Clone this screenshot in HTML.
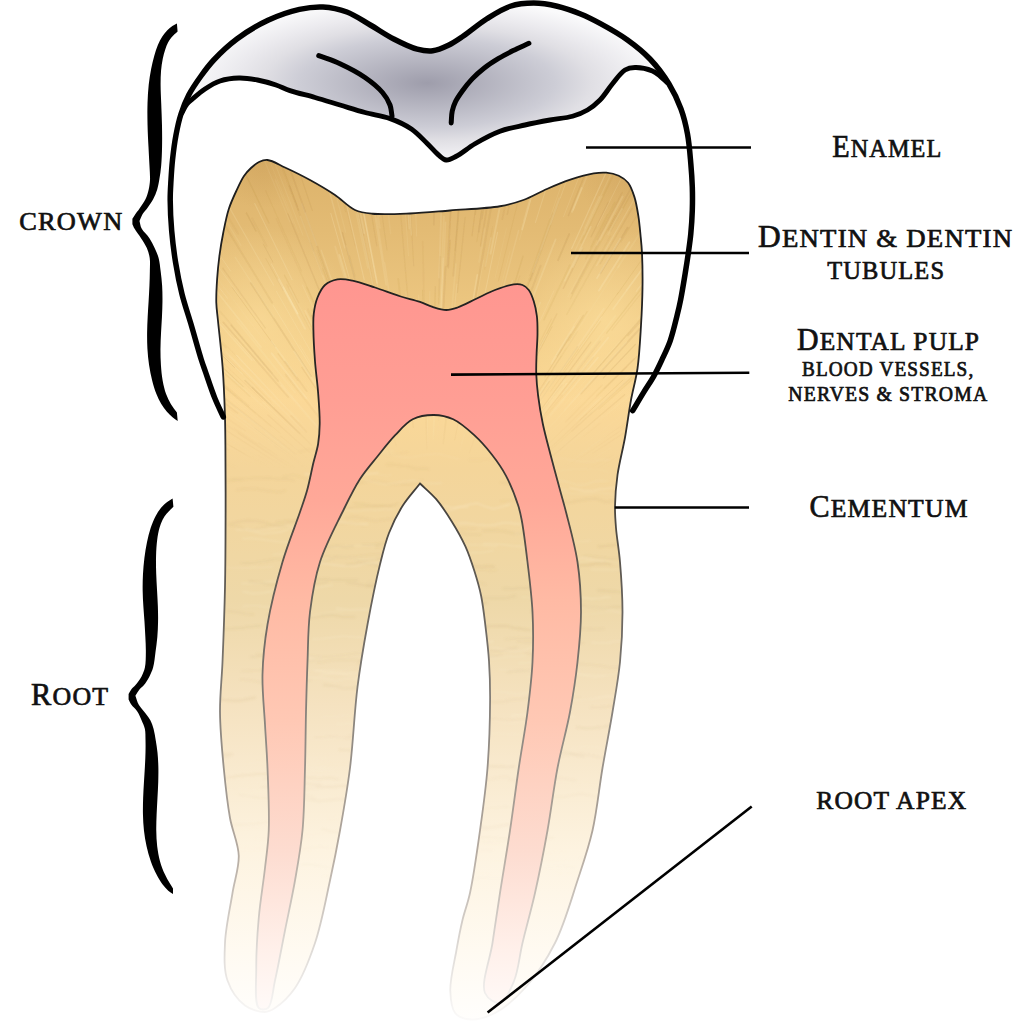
<!DOCTYPE html>
<html><head><meta charset="utf-8"><style>
html,body{margin:0;padding:0;background:#fff;width:1024px;height:1024px;overflow:hidden}
svg{display:block}
text{font-family:"Liberation Serif", serif;fill:#111;font-weight:normal;stroke:#111;stroke-width:0.7px}
</style></head><body>
<svg width="1024" height="1024" viewBox="0 0 1024 1024">
<defs>
  <radialGradient id="gGrey" gradientUnits="userSpaceOnUse" cx="427" cy="83" r="240" gradientTransform="translate(427 83) scale(1 0.35) translate(-427 -83)">
    <stop offset="0" stop-color="#9e9dab"/>
    <stop offset="0.533" stop-color="#cdcdd6"/>
    <stop offset="0.683" stop-color="#e0dfe4"/>
    <stop offset="0.808" stop-color="#ebeaee"/>
    <stop offset="1" stop-color="#fafafb"/>
  </radialGradient>
  <linearGradient id="gDentin" gradientUnits="userSpaceOnUse" x1="0" y1="0" x2="0" y2="1024">
    <stop offset="0.1562" stop-color="#dcb26a"/>
    <stop offset="0.2246" stop-color="#e3bb74"/>
    <stop offset="0.2930" stop-color="#ebc57f"/>
    <stop offset="0.3516" stop-color="#f6d28e"/>
    <stop offset="0.3906" stop-color="#fbd897"/>
    <stop offset="0.4590" stop-color="#f4d59a"/>
    <stop offset="0.5859" stop-color="#eed8a8"/>
    <stop offset="0.6885" stop-color="#f5e2c0"/>
    <stop offset="0.8301" stop-color="#fdf3e0"/>
    <stop offset="0.9277" stop-color="#fffaf1"/>
    <stop offset="0.9961" stop-color="#fffefc"/>
  </linearGradient>
  <linearGradient id="gPulp" gradientUnits="userSpaceOnUse" x1="0" y1="0" x2="0" y2="1024">
    <stop offset="0.2734" stop-color="#ff9690"/>
    <stop offset="0.3906" stop-color="#ff9e94"/>
    <stop offset="0.4883" stop-color="#ffa898"/>
    <stop offset="0.5859" stop-color="#ffbaa4"/>
    <stop offset="0.7031" stop-color="#ffc8b4"/>
    <stop offset="0.8301" stop-color="#fddcd0"/>
    <stop offset="0.9277" stop-color="#fff0ea"/>
    <stop offset="0.9863" stop-color="#fffaf8"/>
  </linearGradient>
  <linearGradient id="gStroke" gradientUnits="userSpaceOnUse" x1="0" y1="0" x2="0" y2="1024">
    <stop offset="0.1562" stop-color="#1c1c1c"/>
    <stop offset="0.4102" stop-color="#2a2826"/>
    <stop offset="0.5469" stop-color="#5a554e"/>
    <stop offset="0.6885" stop-color="#85807a"/>
    <stop offset="0.8301" stop-color="#b4aaa0"/>
    <stop offset="0.9277" stop-color="#dedad6"/>
    <stop offset="0.9961" stop-color="#fbfaf9"/>
  </linearGradient>
  <radialGradient id="gCornerL" gradientUnits="userSpaceOnUse" cx="262" cy="164" r="45">
    <stop offset="0" stop-color="#b88a48" stop-opacity="0.22"/>
    <stop offset="1" stop-color="#b88a48" stop-opacity="0"/>
  </radialGradient>
  <radialGradient id="gCornerR" gradientUnits="userSpaceOnUse" cx="625" cy="180" r="45">
    <stop offset="0" stop-color="#b88a48" stop-opacity="0.18"/>
    <stop offset="1" stop-color="#b88a48" stop-opacity="0"/>
  </radialGradient>
  <filter id="fBlur" x="0" y="0" width="1024" height="1024" filterUnits="userSpaceOnUse"><feGaussianBlur stdDeviation="0.6"/></filter>
  <radialGradient id="gBrightL" gradientUnits="userSpaceOnUse" cx="258" cy="320" r="95">
    <stop offset="0" stop-color="#ffe2a0" stop-opacity="0.55"/>
    <stop offset="1" stop-color="#ffe2a0" stop-opacity="0"/>
  </radialGradient>
  <radialGradient id="gBrightR" gradientUnits="userSpaceOnUse" cx="605" cy="320" r="95">
    <stop offset="0" stop-color="#ffe2a0" stop-opacity="0.6"/>
    <stop offset="1" stop-color="#ffe2a0" stop-opacity="0"/>
  </radialGradient>
  <linearGradient id="gStreakFade" gradientUnits="userSpaceOnUse" x1="0" y1="360" x2="0" y2="470">
    <stop offset="0" stop-color="#fff" stop-opacity="1"/>
    <stop offset="1" stop-color="#fff" stop-opacity="0"/>
  </linearGradient>
  <mask id="mStreak" maskUnits="userSpaceOnUse" x="0" y="0" width="1024" height="1024">
    <rect x="0" y="0" width="1024" height="1024" fill="url(#gStreakFade)"/>
  </mask>
  <filter id="fBlur2" x="0" y="0" width="1024" height="1024" filterUnits="userSpaceOnUse"><feGaussianBlur stdDeviation="1.0"/></filter>
  <linearGradient id="gWaveFade" gradientUnits="userSpaceOnUse" x1="0" y1="420" x2="0" y2="900">
    <stop offset="0" stop-color="#fff" stop-opacity="0"/>
    <stop offset="0.15" stop-color="#fff" stop-opacity="1"/>
    <stop offset="0.7" stop-color="#fff" stop-opacity="0.7"/>
    <stop offset="1" stop-color="#fff" stop-opacity="0"/>
  </linearGradient>
  <mask id="mWave" maskUnits="userSpaceOnUse" x="0" y="0" width="1024" height="1024">
    <rect x="0" y="0" width="1024" height="1024" fill="url(#gWaveFade)"/>
  </mask>
  <clipPath id="cDentin"><path d="M420.00,483.50 C414.17,491.00 407.61,497.89 402.50,506.00 C397.24,514.35 392.71,523.48 389.00,533.00 C385.14,542.90 383.02,552.18 380.00,564.40 C375.86,581.15 371.23,604.23 367.50,624.50 C363.71,645.09 360.30,664.77 357.50,687.00 C354.32,712.20 353.18,742.80 350.00,768.00 C347.20,790.23 343.53,810.86 340.00,830.50 C336.83,848.13 333.86,862.94 330.00,880.50 C325.67,900.21 321.40,924.14 315.00,943.00 C309.40,959.51 302.88,976.53 295.00,988.00 C289.03,996.69 280.88,1004.12 275.00,1008.00 C271.37,1010.39 268.93,1011.87 265.00,1012.00 C259.50,1012.18 250.84,1009.82 245.00,1005.50 C237.97,1000.29 230.92,990.22 227.50,980.50 C223.70,969.71 224.45,956.37 225.00,943.00 C225.64,927.50 230.05,908.46 232.50,893.00 C234.62,879.59 239.15,867.96 238.75,855.50 C238.35,842.96 232.41,831.47 230.00,818.00 C227.25,802.60 225.40,785.16 223.75,768.00 C222.01,749.89 220.15,730.14 220.00,712.00 C219.86,694.87 221.74,680.35 222.50,662.00 C223.44,639.53 224.48,612.00 225.00,587.00 C225.52,562.00 225.54,536.30 225.60,512.00 C225.66,489.04 225.57,463.13 225.40,445.00 C225.28,432.62 225.27,425.21 224.90,413.75 C224.44,399.71 223.76,382.51 222.60,366.90 C221.43,351.26 219.04,331.79 217.90,320.00 C217.21,312.86 216.48,308.98 216.30,302.80 C216.09,295.61 216.58,287.19 217.10,279.40 C217.62,271.59 218.37,263.79 219.40,256.00 C220.43,248.16 221.74,240.31 223.30,232.50 C224.87,224.64 226.44,216.30 228.80,209.00 C230.96,202.32 233.91,196.06 236.60,190.30 C239.00,185.16 241.31,179.95 244.00,176.00 C246.19,172.79 248.46,170.36 251.00,168.00 C253.47,165.71 256.14,163.33 259.00,162.00 C261.67,160.75 264.22,159.71 267.50,160.00 C272.35,160.42 278.69,164.58 285.00,167.50 C292.64,171.04 301.75,175.47 310.00,180.00 C318.42,184.62 327.26,189.79 335.00,195.00 C342.17,199.82 348.21,206.91 355.00,210.00 C360.75,212.62 365.52,213.03 372.50,213.75 C382.60,214.79 397.31,214.02 410.00,213.50 C423.13,212.96 435.93,211.63 450.00,210.50 C465.74,209.24 486.54,208.60 500.00,206.25 C509.35,204.62 515.71,202.80 523.40,200.00 C531.36,197.10 539.02,192.40 546.90,189.00 C554.66,185.65 562.42,182.31 570.30,179.70 C578.04,177.13 587.11,174.47 593.75,173.40 C598.52,172.63 602.11,172.31 606.25,172.70 C610.45,173.09 615.04,174.04 618.75,175.80 C622.28,177.48 625.58,179.65 628.10,182.80 C630.99,186.42 632.74,191.77 634.40,196.90 C636.25,202.60 637.29,209.29 638.30,215.60 C639.33,221.98 639.88,228.65 640.50,235.00 C641.10,241.11 641.66,246.00 642.00,253.00 C642.47,262.74 642.65,276.13 642.50,288.00 C642.34,300.29 641.78,312.58 641.00,325.50 C640.16,339.35 639.39,355.33 637.50,368.50 C635.87,379.87 633.01,389.02 631.00,400.00 C628.82,411.93 627.25,425.02 625.00,437.50 C622.75,450.02 619.17,463.05 617.50,475.00 C615.99,485.78 615.17,496.55 615.00,506.00 C614.86,513.96 615.34,519.88 616.00,528.00 C616.82,538.12 618.96,549.56 620.00,562.00 C621.26,577.05 622.50,595.33 622.50,612.00 C622.50,628.67 621.66,645.37 620.00,662.00 C618.33,678.71 615.31,694.88 612.50,712.00 C609.52,730.16 605.75,748.81 602.50,768.00 C599.07,788.25 596.97,810.97 592.50,830.50 C588.44,848.24 583.27,862.99 577.50,880.50 C570.99,900.26 564.38,924.38 555.00,943.00 C546.53,959.80 535.96,975.81 525.00,988.00 C515.69,998.36 505.06,1007.79 495.00,1013.00 C486.91,1017.19 477.71,1019.93 470.60,1019.50 C464.87,1019.15 458.80,1017.39 455.40,1013.40 C451.37,1008.68 450.62,999.60 450.30,991.00 C449.87,979.52 454.21,963.02 456.40,950.50 C458.31,939.59 460.16,929.82 462.50,920.00 C464.72,910.68 467.61,903.94 470.00,893.00 C473.59,876.55 477.08,851.36 480.00,830.50 C482.91,809.70 485.82,789.31 487.50,768.00 C489.25,745.85 490.00,719.54 490.10,700.00 C490.17,685.21 489.81,673.51 489.00,661.00 C488.25,649.34 486.94,638.33 485.60,627.30 C484.30,616.61 483.12,605.60 481.10,595.80 C479.29,587.01 476.99,579.28 474.40,571.10 C471.77,562.81 469.06,554.50 465.40,546.40 C461.61,538.02 456.80,529.61 451.90,521.70 C447.06,513.89 441.81,505.79 436.20,499.20 C431.11,493.22 425.40,488.73 420.00,483.50 Z"/></clipPath>
</defs>
<path d="M420.00,483.50 C414.17,491.00 407.61,497.89 402.50,506.00 C397.24,514.35 392.71,523.48 389.00,533.00 C385.14,542.90 383.02,552.18 380.00,564.40 C375.86,581.15 371.23,604.23 367.50,624.50 C363.71,645.09 360.30,664.77 357.50,687.00 C354.32,712.20 353.18,742.80 350.00,768.00 C347.20,790.23 343.53,810.86 340.00,830.50 C336.83,848.13 333.86,862.94 330.00,880.50 C325.67,900.21 321.40,924.14 315.00,943.00 C309.40,959.51 302.88,976.53 295.00,988.00 C289.03,996.69 280.88,1004.12 275.00,1008.00 C271.37,1010.39 268.93,1011.87 265.00,1012.00 C259.50,1012.18 250.84,1009.82 245.00,1005.50 C237.97,1000.29 230.92,990.22 227.50,980.50 C223.70,969.71 224.45,956.37 225.00,943.00 C225.64,927.50 230.05,908.46 232.50,893.00 C234.62,879.59 239.15,867.96 238.75,855.50 C238.35,842.96 232.41,831.47 230.00,818.00 C227.25,802.60 225.40,785.16 223.75,768.00 C222.01,749.89 220.15,730.14 220.00,712.00 C219.86,694.87 221.74,680.35 222.50,662.00 C223.44,639.53 224.48,612.00 225.00,587.00 C225.52,562.00 225.54,536.30 225.60,512.00 C225.66,489.04 225.57,463.13 225.40,445.00 C225.28,432.62 225.27,425.21 224.90,413.75 C224.44,399.71 223.76,382.51 222.60,366.90 C221.43,351.26 219.04,331.79 217.90,320.00 C217.21,312.86 216.48,308.98 216.30,302.80 C216.09,295.61 216.58,287.19 217.10,279.40 C217.62,271.59 218.37,263.79 219.40,256.00 C220.43,248.16 221.74,240.31 223.30,232.50 C224.87,224.64 226.44,216.30 228.80,209.00 C230.96,202.32 233.91,196.06 236.60,190.30 C239.00,185.16 241.31,179.95 244.00,176.00 C246.19,172.79 248.46,170.36 251.00,168.00 C253.47,165.71 256.14,163.33 259.00,162.00 C261.67,160.75 264.22,159.71 267.50,160.00 C272.35,160.42 278.69,164.58 285.00,167.50 C292.64,171.04 301.75,175.47 310.00,180.00 C318.42,184.62 327.26,189.79 335.00,195.00 C342.17,199.82 348.21,206.91 355.00,210.00 C360.75,212.62 365.52,213.03 372.50,213.75 C382.60,214.79 397.31,214.02 410.00,213.50 C423.13,212.96 435.93,211.63 450.00,210.50 C465.74,209.24 486.54,208.60 500.00,206.25 C509.35,204.62 515.71,202.80 523.40,200.00 C531.36,197.10 539.02,192.40 546.90,189.00 C554.66,185.65 562.42,182.31 570.30,179.70 C578.04,177.13 587.11,174.47 593.75,173.40 C598.52,172.63 602.11,172.31 606.25,172.70 C610.45,173.09 615.04,174.04 618.75,175.80 C622.28,177.48 625.58,179.65 628.10,182.80 C630.99,186.42 632.74,191.77 634.40,196.90 C636.25,202.60 637.29,209.29 638.30,215.60 C639.33,221.98 639.88,228.65 640.50,235.00 C641.10,241.11 641.66,246.00 642.00,253.00 C642.47,262.74 642.65,276.13 642.50,288.00 C642.34,300.29 641.78,312.58 641.00,325.50 C640.16,339.35 639.39,355.33 637.50,368.50 C635.87,379.87 633.01,389.02 631.00,400.00 C628.82,411.93 627.25,425.02 625.00,437.50 C622.75,450.02 619.17,463.05 617.50,475.00 C615.99,485.78 615.17,496.55 615.00,506.00 C614.86,513.96 615.34,519.88 616.00,528.00 C616.82,538.12 618.96,549.56 620.00,562.00 C621.26,577.05 622.50,595.33 622.50,612.00 C622.50,628.67 621.66,645.37 620.00,662.00 C618.33,678.71 615.31,694.88 612.50,712.00 C609.52,730.16 605.75,748.81 602.50,768.00 C599.07,788.25 596.97,810.97 592.50,830.50 C588.44,848.24 583.27,862.99 577.50,880.50 C570.99,900.26 564.38,924.38 555.00,943.00 C546.53,959.80 535.96,975.81 525.00,988.00 C515.69,998.36 505.06,1007.79 495.00,1013.00 C486.91,1017.19 477.71,1019.93 470.60,1019.50 C464.87,1019.15 458.80,1017.39 455.40,1013.40 C451.37,1008.68 450.62,999.60 450.30,991.00 C449.87,979.52 454.21,963.02 456.40,950.50 C458.31,939.59 460.16,929.82 462.50,920.00 C464.72,910.68 467.61,903.94 470.00,893.00 C473.59,876.55 477.08,851.36 480.00,830.50 C482.91,809.70 485.82,789.31 487.50,768.00 C489.25,745.85 490.00,719.54 490.10,700.00 C490.17,685.21 489.81,673.51 489.00,661.00 C488.25,649.34 486.94,638.33 485.60,627.30 C484.30,616.61 483.12,605.60 481.10,595.80 C479.29,587.01 476.99,579.28 474.40,571.10 C471.77,562.81 469.06,554.50 465.40,546.40 C461.61,538.02 456.80,529.61 451.90,521.70 C447.06,513.89 441.81,505.79 436.20,499.20 C431.11,493.22 425.40,488.73 420.00,483.50 Z" fill="url(#gDentin)"/>
<g clip-path="url(#cDentin)">
  <rect x="180" y="100" width="160" height="160" fill="url(#gCornerL)"/>
  <rect x="540" y="110" width="160" height="160" fill="url(#gCornerR)"/>
  <rect x="150" y="210" width="220" height="220" fill="url(#gBrightL)"/>
  <rect x="500" y="210" width="220" height="220" fill="url(#gBrightR)"/>
  <g stroke-linecap="round" filter="url(#fBlur)" mask="url(#mStreak)">
<line x1="362.4" y1="425.3" x2="324.3" y2="349.2" stroke="#fff2c8" stroke-opacity="0.15" stroke-width="1.2"/>
<line x1="202.9" y1="462.8" x2="181.1" y2="453.5" stroke="#fff2c8" stroke-opacity="0.07" stroke-width="0.9"/>
<line x1="364.1" y1="233.3" x2="357.7" y2="201.6" stroke="#fff2c8" stroke-opacity="0.16" stroke-width="1.9"/>
<line x1="473.9" y1="347.4" x2="497.6" y2="232.2" stroke="#fff2c8" stroke-opacity="0.20" stroke-width="1.1"/>
<line x1="315.6" y1="476.2" x2="274.6" y2="446.2" stroke="#9a7035" stroke-opacity="0.06" stroke-width="1.5"/>
<line x1="505.5" y1="363.4" x2="532.3" y2="293.6" stroke="#fff2c8" stroke-opacity="0.07" stroke-width="1.0"/>
<line x1="533.3" y1="359.6" x2="556.9" y2="313.9" stroke="#9a7035" stroke-opacity="0.08" stroke-width="1.2"/>
<line x1="639.4" y1="347.0" x2="670.6" y2="315.3" stroke="#9a7035" stroke-opacity="0.09" stroke-width="1.9"/>
<line x1="536.9" y1="405.6" x2="604.0" y2="308.6" stroke="#fff2c8" stroke-opacity="0.13" stroke-width="1.7"/>
<line x1="237.7" y1="413.1" x2="218.7" y2="398.5" stroke="#9a7035" stroke-opacity="0.11" stroke-width="1.5"/>
<line x1="592.9" y1="453.3" x2="667.8" y2="404.2" stroke="#9a7035" stroke-opacity="0.09" stroke-width="1.3"/>
<line x1="715.3" y1="332.3" x2="768.0" y2="290.2" stroke="#9a7035" stroke-opacity="0.05" stroke-width="1.6"/>
<line x1="573.2" y1="210.0" x2="611.8" y2="115.4" stroke="#fff2c8" stroke-opacity="0.12" stroke-width="1.6"/>
<line x1="206.6" y1="488.2" x2="171.5" y2="477.0" stroke="#fff2c8" stroke-opacity="0.07" stroke-width="1.7"/>
<line x1="283.3" y1="461.2" x2="234.3" y2="428.2" stroke="#9a7035" stroke-opacity="0.05" stroke-width="1.3"/>
<line x1="475.3" y1="214.4" x2="488.6" y2="113.4" stroke="#9a7035" stroke-opacity="0.07" stroke-width="1.3"/>
<line x1="303.0" y1="235.2" x2="260.9" y2="127.4" stroke="#fff2c8" stroke-opacity="0.09" stroke-width="1.1"/>
<line x1="274.1" y1="376.3" x2="223.0" y2="316.1" stroke="#fff2c8" stroke-opacity="0.06" stroke-width="1.3"/>
<line x1="341.1" y1="312.6" x2="302.1" y2="204.1" stroke="#9a7035" stroke-opacity="0.09" stroke-width="1.5"/>
<line x1="485.9" y1="448.6" x2="535.2" y2="350.4" stroke="#9a7035" stroke-opacity="0.12" stroke-width="1.8"/>
<line x1="369.0" y1="351.0" x2="360.5" y2="321.9" stroke="#9a7035" stroke-opacity="0.05" stroke-width="0.9"/>
<line x1="323.1" y1="449.4" x2="285.5" y2="410.6" stroke="#fff2c8" stroke-opacity="0.06" stroke-width="1.0"/>
<line x1="249.2" y1="456.7" x2="229.7" y2="445.5" stroke="#9a7035" stroke-opacity="0.10" stroke-width="1.0"/>
<line x1="306.1" y1="398.2" x2="271.7" y2="353.4" stroke="#fff2c8" stroke-opacity="0.20" stroke-width="2.0"/>
<line x1="408.4" y1="320.3" x2="405.9" y2="291.9" stroke="#fff2c8" stroke-opacity="0.11" stroke-width="1.1"/>
<line x1="547.2" y1="460.7" x2="564.2" y2="446.3" stroke="#9a7035" stroke-opacity="0.09" stroke-width="1.0"/>
<line x1="443.3" y1="443.5" x2="451.6" y2="371.1" stroke="#9a7035" stroke-opacity="0.12" stroke-width="1.6"/>
<line x1="306.8" y1="391.2" x2="285.2" y2="361.5" stroke="#9a7035" stroke-opacity="0.09" stroke-width="1.7"/>
<line x1="356.0" y1="406.7" x2="312.1" y2="315.6" stroke="#9a7035" stroke-opacity="0.12" stroke-width="1.8"/>
<line x1="660.7" y1="353.3" x2="692.5" y2="324.8" stroke="#fff2c8" stroke-opacity="0.12" stroke-width="0.8"/>
<line x1="254.3" y1="500.8" x2="210.8" y2="486.1" stroke="#9a7035" stroke-opacity="0.13" stroke-width="1.3"/>
<line x1="774.4" y1="407.2" x2="880.0" y2="360.4" stroke="#fff2c8" stroke-opacity="0.10" stroke-width="1.1"/>
<line x1="311.5" y1="445.0" x2="252.3" y2="387.6" stroke="#9a7035" stroke-opacity="0.12" stroke-width="1.4"/>
<line x1="558.0" y1="260.3" x2="569.2" y2="234.1" stroke="#9a7035" stroke-opacity="0.12" stroke-width="1.7"/>
<line x1="576.6" y1="371.2" x2="599.8" y2="341.3" stroke="#9a7035" stroke-opacity="0.07" stroke-width="1.8"/>
<line x1="635.4" y1="490.5" x2="692.4" y2="471.3" stroke="#9a7035" stroke-opacity="0.11" stroke-width="1.0"/>
<line x1="304.4" y1="476.5" x2="212.4" y2="415.4" stroke="#9a7035" stroke-opacity="0.05" stroke-width="1.8"/>
<line x1="704.3" y1="474.1" x2="756.9" y2="457.7" stroke="#fff2c8" stroke-opacity="0.08" stroke-width="0.8"/>
<line x1="700.2" y1="468.0" x2="769.0" y2="444.6" stroke="#9a7035" stroke-opacity="0.08" stroke-width="1.8"/>
<line x1="556.6" y1="451.1" x2="590.9" y2="421.7" stroke="#fff2c8" stroke-opacity="0.10" stroke-width="1.5"/>
<line x1="297.6" y1="380.4" x2="278.0" y2="353.7" stroke="#9a7035" stroke-opacity="0.07" stroke-width="1.3"/>
<line x1="507.3" y1="214.4" x2="520.8" y2="153.8" stroke="#9a7035" stroke-opacity="0.09" stroke-width="1.4"/>
<line x1="437.1" y1="445.2" x2="441.1" y2="381.3" stroke="#fff2c8" stroke-opacity="0.06" stroke-width="1.8"/>
<line x1="249.0" y1="405.7" x2="178.6" y2="345.6" stroke="#9a7035" stroke-opacity="0.07" stroke-width="1.4"/>
<line x1="476.9" y1="241.7" x2="481.4" y2="211.4" stroke="#9a7035" stroke-opacity="0.06" stroke-width="1.1"/>
<line x1="592.6" y1="374.0" x2="642.8" y2="316.7" stroke="#9a7035" stroke-opacity="0.12" stroke-width="1.3"/>
<line x1="502.1" y1="324.3" x2="523.0" y2="256.2" stroke="#9a7035" stroke-opacity="0.08" stroke-width="1.4"/>
<line x1="408.9" y1="196.4" x2="403.7" y2="106.6" stroke="#9a7035" stroke-opacity="0.12" stroke-width="1.1"/>
<line x1="487.0" y1="199.8" x2="503.3" y2="97.1" stroke="#fff2c8" stroke-opacity="0.08" stroke-width="1.3"/>
<line x1="271.9" y1="485.0" x2="247.2" y2="473.3" stroke="#9a7035" stroke-opacity="0.11" stroke-width="1.9"/>
<line x1="190.1" y1="374.3" x2="122.1" y2="321.6" stroke="#fff2c8" stroke-opacity="0.20" stroke-width="2.0"/>
<line x1="182.4" y1="288.8" x2="142.1" y2="244.7" stroke="#fff2c8" stroke-opacity="0.22" stroke-width="1.8"/>
<line x1="253.5" y1="418.0" x2="197.7" y2="373.2" stroke="#fff2c8" stroke-opacity="0.09" stroke-width="1.2"/>
<line x1="493.8" y1="464.0" x2="535.5" y2="401.2" stroke="#fff2c8" stroke-opacity="0.06" stroke-width="1.2"/>
<line x1="509.8" y1="324.8" x2="518.3" y2="299.8" stroke="#9a7035" stroke-opacity="0.11" stroke-width="2.0"/>
<line x1="273.0" y1="468.5" x2="252.3" y2="456.4" stroke="#9a7035" stroke-opacity="0.06" stroke-width="1.0"/>
<line x1="357.5" y1="211.4" x2="336.7" y2="111.6" stroke="#fff2c8" stroke-opacity="0.08" stroke-width="1.9"/>
<line x1="485.4" y1="266.1" x2="490.8" y2="237.6" stroke="#fff2c8" stroke-opacity="0.17" stroke-width="1.3"/>
<line x1="101.6" y1="404.4" x2="26.2" y2="368.7" stroke="#9a7035" stroke-opacity="0.05" stroke-width="1.8"/>
<line x1="117.9" y1="417.9" x2="58.4" y2="390.8" stroke="#fff2c8" stroke-opacity="0.15" stroke-width="1.9"/>
<line x1="346.7" y1="441.5" x2="304.9" y2="382.0" stroke="#fff2c8" stroke-opacity="0.08" stroke-width="1.0"/>
<line x1="277.5" y1="498.3" x2="230.1" y2="479.1" stroke="#fff2c8" stroke-opacity="0.18" stroke-width="1.1"/>
<line x1="430.0" y1="402.0" x2="430.0" y2="347.3" stroke="#fff2c8" stroke-opacity="0.10" stroke-width="0.8"/>
<line x1="579.3" y1="348.6" x2="601.8" y2="316.8" stroke="#fff2c8" stroke-opacity="0.21" stroke-width="0.9"/>
<line x1="599.0" y1="409.0" x2="650.9" y2="362.7" stroke="#9a7035" stroke-opacity="0.08" stroke-width="1.4"/>
<line x1="608.4" y1="229.9" x2="634.2" y2="182.1" stroke="#9a7035" stroke-opacity="0.10" stroke-width="1.6"/>
<line x1="379.3" y1="362.6" x2="372.9" y2="337.9" stroke="#fff2c8" stroke-opacity="0.07" stroke-width="1.7"/>
<line x1="337.4" y1="436.9" x2="320.3" y2="414.1" stroke="#9a7035" stroke-opacity="0.12" stroke-width="1.6"/>
<line x1="334.5" y1="412.9" x2="307.7" y2="371.5" stroke="#fff2c8" stroke-opacity="0.09" stroke-width="1.3"/>
<line x1="213.8" y1="260.2" x2="145.2" y2="165.0" stroke="#fff2c8" stroke-opacity="0.10" stroke-width="2.0"/>
<line x1="330.6" y1="379.2" x2="321.0" y2="361.6" stroke="#fff2c8" stroke-opacity="0.14" stroke-width="1.4"/>
<line x1="255.2" y1="386.5" x2="240.7" y2="372.1" stroke="#fff2c8" stroke-opacity="0.07" stroke-width="1.3"/>
<line x1="321.4" y1="519.0" x2="274.3" y2="501.1" stroke="#fff2c8" stroke-opacity="0.15" stroke-width="1.4"/>
<line x1="606.6" y1="333.1" x2="662.8" y2="260.8" stroke="#9a7035" stroke-opacity="0.08" stroke-width="1.2"/>
<line x1="574.0" y1="516.8" x2="662.5" y2="490.2" stroke="#9a7035" stroke-opacity="0.04" stroke-width="1.8"/>
<line x1="670.1" y1="417.2" x2="750.4" y2="369.5" stroke="#9a7035" stroke-opacity="0.05" stroke-width="1.4"/>
<line x1="433.9" y1="224.6" x2="435.0" y2="124.1" stroke="#9a7035" stroke-opacity="0.09" stroke-width="1.9"/>
<line x1="567.9" y1="296.8" x2="587.9" y2="258.7" stroke="#fff2c8" stroke-opacity="0.08" stroke-width="1.2"/>
<line x1="140.1" y1="390.8" x2="74.6" y2="352.6" stroke="#9a7035" stroke-opacity="0.10" stroke-width="1.6"/>
<line x1="426.9" y1="449.1" x2="424.0" y2="349.4" stroke="#9a7035" stroke-opacity="0.09" stroke-width="1.4"/>
<line x1="482.2" y1="443.3" x2="520.4" y2="357.8" stroke="#fff2c8" stroke-opacity="0.07" stroke-width="1.1"/>
<line x1="524.1" y1="424.0" x2="577.6" y2="346.7" stroke="#9a7035" stroke-opacity="0.08" stroke-width="1.3"/>
<line x1="413.7" y1="265.9" x2="408.3" y2="169.3" stroke="#9a7035" stroke-opacity="0.10" stroke-width="0.9"/>
<line x1="286.8" y1="453.3" x2="211.2" y2="397.0" stroke="#fff2c8" stroke-opacity="0.15" stroke-width="0.8"/>
<line x1="262.7" y1="487.0" x2="182.7" y2="452.1" stroke="#9a7035" stroke-opacity="0.10" stroke-width="1.1"/>
<line x1="440.3" y1="324.8" x2="443.2" y2="258.2" stroke="#fff2c8" stroke-opacity="0.20" stroke-width="1.0"/>
<line x1="775.6" y1="449.7" x2="796.3" y2="443.0" stroke="#fff2c8" stroke-opacity="0.19" stroke-width="2.0"/>
<line x1="405.7" y1="379.1" x2="400.3" y2="338.5" stroke="#9a7035" stroke-opacity="0.06" stroke-width="1.5"/>
<line x1="226.1" y1="412.8" x2="132.6" y2="345.3" stroke="#fff2c8" stroke-opacity="0.19" stroke-width="1.4"/>
<line x1="685.7" y1="403.3" x2="722.5" y2="380.7" stroke="#9a7035" stroke-opacity="0.08" stroke-width="0.8"/>
<line x1="195.5" y1="497.4" x2="132.6" y2="480.6" stroke="#fff2c8" stroke-opacity="0.08" stroke-width="1.2"/>
<line x1="272.8" y1="262.0" x2="263.4" y2="244.2" stroke="#9a7035" stroke-opacity="0.12" stroke-width="0.9"/>
<line x1="703.0" y1="429.6" x2="802.4" y2="382.2" stroke="#fff2c8" stroke-opacity="0.12" stroke-width="1.3"/>
<line x1="690.4" y1="492.3" x2="744.7" y2="478.1" stroke="#fff2c8" stroke-opacity="0.10" stroke-width="0.9"/>
<line x1="138.9" y1="393.4" x2="96.8" y2="369.3" stroke="#9a7035" stroke-opacity="0.06" stroke-width="1.1"/>
<line x1="434.7" y1="398.8" x2="436.3" y2="341.5" stroke="#9a7035" stroke-opacity="0.12" stroke-width="1.8"/>
<line x1="550.8" y1="224.4" x2="589.4" y2="117.1" stroke="#fff2c8" stroke-opacity="0.18" stroke-width="0.9"/>
<line x1="563.4" y1="370.5" x2="618.2" y2="292.6" stroke="#9a7035" stroke-opacity="0.07" stroke-width="0.9"/>
<line x1="560.3" y1="497.9" x2="621.0" y2="469.0" stroke="#fff2c8" stroke-opacity="0.11" stroke-width="1.7"/>
<line x1="601.4" y1="504.3" x2="682.9" y2="477.9" stroke="#fff2c8" stroke-opacity="0.15" stroke-width="1.3"/>
<line x1="311.8" y1="461.9" x2="280.4" y2="435.8" stroke="#9a7035" stroke-opacity="0.08" stroke-width="1.1"/>
<line x1="762.9" y1="378.7" x2="820.0" y2="347.6" stroke="#fff2c8" stroke-opacity="0.09" stroke-width="0.9"/>
<line x1="375.5" y1="436.9" x2="357.7" y2="396.8" stroke="#fff2c8" stroke-opacity="0.15" stroke-width="1.9"/>
<line x1="565.6" y1="384.9" x2="603.2" y2="336.4" stroke="#fff2c8" stroke-opacity="0.12" stroke-width="1.2"/>
<line x1="260.8" y1="485.4" x2="153.9" y2="438.3" stroke="#fff2c8" stroke-opacity="0.14" stroke-width="1.6"/>
<line x1="567.6" y1="463.1" x2="606.2" y2="436.0" stroke="#fff2c8" stroke-opacity="0.12" stroke-width="1.3"/>
<line x1="745.8" y1="436.5" x2="845.8" y2="397.4" stroke="#fff2c8" stroke-opacity="0.07" stroke-width="1.7"/>
<line x1="635.6" y1="440.5" x2="703.6" y2="400.9" stroke="#fff2c8" stroke-opacity="0.12" stroke-width="1.9"/>
<line x1="688.2" y1="337.3" x2="777.0" y2="260.8" stroke="#fff2c8" stroke-opacity="0.08" stroke-width="1.0"/>
<line x1="447.4" y1="266.4" x2="454.1" y2="152.4" stroke="#9a7035" stroke-opacity="0.10" stroke-width="1.7"/>
<line x1="400.9" y1="302.7" x2="398.2" y2="278.9" stroke="#9a7035" stroke-opacity="0.06" stroke-width="1.9"/>
<line x1="501.9" y1="382.0" x2="514.2" y2="351.6" stroke="#fff2c8" stroke-opacity="0.16" stroke-width="1.6"/>
<line x1="319.8" y1="492.9" x2="258.0" y2="455.2" stroke="#9a7035" stroke-opacity="0.07" stroke-width="1.1"/>
<line x1="459.7" y1="451.2" x2="473.0" y2="402.8" stroke="#fff2c8" stroke-opacity="0.21" stroke-width="1.6"/>
<line x1="632.2" y1="433.8" x2="669.1" y2="410.8" stroke="#fff2c8" stroke-opacity="0.21" stroke-width="1.6"/>
<line x1="373.6" y1="458.8" x2="339.6" y2="397.8" stroke="#9a7035" stroke-opacity="0.08" stroke-width="1.1"/>
<line x1="583.8" y1="234.7" x2="602.0" y2="196.1" stroke="#fff2c8" stroke-opacity="0.11" stroke-width="1.3"/>
<line x1="505.8" y1="415.1" x2="552.0" y2="326.8" stroke="#9a7035" stroke-opacity="0.09" stroke-width="1.0"/>
<line x1="613.6" y1="496.9" x2="710.1" y2="463.8" stroke="#fff2c8" stroke-opacity="0.10" stroke-width="1.7"/>
<line x1="240.9" y1="245.4" x2="205.1" y2="185.8" stroke="#fff2c8" stroke-opacity="0.10" stroke-width="1.3"/>
<line x1="584.7" y1="228.1" x2="599.3" y2="196.7" stroke="#fff2c8" stroke-opacity="0.09" stroke-width="2.0"/>
<line x1="329.5" y1="487.4" x2="308.4" y2="472.1" stroke="#fff2c8" stroke-opacity="0.20" stroke-width="1.9"/>
<line x1="648.6" y1="250.0" x2="713.8" y2="157.5" stroke="#fff2c8" stroke-opacity="0.09" stroke-width="1.9"/>
<line x1="501.8" y1="465.6" x2="554.1" y2="396.8" stroke="#fff2c8" stroke-opacity="0.12" stroke-width="1.2"/>
<line x1="345.1" y1="488.8" x2="308.4" y2="458.0" stroke="#fff2c8" stroke-opacity="0.21" stroke-width="0.9"/>
<line x1="586.2" y1="503.8" x2="638.6" y2="484.9" stroke="#9a7035" stroke-opacity="0.11" stroke-width="1.3"/>
<line x1="209.2" y1="471.5" x2="156.1" y2="450.2" stroke="#9a7035" stroke-opacity="0.06" stroke-width="1.2"/>
<line x1="532.4" y1="501.0" x2="585.3" y2="470.4" stroke="#9a7035" stroke-opacity="0.11" stroke-width="0.8"/>
<line x1="310.5" y1="517.3" x2="205.0" y2="479.6" stroke="#fff2c8" stroke-opacity="0.18" stroke-width="1.9"/>
<line x1="354.4" y1="392.8" x2="306.7" y2="287.3" stroke="#9a7035" stroke-opacity="0.06" stroke-width="1.7"/>
<line x1="344.1" y1="396.8" x2="334.7" y2="378.8" stroke="#9a7035" stroke-opacity="0.12" stroke-width="1.6"/>
<line x1="537.3" y1="514.5" x2="577.2" y2="497.6" stroke="#fff2c8" stroke-opacity="0.21" stroke-width="1.9"/>
<line x1="377.5" y1="390.1" x2="359.0" y2="329.9" stroke="#fff2c8" stroke-opacity="0.21" stroke-width="1.0"/>
<line x1="651.6" y1="344.1" x2="724.9" y2="272.7" stroke="#9a7035" stroke-opacity="0.09" stroke-width="1.2"/>
<line x1="334.8" y1="375.4" x2="289.8" y2="288.1" stroke="#fff2c8" stroke-opacity="0.09" stroke-width="1.7"/>
<line x1="351.2" y1="459.8" x2="336.7" y2="441.5" stroke="#9a7035" stroke-opacity="0.07" stroke-width="2.0"/>
<line x1="749.4" y1="360.3" x2="788.8" y2="335.6" stroke="#fff2c8" stroke-opacity="0.08" stroke-width="1.4"/>
<line x1="551.3" y1="363.8" x2="574.1" y2="326.8" stroke="#fff2c8" stroke-opacity="0.16" stroke-width="1.6"/>
<line x1="636.2" y1="291.3" x2="688.8" y2="222.7" stroke="#fff2c8" stroke-opacity="0.19" stroke-width="1.2"/>
<line x1="467.0" y1="352.6" x2="483.5" y2="260.2" stroke="#fff2c8" stroke-opacity="0.10" stroke-width="1.1"/>
<line x1="153.6" y1="347.3" x2="92.0" y2="299.8" stroke="#fff2c8" stroke-opacity="0.12" stroke-width="2.0"/>
<line x1="433.3" y1="387.6" x2="435.3" y2="286.7" stroke="#9a7035" stroke-opacity="0.13" stroke-width="0.9"/>
<line x1="408.0" y1="229.6" x2="401.0" y2="125.8" stroke="#9a7035" stroke-opacity="0.04" stroke-width="1.2"/>
<line x1="293.9" y1="473.6" x2="194.9" y2="410.7" stroke="#9a7035" stroke-opacity="0.12" stroke-width="1.2"/>
<line x1="620.3" y1="428.5" x2="658.1" y2="402.4" stroke="#9a7035" stroke-opacity="0.13" stroke-width="0.9"/>
<line x1="499.6" y1="291.5" x2="510.1" y2="251.1" stroke="#fff2c8" stroke-opacity="0.08" stroke-width="1.0"/>
<line x1="266.2" y1="343.1" x2="214.9" y2="275.1" stroke="#fff2c8" stroke-opacity="0.06" stroke-width="1.2"/>
<line x1="502.5" y1="417.4" x2="525.8" y2="371.7" stroke="#fff2c8" stroke-opacity="0.19" stroke-width="1.5"/>
<line x1="304.5" y1="504.2" x2="250.1" y2="480.0" stroke="#9a7035" stroke-opacity="0.10" stroke-width="0.9"/>
<line x1="199.1" y1="372.0" x2="151.8" y2="333.5" stroke="#fff2c8" stroke-opacity="0.11" stroke-width="1.9"/>
<line x1="305.0" y1="328.6" x2="278.6" y2="279.6" stroke="#fff2c8" stroke-opacity="0.20" stroke-width="2.0"/>
<line x1="372.6" y1="407.2" x2="339.9" y2="320.3" stroke="#fff2c8" stroke-opacity="0.06" stroke-width="1.9"/>
<line x1="363.7" y1="235.2" x2="351.6" y2="175.8" stroke="#9a7035" stroke-opacity="0.08" stroke-width="1.0"/>
<line x1="181.9" y1="485.8" x2="101.4" y2="461.8" stroke="#9a7035" stroke-opacity="0.05" stroke-width="1.5"/>
<line x1="347.7" y1="328.0" x2="336.1" y2="295.4" stroke="#fff2c8" stroke-opacity="0.14" stroke-width="1.9"/>
<line x1="221.9" y1="435.7" x2="135.6" y2="384.2" stroke="#9a7035" stroke-opacity="0.06" stroke-width="1.0"/>
<line x1="773.7" y1="414.1" x2="836.5" y2="387.4" stroke="#fff2c8" stroke-opacity="0.21" stroke-width="1.3"/>
<line x1="673.0" y1="426.0" x2="762.7" y2="376.5" stroke="#fff2c8" stroke-opacity="0.19" stroke-width="1.1"/>
<line x1="345.6" y1="232.2" x2="319.9" y2="132.5" stroke="#fff2c8" stroke-opacity="0.09" stroke-width="1.3"/>
<line x1="440.1" y1="346.7" x2="441.6" y2="314.4" stroke="#fff2c8" stroke-opacity="0.18" stroke-width="1.9"/>
<line x1="184.9" y1="467.8" x2="95.3" y2="434.1" stroke="#fff2c8" stroke-opacity="0.19" stroke-width="0.9"/>
<line x1="497.1" y1="310.4" x2="518.6" y2="230.5" stroke="#fff2c8" stroke-opacity="0.13" stroke-width="1.5"/>
<line x1="373.9" y1="277.6" x2="361.3" y2="214.2" stroke="#fff2c8" stroke-opacity="0.06" stroke-width="1.5"/>
<line x1="425.2" y1="386.5" x2="422.5" y2="290.2" stroke="#9a7035" stroke-opacity="0.08" stroke-width="1.0"/>
<line x1="420.2" y1="421.4" x2="417.9" y2="388.7" stroke="#fff2c8" stroke-opacity="0.07" stroke-width="1.3"/>
<line x1="433.2" y1="439.0" x2="435.5" y2="355.4" stroke="#fff2c8" stroke-opacity="0.18" stroke-width="1.7"/>
<line x1="433.8" y1="435.4" x2="435.9" y2="365.0" stroke="#fff2c8" stroke-opacity="0.21" stroke-width="1.0"/>
<line x1="736.5" y1="337.2" x2="811.9" y2="282.4" stroke="#9a7035" stroke-opacity="0.06" stroke-width="2.0"/>
<line x1="422.1" y1="191.8" x2="419.7" y2="80.2" stroke="#fff2c8" stroke-opacity="0.19" stroke-width="1.9"/>
<line x1="243.4" y1="475.7" x2="156.3" y2="436.4" stroke="#fff2c8" stroke-opacity="0.20" stroke-width="1.1"/>
<line x1="540.1" y1="459.9" x2="592.0" y2="412.7" stroke="#9a7035" stroke-opacity="0.06" stroke-width="1.1"/>
<line x1="433.1" y1="363.9" x2="433.5" y2="340.2" stroke="#fff2c8" stroke-opacity="0.09" stroke-width="1.9"/>
<line x1="590.6" y1="247.0" x2="607.4" y2="214.2" stroke="#9a7035" stroke-opacity="0.05" stroke-width="1.4"/>
<line x1="502.9" y1="366.1" x2="540.7" y2="265.7" stroke="#9a7035" stroke-opacity="0.09" stroke-width="1.9"/>
<line x1="103.3" y1="369.7" x2="31.6" y2="328.0" stroke="#fff2c8" stroke-opacity="0.19" stroke-width="1.1"/>
<line x1="685.8" y1="487.4" x2="739.7" y2="472.2" stroke="#9a7035" stroke-opacity="0.08" stroke-width="1.0"/>
<line x1="503.8" y1="461.5" x2="564.9" y2="379.9" stroke="#fff2c8" stroke-opacity="0.16" stroke-width="2.0"/>
<line x1="495.0" y1="278.2" x2="506.5" y2="228.2" stroke="#fff2c8" stroke-opacity="0.07" stroke-width="1.0"/>
<line x1="498.3" y1="343.8" x2="519.8" y2="275.9" stroke="#9a7035" stroke-opacity="0.05" stroke-width="1.1"/>
<line x1="475.6" y1="453.3" x2="483.6" y2="434.7" stroke="#fff2c8" stroke-opacity="0.08" stroke-width="1.2"/>
<line x1="252.0" y1="360.2" x2="199.5" y2="301.3" stroke="#fff2c8" stroke-opacity="0.16" stroke-width="1.4"/>
<line x1="131.9" y1="353.0" x2="95.5" y2="327.7" stroke="#fff2c8" stroke-opacity="0.08" stroke-width="1.6"/>
<line x1="696.7" y1="381.0" x2="746.7" y2="347.5" stroke="#fff2c8" stroke-opacity="0.06" stroke-width="1.6"/>
<line x1="463.5" y1="358.2" x2="477.3" y2="274.8" stroke="#fff2c8" stroke-opacity="0.21" stroke-width="1.7"/>
<line x1="212.0" y1="281.2" x2="196.9" y2="262.0" stroke="#fff2c8" stroke-opacity="0.12" stroke-width="1.1"/>
<line x1="135.7" y1="433.7" x2="116.2" y2="425.3" stroke="#9a7035" stroke-opacity="0.12" stroke-width="1.0"/>
<line x1="234.7" y1="367.6" x2="184.3" y2="318.0" stroke="#9a7035" stroke-opacity="0.11" stroke-width="1.0"/>
<line x1="337.9" y1="392.6" x2="325.9" y2="370.8" stroke="#9a7035" stroke-opacity="0.11" stroke-width="1.7"/>
<line x1="104.1" y1="470.5" x2="12.9" y2="445.4" stroke="#fff2c8" stroke-opacity="0.18" stroke-width="1.3"/>
<line x1="338.4" y1="456.2" x2="309.8" y2="423.8" stroke="#fff2c8" stroke-opacity="0.11" stroke-width="1.7"/>
<line x1="596.6" y1="265.6" x2="641.5" y2="186.3" stroke="#fff2c8" stroke-opacity="0.15" stroke-width="1.3"/>
<line x1="603.3" y1="378.1" x2="635.4" y2="344.4" stroke="#9a7035" stroke-opacity="0.13" stroke-width="1.1"/>
<line x1="526.2" y1="498.6" x2="565.0" y2="473.9" stroke="#fff2c8" stroke-opacity="0.18" stroke-width="1.9"/>
<line x1="549.9" y1="402.1" x2="615.2" y2="316.1" stroke="#fff2c8" stroke-opacity="0.10" stroke-width="1.9"/>
<line x1="530.4" y1="280.4" x2="559.7" y2="199.0" stroke="#9a7035" stroke-opacity="0.08" stroke-width="1.8"/>
<line x1="600.1" y1="263.9" x2="631.9" y2="208.6" stroke="#9a7035" stroke-opacity="0.09" stroke-width="1.2"/>
<line x1="238.4" y1="358.4" x2="219.2" y2="338.3" stroke="#9a7035" stroke-opacity="0.05" stroke-width="0.8"/>
<line x1="119.2" y1="376.7" x2="72.3" y2="349.0" stroke="#fff2c8" stroke-opacity="0.06" stroke-width="0.8"/>
<line x1="566.8" y1="314.4" x2="610.5" y2="236.0" stroke="#9a7035" stroke-opacity="0.05" stroke-width="1.5"/>
<line x1="313.3" y1="250.5" x2="277.4" y2="155.1" stroke="#9a7035" stroke-opacity="0.05" stroke-width="1.8"/>
<line x1="754.2" y1="392.4" x2="781.5" y2="378.3" stroke="#fff2c8" stroke-opacity="0.08" stroke-width="0.8"/>
<line x1="691.5" y1="359.9" x2="757.7" y2="309.2" stroke="#9a7035" stroke-opacity="0.10" stroke-width="1.1"/>
<line x1="311.3" y1="492.8" x2="227.9" y2="445.7" stroke="#fff2c8" stroke-opacity="0.11" stroke-width="1.3"/>
<line x1="259.0" y1="505.9" x2="213.0" y2="491.3" stroke="#9a7035" stroke-opacity="0.07" stroke-width="1.2"/>
<line x1="661.4" y1="476.5" x2="760.3" y2="440.8" stroke="#9a7035" stroke-opacity="0.04" stroke-width="1.3"/>
<line x1="376.8" y1="245.8" x2="367.7" y2="191.8" stroke="#9a7035" stroke-opacity="0.09" stroke-width="1.1"/>
<line x1="539.9" y1="482.4" x2="623.2" y2="423.6" stroke="#fff2c8" stroke-opacity="0.06" stroke-width="1.0"/>
<line x1="668.6" y1="272.0" x2="681.7" y2="256.2" stroke="#fff2c8" stroke-opacity="0.14" stroke-width="1.8"/>
<line x1="249.9" y1="396.1" x2="209.4" y2="359.3" stroke="#9a7035" stroke-opacity="0.06" stroke-width="1.9"/>
<line x1="339.3" y1="418.6" x2="290.7" y2="343.0" stroke="#fff2c8" stroke-opacity="0.08" stroke-width="1.6"/>
<line x1="141.5" y1="415.3" x2="61.3" y2="375.1" stroke="#9a7035" stroke-opacity="0.10" stroke-width="1.2"/>
<line x1="374.2" y1="350.8" x2="346.1" y2="245.4" stroke="#fff2c8" stroke-opacity="0.20" stroke-width="0.8"/>
<line x1="303.2" y1="430.7" x2="226.1" y2="352.1" stroke="#fff2c8" stroke-opacity="0.12" stroke-width="1.9"/>
<line x1="278.4" y1="381.2" x2="231.1" y2="325.3" stroke="#9a7035" stroke-opacity="0.11" stroke-width="1.6"/>
<line x1="352.8" y1="377.4" x2="339.0" y2="344.7" stroke="#9a7035" stroke-opacity="0.10" stroke-width="1.7"/>
<line x1="255.1" y1="413.0" x2="180.5" y2="350.4" stroke="#9a7035" stroke-opacity="0.05" stroke-width="1.4"/>
<line x1="578.1" y1="468.3" x2="611.4" y2="447.6" stroke="#fff2c8" stroke-opacity="0.17" stroke-width="1.8"/>
<line x1="309.8" y1="466.8" x2="274.4" y2="439.4" stroke="#fff2c8" stroke-opacity="0.14" stroke-width="1.0"/>
<line x1="359.4" y1="415.2" x2="307.9" y2="309.6" stroke="#9a7035" stroke-opacity="0.05" stroke-width="2.0"/>
<line x1="244.5" y1="453.9" x2="141.7" y2="395.1" stroke="#9a7035" stroke-opacity="0.11" stroke-width="1.3"/>
<line x1="227.2" y1="363.7" x2="205.1" y2="342.4" stroke="#fff2c8" stroke-opacity="0.12" stroke-width="0.8"/>
<line x1="344.8" y1="247.8" x2="321.3" y2="161.7" stroke="#fff2c8" stroke-opacity="0.16" stroke-width="1.4"/>
<line x1="208.7" y1="400.1" x2="159.7" y2="364.7" stroke="#9a7035" stroke-opacity="0.12" stroke-width="1.3"/>
<line x1="490.6" y1="253.7" x2="502.6" y2="192.7" stroke="#fff2c8" stroke-opacity="0.18" stroke-width="1.9"/>
<line x1="627.9" y1="335.8" x2="697.5" y2="256.9" stroke="#9a7035" stroke-opacity="0.10" stroke-width="1.3"/>
<line x1="297.5" y1="313.7" x2="283.4" y2="287.5" stroke="#fff2c8" stroke-opacity="0.19" stroke-width="1.7"/>
<line x1="489.5" y1="392.8" x2="510.5" y2="334.0" stroke="#fff2c8" stroke-opacity="0.16" stroke-width="1.3"/>
<line x1="591.1" y1="236.8" x2="608.2" y2="202.5" stroke="#9a7035" stroke-opacity="0.11" stroke-width="1.3"/>
<line x1="420.0" y1="187.0" x2="419.4" y2="163.2" stroke="#fff2c8" stroke-opacity="0.09" stroke-width="1.7"/>
<line x1="659.6" y1="460.7" x2="687.3" y2="448.8" stroke="#9a7035" stroke-opacity="0.09" stroke-width="1.7"/>
<line x1="439.1" y1="277.5" x2="442.4" y2="174.7" stroke="#fff2c8" stroke-opacity="0.13" stroke-width="1.9"/>
<line x1="225.8" y1="347.4" x2="184.8" y2="304.6" stroke="#9a7035" stroke-opacity="0.05" stroke-width="2.0"/>
<line x1="383.4" y1="443.7" x2="365.7" y2="399.7" stroke="#fff2c8" stroke-opacity="0.06" stroke-width="1.3"/>
<line x1="367.9" y1="268.0" x2="356.4" y2="214.0" stroke="#fff2c8" stroke-opacity="0.10" stroke-width="1.7"/>
<line x1="661.4" y1="459.5" x2="699.8" y2="442.8" stroke="#9a7035" stroke-opacity="0.08" stroke-width="1.1"/>
<line x1="164.8" y1="381.5" x2="81.1" y2="325.1" stroke="#9a7035" stroke-opacity="0.08" stroke-width="1.5"/>
<line x1="185.0" y1="282.4" x2="148.4" y2="240.9" stroke="#9a7035" stroke-opacity="0.11" stroke-width="1.8"/>
<line x1="414.1" y1="371.2" x2="407.8" y2="296.6" stroke="#fff2c8" stroke-opacity="0.19" stroke-width="1.2"/>
<line x1="575.6" y1="450.4" x2="621.6" y2="415.7" stroke="#fff2c8" stroke-opacity="0.13" stroke-width="1.0"/>
<line x1="135.2" y1="482.1" x2="88.7" y2="469.8" stroke="#fff2c8" stroke-opacity="0.11" stroke-width="1.4"/>
<line x1="377.1" y1="282.9" x2="361.0" y2="198.5" stroke="#fff2c8" stroke-opacity="0.21" stroke-width="1.8"/>
<line x1="123.0" y1="429.5" x2="21.3" y2="386.3" stroke="#9a7035" stroke-opacity="0.05" stroke-width="1.8"/>
<line x1="469.3" y1="452.9" x2="476.5" y2="433.1" stroke="#9a7035" stroke-opacity="0.10" stroke-width="1.1"/>
<line x1="301.0" y1="486.3" x2="263.4" y2="464.8" stroke="#9a7035" stroke-opacity="0.07" stroke-width="1.0"/>
<line x1="713.4" y1="403.5" x2="745.6" y2="385.7" stroke="#9a7035" stroke-opacity="0.09" stroke-width="1.7"/>
<line x1="581.1" y1="242.8" x2="623.6" y2="153.6" stroke="#9a7035" stroke-opacity="0.06" stroke-width="1.6"/>
<line x1="455.2" y1="250.7" x2="460.4" y2="187.1" stroke="#9a7035" stroke-opacity="0.09" stroke-width="1.1"/>
<line x1="334.7" y1="447.2" x2="290.0" y2="394.3" stroke="#fff2c8" stroke-opacity="0.13" stroke-width="1.0"/>
<line x1="424.4" y1="315.6" x2="422.7" y2="241.6" stroke="#9a7035" stroke-opacity="0.04" stroke-width="1.8"/>
<line x1="407.9" y1="299.0" x2="400.6" y2="212.8" stroke="#9a7035" stroke-opacity="0.07" stroke-width="1.3"/>
<line x1="552.2" y1="514.7" x2="630.7" y2="485.5" stroke="#9a7035" stroke-opacity="0.04" stroke-width="1.5"/>
<line x1="597.5" y1="239.7" x2="622.1" y2="192.6" stroke="#9a7035" stroke-opacity="0.09" stroke-width="1.4"/>
<line x1="533.3" y1="500.6" x2="612.9" y2="454.9" stroke="#9a7035" stroke-opacity="0.07" stroke-width="1.8"/>
<line x1="347.6" y1="336.6" x2="322.5" y2="268.5" stroke="#9a7035" stroke-opacity="0.06" stroke-width="1.3"/>
<line x1="377.2" y1="305.8" x2="356.3" y2="205.3" stroke="#fff2c8" stroke-opacity="0.19" stroke-width="1.3"/>
<line x1="431.8" y1="376.7" x2="432.5" y2="306.0" stroke="#9a7035" stroke-opacity="0.10" stroke-width="1.8"/>
<line x1="345.6" y1="383.5" x2="324.0" y2="338.5" stroke="#9a7035" stroke-opacity="0.10" stroke-width="1.7"/>
<line x1="144.1" y1="453.4" x2="42.4" y2="415.4" stroke="#fff2c8" stroke-opacity="0.07" stroke-width="1.2"/>
<line x1="274.5" y1="517.3" x2="166.3" y2="487.7" stroke="#9a7035" stroke-opacity="0.10" stroke-width="1.7"/>
<line x1="672.9" y1="430.7" x2="745.0" y2="392.3" stroke="#9a7035" stroke-opacity="0.10" stroke-width="1.5"/>
<line x1="506.9" y1="411.4" x2="546.8" y2="334.4" stroke="#fff2c8" stroke-opacity="0.18" stroke-width="0.9"/>
<line x1="340.6" y1="480.0" x2="267.9" y2="415.0" stroke="#9a7035" stroke-opacity="0.10" stroke-width="1.2"/>
<line x1="672.5" y1="347.6" x2="729.8" y2="297.4" stroke="#fff2c8" stroke-opacity="0.11" stroke-width="1.3"/>
<line x1="325.7" y1="359.2" x2="286.9" y2="284.5" stroke="#9a7035" stroke-opacity="0.04" stroke-width="1.5"/>
<line x1="296.8" y1="510.6" x2="202.1" y2="475.4" stroke="#9a7035" stroke-opacity="0.12" stroke-width="1.3"/>
<line x1="224.3" y1="498.9" x2="148.4" y2="476.4" stroke="#9a7035" stroke-opacity="0.13" stroke-width="1.4"/>
<line x1="398.5" y1="426.1" x2="379.1" y2="343.9" stroke="#fff2c8" stroke-opacity="0.08" stroke-width="0.8"/>
<line x1="145.6" y1="483.1" x2="114.5" y2="474.7" stroke="#9a7035" stroke-opacity="0.05" stroke-width="1.8"/>
<line x1="334.7" y1="496.0" x2="258.4" y2="444.7" stroke="#fff2c8" stroke-opacity="0.18" stroke-width="1.0"/>
<line x1="134.2" y1="440.6" x2="49.5" y2="406.4" stroke="#9a7035" stroke-opacity="0.11" stroke-width="0.9"/>
<line x1="530.4" y1="275.7" x2="552.4" y2="213.4" stroke="#9a7035" stroke-opacity="0.06" stroke-width="2.0"/>
<line x1="491.3" y1="465.0" x2="503.0" y2="447.0" stroke="#9a7035" stroke-opacity="0.11" stroke-width="0.9"/>
<line x1="283.2" y1="290.4" x2="265.7" y2="258.3" stroke="#9a7035" stroke-opacity="0.08" stroke-width="0.9"/>
<line x1="339.2" y1="310.8" x2="317.3" y2="250.8" stroke="#9a7035" stroke-opacity="0.05" stroke-width="1.8"/>
<line x1="329.7" y1="294.2" x2="300.4" y2="216.5" stroke="#fff2c8" stroke-opacity="0.12" stroke-width="1.7"/>
<line x1="726.9" y1="435.7" x2="797.6" y2="406.0" stroke="#fff2c8" stroke-opacity="0.07" stroke-width="2.0"/>
<line x1="600.4" y1="273.4" x2="627.6" y2="227.7" stroke="#9a7035" stroke-opacity="0.13" stroke-width="1.8"/>
<line x1="481.0" y1="373.5" x2="497.6" y2="312.9" stroke="#9a7035" stroke-opacity="0.07" stroke-width="1.6"/>
<line x1="523.4" y1="220.7" x2="550.1" y2="123.5" stroke="#fff2c8" stroke-opacity="0.06" stroke-width="1.1"/>
<line x1="375.5" y1="297.2" x2="354.9" y2="197.7" stroke="#9a7035" stroke-opacity="0.04" stroke-width="1.8"/>
<line x1="682.3" y1="325.9" x2="738.8" y2="273.4" stroke="#fff2c8" stroke-opacity="0.20" stroke-width="1.8"/>
<line x1="597.0" y1="244.8" x2="622.6" y2="196.5" stroke="#fff2c8" stroke-opacity="0.15" stroke-width="1.8"/>
<line x1="207.9" y1="340.1" x2="127.4" y2="260.5" stroke="#fff2c8" stroke-opacity="0.16" stroke-width="1.6"/>
<line x1="414.9" y1="394.9" x2="410.7" y2="349.6" stroke="#9a7035" stroke-opacity="0.11" stroke-width="1.4"/>
<line x1="139.7" y1="407.8" x2="53.6" y2="362.7" stroke="#fff2c8" stroke-opacity="0.15" stroke-width="1.9"/>
<line x1="643.3" y1="427.9" x2="700.8" y2="392.3" stroke="#9a7035" stroke-opacity="0.06" stroke-width="1.0"/>
<line x1="206.6" y1="360.8" x2="164.6" y2="323.4" stroke="#9a7035" stroke-opacity="0.08" stroke-width="1.4"/>
<line x1="332.4" y1="486.7" x2="236.7" y2="414.7" stroke="#fff2c8" stroke-opacity="0.08" stroke-width="1.6"/>
<line x1="534.6" y1="449.5" x2="589.5" y2="391.7" stroke="#fff2c8" stroke-opacity="0.14" stroke-width="0.8"/>
<line x1="74.2" y1="434.2" x2="-26.3" y2="398.6" stroke="#fff2c8" stroke-opacity="0.15" stroke-width="1.1"/>
<line x1="581.2" y1="393.4" x2="658.2" y2="308.4" stroke="#9a7035" stroke-opacity="0.11" stroke-width="2.0"/>
<line x1="357.3" y1="464.2" x2="333.1" y2="432.3" stroke="#fff2c8" stroke-opacity="0.07" stroke-width="0.9"/>
<line x1="482.1" y1="218.9" x2="492.0" y2="153.8" stroke="#9a7035" stroke-opacity="0.12" stroke-width="0.9"/>
<line x1="485.6" y1="349.9" x2="493.8" y2="319.0" stroke="#9a7035" stroke-opacity="0.06" stroke-width="1.5"/>
<line x1="563.5" y1="216.8" x2="595.1" y2="135.8" stroke="#fff2c8" stroke-opacity="0.13" stroke-width="1.0"/>
<line x1="785.9" y1="433.4" x2="825.7" y2="419.3" stroke="#fff2c8" stroke-opacity="0.10" stroke-width="1.2"/>
<line x1="739.5" y1="387.7" x2="830.1" y2="337.3" stroke="#fff2c8" stroke-opacity="0.19" stroke-width="1.7"/>
<line x1="572.0" y1="211.8" x2="581.6" y2="188.1" stroke="#fff2c8" stroke-opacity="0.18" stroke-width="1.9"/>
<line x1="515.8" y1="389.7" x2="551.4" y2="319.0" stroke="#9a7035" stroke-opacity="0.05" stroke-width="1.2"/>
<line x1="344.1" y1="445.0" x2="303.4" y2="390.4" stroke="#fff2c8" stroke-opacity="0.10" stroke-width="1.0"/>
<line x1="481.2" y1="458.8" x2="522.7" y2="377.0" stroke="#fff2c8" stroke-opacity="0.07" stroke-width="1.9"/>
<line x1="186.5" y1="291.9" x2="114.7" y2="213.0" stroke="#9a7035" stroke-opacity="0.05" stroke-width="1.3"/>
<line x1="114.7" y1="384.7" x2="23.6" y2="334.1" stroke="#9a7035" stroke-opacity="0.08" stroke-width="1.2"/>
<line x1="609.9" y1="402.8" x2="672.3" y2="348.3" stroke="#fff2c8" stroke-opacity="0.10" stroke-width="0.9"/>
<line x1="568.7" y1="340.8" x2="587.1" y2="311.6" stroke="#9a7035" stroke-opacity="0.06" stroke-width="1.3"/>
<line x1="285.5" y1="447.4" x2="203.5" y2="383.4" stroke="#fff2c8" stroke-opacity="0.09" stroke-width="1.4"/>
<line x1="266.6" y1="246.2" x2="252.1" y2="218.3" stroke="#9a7035" stroke-opacity="0.05" stroke-width="1.9"/>
<line x1="501.8" y1="409.2" x2="530.9" y2="348.0" stroke="#fff2c8" stroke-opacity="0.10" stroke-width="1.0"/>
<line x1="297.6" y1="206.4" x2="255.6" y2="94.2" stroke="#9a7035" stroke-opacity="0.05" stroke-width="1.1"/>
<line x1="538.6" y1="497.1" x2="618.8" y2="450.6" stroke="#fff2c8" stroke-opacity="0.22" stroke-width="0.8"/>
<line x1="576.4" y1="420.7" x2="601.0" y2="397.3" stroke="#fff2c8" stroke-opacity="0.19" stroke-width="1.4"/>
<line x1="262.2" y1="406.3" x2="180.3" y2="331.2" stroke="#fff2c8" stroke-opacity="0.15" stroke-width="1.0"/>
<line x1="192.3" y1="348.7" x2="124.2" y2="288.1" stroke="#fff2c8" stroke-opacity="0.07" stroke-width="0.9"/>
<line x1="498.9" y1="326.2" x2="512.3" y2="280.7" stroke="#fff2c8" stroke-opacity="0.16" stroke-width="1.6"/>
<line x1="625.9" y1="378.0" x2="655.4" y2="350.6" stroke="#fff2c8" stroke-opacity="0.18" stroke-width="1.3"/>
<line x1="499.0" y1="455.8" x2="554.8" y2="371.6" stroke="#fff2c8" stroke-opacity="0.19" stroke-width="1.8"/>
<line x1="427.9" y1="445.8" x2="425.9" y2="334.8" stroke="#fff2c8" stroke-opacity="0.20" stroke-width="1.1"/>
<line x1="183.5" y1="333.9" x2="141.7" y2="295.5" stroke="#fff2c8" stroke-opacity="0.12" stroke-width="1.5"/>
<line x1="188.3" y1="494.8" x2="125.9" y2="478.0" stroke="#fff2c8" stroke-opacity="0.08" stroke-width="1.7"/>
<line x1="684.8" y1="329.4" x2="723.5" y2="294.5" stroke="#9a7035" stroke-opacity="0.07" stroke-width="1.7"/>
<line x1="113.4" y1="421.3" x2="7.7" y2="375.0" stroke="#fff2c8" stroke-opacity="0.14" stroke-width="1.4"/>
<line x1="441.4" y1="445.0" x2="452.9" y2="328.8" stroke="#fff2c8" stroke-opacity="0.09" stroke-width="0.9"/>
<line x1="227.7" y1="298.5" x2="213.6" y2="280.3" stroke="#fff2c8" stroke-opacity="0.17" stroke-width="1.0"/>
<line x1="170.1" y1="480.2" x2="95.9" y2="457.4" stroke="#fff2c8" stroke-opacity="0.17" stroke-width="0.9"/>
<line x1="681.3" y1="389.7" x2="701.6" y2="375.9" stroke="#fff2c8" stroke-opacity="0.14" stroke-width="1.4"/>
<line x1="351.5" y1="440.6" x2="318.2" y2="389.9" stroke="#fff2c8" stroke-opacity="0.15" stroke-width="1.8"/>
<line x1="217.7" y1="402.0" x2="141.8" y2="345.5" stroke="#fff2c8" stroke-opacity="0.19" stroke-width="1.9"/>
<line x1="365.3" y1="346.0" x2="335.2" y2="246.5" stroke="#fff2c8" stroke-opacity="0.12" stroke-width="1.9"/>
<line x1="564.4" y1="410.0" x2="593.8" y2="377.2" stroke="#fff2c8" stroke-opacity="0.13" stroke-width="2.0"/>
<line x1="686.5" y1="312.5" x2="759.5" y2="242.0" stroke="#9a7035" stroke-opacity="0.04" stroke-width="1.4"/>
<line x1="768.7" y1="431.5" x2="810.7" y2="415.6" stroke="#fff2c8" stroke-opacity="0.16" stroke-width="1.2"/>
<line x1="440.4" y1="431.7" x2="445.6" y2="368.6" stroke="#fff2c8" stroke-opacity="0.06" stroke-width="1.0"/>
<line x1="732.3" y1="456.0" x2="839.8" y2="419.0" stroke="#9a7035" stroke-opacity="0.11" stroke-width="1.9"/>
<line x1="531.3" y1="497.1" x2="602.8" y2="452.7" stroke="#fff2c8" stroke-opacity="0.17" stroke-width="1.1"/>
<line x1="470.0" y1="202.6" x2="479.2" y2="121.0" stroke="#fff2c8" stroke-opacity="0.14" stroke-width="1.3"/>
<line x1="604.2" y1="490.2" x2="651.1" y2="471.4" stroke="#9a7035" stroke-opacity="0.05" stroke-width="1.5"/>
<line x1="662.1" y1="470.7" x2="705.9" y2="453.9" stroke="#fff2c8" stroke-opacity="0.15" stroke-width="1.0"/>
<line x1="308.2" y1="480.5" x2="266.9" y2="453.5" stroke="#fff2c8" stroke-opacity="0.11" stroke-width="1.1"/>
<line x1="202.0" y1="440.4" x2="109.9" y2="392.1" stroke="#9a7035" stroke-opacity="0.09" stroke-width="1.6"/>
<line x1="215.9" y1="347.3" x2="169.1" y2="300.7" stroke="#fff2c8" stroke-opacity="0.16" stroke-width="1.4"/>
<line x1="345.9" y1="406.1" x2="325.7" y2="369.1" stroke="#fff2c8" stroke-opacity="0.12" stroke-width="1.5"/>
<line x1="232.9" y1="502.8" x2="131.0" y2="473.1" stroke="#fff2c8" stroke-opacity="0.15" stroke-width="1.4"/>
<line x1="227.4" y1="242.5" x2="200.8" y2="200.7" stroke="#9a7035" stroke-opacity="0.05" stroke-width="0.9"/>
<line x1="620.0" y1="432.5" x2="641.7" y2="417.9" stroke="#fff2c8" stroke-opacity="0.13" stroke-width="1.7"/>
<line x1="283.5" y1="472.2" x2="184.0" y2="412.7" stroke="#9a7035" stroke-opacity="0.05" stroke-width="1.2"/>
<line x1="319.0" y1="289.5" x2="288.0" y2="214.0" stroke="#9a7035" stroke-opacity="0.11" stroke-width="1.4"/>
<line x1="613.1" y1="309.0" x2="669.6" y2="231.4" stroke="#fff2c8" stroke-opacity="0.19" stroke-width="1.7"/>
<line x1="558.3" y1="493.8" x2="653.4" y2="444.7" stroke="#fff2c8" stroke-opacity="0.18" stroke-width="1.5"/>
<line x1="427.9" y1="190.1" x2="427.5" y2="112.9" stroke="#fff2c8" stroke-opacity="0.19" stroke-width="1.8"/>
<line x1="489.4" y1="356.0" x2="507.6" y2="293.4" stroke="#fff2c8" stroke-opacity="0.18" stroke-width="1.2"/>
<line x1="356.0" y1="310.8" x2="339.4" y2="254.8" stroke="#fff2c8" stroke-opacity="0.19" stroke-width="1.8"/>
<line x1="429.7" y1="330.1" x2="429.7" y2="291.7" stroke="#fff2c8" stroke-opacity="0.08" stroke-width="1.5"/>
<line x1="458.6" y1="429.3" x2="482.5" y2="319.9" stroke="#fff2c8" stroke-opacity="0.19" stroke-width="1.8"/>
<line x1="584.6" y1="501.8" x2="643.2" y2="479.7" stroke="#9a7035" stroke-opacity="0.04" stroke-width="0.9"/>
<line x1="471.7" y1="319.3" x2="490.8" y2="208.9" stroke="#9a7035" stroke-opacity="0.09" stroke-width="2.0"/>
<line x1="441.5" y1="310.6" x2="445.6" y2="222.2" stroke="#fff2c8" stroke-opacity="0.12" stroke-width="1.5"/>
<line x1="289.9" y1="222.0" x2="256.3" y2="141.0" stroke="#fff2c8" stroke-opacity="0.08" stroke-width="1.2"/>
<line x1="362.4" y1="307.3" x2="342.4" y2="232.6" stroke="#9a7035" stroke-opacity="0.13" stroke-width="1.4"/>
<line x1="386.2" y1="284.8" x2="367.4" y2="166.7" stroke="#fff2c8" stroke-opacity="0.14" stroke-width="1.8"/>
<line x1="280.4" y1="433.5" x2="190.4" y2="357.4" stroke="#9a7035" stroke-opacity="0.09" stroke-width="0.9"/>
<line x1="685.7" y1="410.3" x2="773.7" y2="358.7" stroke="#9a7035" stroke-opacity="0.12" stroke-width="1.3"/>
<line x1="281.7" y1="444.0" x2="225.7" y2="400.1" stroke="#fff2c8" stroke-opacity="0.09" stroke-width="1.0"/>
<line x1="521.8" y1="303.1" x2="540.5" y2="251.0" stroke="#9a7035" stroke-opacity="0.10" stroke-width="0.9"/>
<line x1="355.3" y1="246.1" x2="343.5" y2="196.8" stroke="#9a7035" stroke-opacity="0.04" stroke-width="1.2"/>
<line x1="640.6" y1="393.9" x2="708.8" y2="340.1" stroke="#fff2c8" stroke-opacity="0.14" stroke-width="1.5"/>
<line x1="265.2" y1="327.9" x2="222.9" y2="268.3" stroke="#9a7035" stroke-opacity="0.09" stroke-width="1.3"/>
<line x1="301.9" y1="477.5" x2="221.2" y2="425.6" stroke="#fff2c8" stroke-opacity="0.08" stroke-width="1.0"/>
<line x1="449.7" y1="228.3" x2="454.5" y2="147.2" stroke="#9a7035" stroke-opacity="0.05" stroke-width="0.8"/>
<line x1="559.1" y1="411.0" x2="619.1" y2="341.8" stroke="#fff2c8" stroke-opacity="0.09" stroke-width="1.1"/>
<line x1="121.7" y1="386.0" x2="53.5" y2="347.6" stroke="#fff2c8" stroke-opacity="0.13" stroke-width="1.3"/>
<line x1="106.6" y1="424.9" x2="34.4" y2="394.8" stroke="#9a7035" stroke-opacity="0.08" stroke-width="1.5"/>
<line x1="355.1" y1="463.8" x2="285.7" y2="374.6" stroke="#9a7035" stroke-opacity="0.07" stroke-width="1.9"/>
<line x1="572.1" y1="430.9" x2="631.6" y2="377.0" stroke="#9a7035" stroke-opacity="0.08" stroke-width="1.9"/>
<line x1="294.9" y1="392.4" x2="237.3" y2="320.9" stroke="#fff2c8" stroke-opacity="0.11" stroke-width="1.9"/>
<line x1="416.7" y1="236.2" x2="414.8" y2="191.9" stroke="#fff2c8" stroke-opacity="0.12" stroke-width="1.0"/>
<line x1="608.5" y1="499.6" x2="680.7" y2="475.1" stroke="#fff2c8" stroke-opacity="0.15" stroke-width="1.3"/>
<line x1="397.7" y1="436.5" x2="389.6" y2="405.2" stroke="#9a7035" stroke-opacity="0.07" stroke-width="1.1"/>
<line x1="294.2" y1="432.0" x2="262.4" y2="402.0" stroke="#fff2c8" stroke-opacity="0.17" stroke-width="1.2"/>
<line x1="193.0" y1="375.1" x2="170.0" y2="357.1" stroke="#fff2c8" stroke-opacity="0.19" stroke-width="1.0"/>
<line x1="379.9" y1="227.9" x2="365.0" y2="128.6" stroke="#fff2c8" stroke-opacity="0.12" stroke-width="1.7"/>
<line x1="312.3" y1="210.5" x2="299.3" y2="171.8" stroke="#9a7035" stroke-opacity="0.09" stroke-width="1.1"/>
<line x1="411.9" y1="415.8" x2="400.6" y2="325.8" stroke="#fff2c8" stroke-opacity="0.20" stroke-width="1.5"/>
<line x1="369.8" y1="394.1" x2="342.2" y2="318.1" stroke="#fff2c8" stroke-opacity="0.20" stroke-width="0.9"/>
<line x1="438.8" y1="303.7" x2="440.4" y2="256.6" stroke="#9a7035" stroke-opacity="0.07" stroke-width="1.6"/>
<line x1="464.5" y1="369.2" x2="474.9" y2="311.1" stroke="#fff2c8" stroke-opacity="0.09" stroke-width="1.8"/>
<line x1="298.6" y1="302.7" x2="284.5" y2="275.2" stroke="#9a7035" stroke-opacity="0.07" stroke-width="1.4"/>
<line x1="364.8" y1="450.1" x2="338.7" y2="406.2" stroke="#fff2c8" stroke-opacity="0.08" stroke-width="1.7"/>
<line x1="311.1" y1="376.2" x2="250.8" y2="283.1" stroke="#9a7035" stroke-opacity="0.12" stroke-width="1.8"/>
<line x1="277.6" y1="455.7" x2="258.7" y2="442.8" stroke="#9a7035" stroke-opacity="0.10" stroke-width="1.2"/>
<line x1="364.2" y1="279.7" x2="343.6" y2="192.1" stroke="#fff2c8" stroke-opacity="0.20" stroke-width="1.2"/>
<line x1="483.0" y1="410.1" x2="493.5" y2="380.3" stroke="#9a7035" stroke-opacity="0.11" stroke-width="1.7"/>
<line x1="316.9" y1="517.7" x2="283.0" y2="505.0" stroke="#fff2c8" stroke-opacity="0.11" stroke-width="1.3"/>
<line x1="248.1" y1="492.6" x2="169.5" y2="463.5" stroke="#fff2c8" stroke-opacity="0.19" stroke-width="1.5"/>
<line x1="526.7" y1="409.7" x2="561.1" y2="356.3" stroke="#9a7035" stroke-opacity="0.07" stroke-width="0.8"/>
<line x1="676.8" y1="356.9" x2="714.3" y2="326.0" stroke="#fff2c8" stroke-opacity="0.20" stroke-width="1.5"/>
<line x1="266.3" y1="495.3" x2="237.4" y2="483.9" stroke="#9a7035" stroke-opacity="0.06" stroke-width="1.9"/>
<line x1="511.5" y1="454.6" x2="566.3" y2="383.8" stroke="#fff2c8" stroke-opacity="0.18" stroke-width="1.8"/>
<line x1="356.7" y1="447.5" x2="294.1" y2="351.4" stroke="#fff2c8" stroke-opacity="0.21" stroke-width="1.6"/>
<line x1="626.7" y1="290.0" x2="675.5" y2="223.0" stroke="#fff2c8" stroke-opacity="0.07" stroke-width="1.6"/>
<line x1="383.3" y1="316.2" x2="362.1" y2="205.4" stroke="#fff2c8" stroke-opacity="0.18" stroke-width="0.9"/>
<line x1="597.0" y1="278.2" x2="620.5" y2="238.5" stroke="#fff2c8" stroke-opacity="0.22" stroke-width="1.6"/>
<line x1="450.5" y1="383.8" x2="453.5" y2="358.0" stroke="#fff2c8" stroke-opacity="0.13" stroke-width="1.0"/>
<line x1="359.6" y1="431.1" x2="316.1" y2="351.5" stroke="#9a7035" stroke-opacity="0.06" stroke-width="1.1"/>
<line x1="439.3" y1="330.0" x2="443.9" y2="216.5" stroke="#fff2c8" stroke-opacity="0.11" stroke-width="1.9"/>
<line x1="217.6" y1="406.5" x2="174.3" y2="375.2" stroke="#9a7035" stroke-opacity="0.09" stroke-width="1.7"/>
<line x1="207.8" y1="373.7" x2="146.6" y2="322.4" stroke="#fff2c8" stroke-opacity="0.18" stroke-width="1.8"/>
<line x1="270.0" y1="461.1" x2="222.3" y2="431.7" stroke="#fff2c8" stroke-opacity="0.07" stroke-width="1.1"/>
<line x1="215.3" y1="351.2" x2="168.9" y2="306.0" stroke="#fff2c8" stroke-opacity="0.11" stroke-width="1.4"/>
<line x1="375.0" y1="414.7" x2="365.4" y2="389.2" stroke="#fff2c8" stroke-opacity="0.22" stroke-width="1.7"/>
<line x1="159.7" y1="421.7" x2="54.6" y2="367.9" stroke="#9a7035" stroke-opacity="0.05" stroke-width="1.4"/>
<line x1="402.2" y1="401.2" x2="389.3" y2="328.0" stroke="#fff2c8" stroke-opacity="0.21" stroke-width="1.6"/>
<line x1="549.9" y1="217.9" x2="578.1" y2="137.4" stroke="#fff2c8" stroke-opacity="0.10" stroke-width="1.0"/>
<line x1="127.5" y1="458.3" x2="29.0" y2="425.2" stroke="#fff2c8" stroke-opacity="0.09" stroke-width="1.6"/>
<line x1="714.9" y1="339.6" x2="744.0" y2="317.0" stroke="#9a7035" stroke-opacity="0.11" stroke-width="1.7"/>
<line x1="359.4" y1="416.6" x2="314.1" y2="324.6" stroke="#fff2c8" stroke-opacity="0.12" stroke-width="1.5"/>
<line x1="316.9" y1="245.2" x2="302.0" y2="203.9" stroke="#fff2c8" stroke-opacity="0.15" stroke-width="1.6"/>
<line x1="654.5" y1="360.3" x2="737.1" y2="286.8" stroke="#9a7035" stroke-opacity="0.08" stroke-width="1.4"/>
<line x1="280.0" y1="441.9" x2="218.6" y2="393.6" stroke="#fff2c8" stroke-opacity="0.17" stroke-width="1.0"/>
<line x1="374.5" y1="192.3" x2="370.1" y2="163.7" stroke="#fff2c8" stroke-opacity="0.13" stroke-width="1.0"/>
<line x1="491.5" y1="467.9" x2="549.2" y2="381.3" stroke="#9a7035" stroke-opacity="0.11" stroke-width="1.3"/>
<line x1="273.8" y1="317.3" x2="235.1" y2="257.2" stroke="#fff2c8" stroke-opacity="0.11" stroke-width="1.3"/>
<line x1="571.4" y1="258.4" x2="618.2" y2="158.5" stroke="#fff2c8" stroke-opacity="0.11" stroke-width="1.3"/>
<line x1="464.0" y1="358.9" x2="470.5" y2="319.9" stroke="#fff2c8" stroke-opacity="0.11" stroke-width="1.4"/>
<line x1="766.5" y1="445.8" x2="867.4" y2="411.6" stroke="#9a7035" stroke-opacity="0.13" stroke-width="1.5"/>
<line x1="522.4" y1="474.0" x2="586.5" y2="414.3" stroke="#9a7035" stroke-opacity="0.07" stroke-width="1.5"/>
<line x1="653.1" y1="472.0" x2="731.9" y2="440.9" stroke="#fff2c8" stroke-opacity="0.11" stroke-width="1.9"/>
<line x1="277.4" y1="508.6" x2="194.2" y2="480.6" stroke="#fff2c8" stroke-opacity="0.07" stroke-width="1.6"/>
<line x1="341.6" y1="308.3" x2="321.2" y2="250.1" stroke="#fff2c8" stroke-opacity="0.15" stroke-width="1.3"/>
<line x1="294.9" y1="476.6" x2="202.1" y2="419.4" stroke="#fff2c8" stroke-opacity="0.08" stroke-width="1.8"/>
<line x1="347.9" y1="452.1" x2="303.6" y2="393.9" stroke="#fff2c8" stroke-opacity="0.14" stroke-width="1.5"/>
<line x1="255.2" y1="361.3" x2="234.5" y2="337.8" stroke="#fff2c8" stroke-opacity="0.15" stroke-width="0.9"/>
<line x1="398.8" y1="434.0" x2="383.4" y2="371.9" stroke="#9a7035" stroke-opacity="0.09" stroke-width="1.7"/>
<line x1="518.4" y1="450.2" x2="593.1" y2="357.5" stroke="#9a7035" stroke-opacity="0.05" stroke-width="1.8"/>
<line x1="386.1" y1="410.1" x2="353.4" y2="298.7" stroke="#9a7035" stroke-opacity="0.11" stroke-width="1.0"/>
<line x1="513.6" y1="466.3" x2="542.7" y2="433.8" stroke="#fff2c8" stroke-opacity="0.06" stroke-width="1.5"/>
<line x1="298.8" y1="421.2" x2="236.5" y2="355.2" stroke="#fff2c8" stroke-opacity="0.20" stroke-width="1.5"/>
<line x1="647.9" y1="414.5" x2="740.8" y2="352.4" stroke="#9a7035" stroke-opacity="0.06" stroke-width="1.7"/>
<line x1="301.5" y1="271.1" x2="265.7" y2="190.7" stroke="#9a7035" stroke-opacity="0.05" stroke-width="1.2"/>
<line x1="644.4" y1="263.4" x2="698.5" y2="188.8" stroke="#fff2c8" stroke-opacity="0.16" stroke-width="0.9"/>
<line x1="472.0" y1="235.9" x2="476.0" y2="204.9" stroke="#9a7035" stroke-opacity="0.10" stroke-width="1.1"/>
<line x1="263.0" y1="400.9" x2="187.8" y2="329.3" stroke="#9a7035" stroke-opacity="0.05" stroke-width="0.8"/>
<line x1="150.7" y1="391.5" x2="117.7" y2="371.6" stroke="#9a7035" stroke-opacity="0.07" stroke-width="1.6"/>
<line x1="383.9" y1="418.4" x2="350.7" y2="316.1" stroke="#fff2c8" stroke-opacity="0.17" stroke-width="1.8"/>
<line x1="535.3" y1="517.1" x2="585.6" y2="496.7" stroke="#fff2c8" stroke-opacity="0.14" stroke-width="1.8"/>
<line x1="515.2" y1="476.1" x2="542.4" y2="449.3" stroke="#9a7035" stroke-opacity="0.10" stroke-width="1.3"/>
<line x1="420.2" y1="407.6" x2="413.6" y2="303.3" stroke="#fff2c8" stroke-opacity="0.20" stroke-width="1.5"/>
<line x1="251.0" y1="473.2" x2="213.6" y2="455.0" stroke="#9a7035" stroke-opacity="0.09" stroke-width="0.9"/>
<line x1="271.2" y1="426.5" x2="220.1" y2="383.5" stroke="#9a7035" stroke-opacity="0.07" stroke-width="1.2"/>
<line x1="173.1" y1="489.7" x2="121.6" y2="475.6" stroke="#fff2c8" stroke-opacity="0.13" stroke-width="2.0"/>
<line x1="290.8" y1="505.8" x2="209.6" y2="474.2" stroke="#fff2c8" stroke-opacity="0.10" stroke-width="1.4"/>
<line x1="275.1" y1="346.7" x2="232.4" y2="287.7" stroke="#9a7035" stroke-opacity="0.13" stroke-width="0.8"/>
<line x1="480.7" y1="245.9" x2="497.8" y2="140.0" stroke="#9a7035" stroke-opacity="0.10" stroke-width="1.6"/>
<line x1="364.2" y1="386.0" x2="328.9" y2="292.9" stroke="#9a7035" stroke-opacity="0.12" stroke-width="1.6"/>
<line x1="273.7" y1="285.3" x2="227.2" y2="203.6" stroke="#fff2c8" stroke-opacity="0.16" stroke-width="1.2"/>
<line x1="459.3" y1="342.4" x2="462.8" y2="316.5" stroke="#fff2c8" stroke-opacity="0.11" stroke-width="2.0"/>
<line x1="419.8" y1="351.1" x2="417.6" y2="306.8" stroke="#fff2c8" stroke-opacity="0.12" stroke-width="1.0"/>
<line x1="97.4" y1="467.8" x2="34.4" y2="450.3" stroke="#fff2c8" stroke-opacity="0.15" stroke-width="1.2"/>
<line x1="331.9" y1="477.9" x2="293.5" y2="445.7" stroke="#fff2c8" stroke-opacity="0.18" stroke-width="1.5"/>
<line x1="614.7" y1="478.3" x2="717.2" y2="433.0" stroke="#9a7035" stroke-opacity="0.05" stroke-width="1.0"/>
<line x1="509.4" y1="191.8" x2="521.1" y2="137.4" stroke="#9a7035" stroke-opacity="0.08" stroke-width="1.8"/>
<line x1="211.1" y1="459.6" x2="111.2" y2="413.8" stroke="#fff2c8" stroke-opacity="0.10" stroke-width="0.8"/>
<line x1="288.8" y1="444.5" x2="218.8" y2="387.3" stroke="#fff2c8" stroke-opacity="0.12" stroke-width="1.0"/>
<line x1="522.1" y1="229.3" x2="544.8" y2="147.6" stroke="#fff2c8" stroke-opacity="0.18" stroke-width="2.0"/>
<line x1="464.6" y1="433.2" x2="491.2" y2="335.8" stroke="#9a7035" stroke-opacity="0.07" stroke-width="1.0"/>
<line x1="243.1" y1="386.6" x2="164.2" y2="313.4" stroke="#9a7035" stroke-opacity="0.12" stroke-width="1.1"/>
<line x1="292.1" y1="279.8" x2="254.7" y2="203.6" stroke="#fff2c8" stroke-opacity="0.17" stroke-width="1.2"/>
<line x1="225.9" y1="473.0" x2="203.3" y2="463.4" stroke="#9a7035" stroke-opacity="0.07" stroke-width="1.4"/>
<line x1="475.8" y1="386.6" x2="492.7" y2="322.4" stroke="#fff2c8" stroke-opacity="0.21" stroke-width="1.5"/>
<line x1="550.1" y1="524.9" x2="628.2" y2="502.1" stroke="#9a7035" stroke-opacity="0.07" stroke-width="0.9"/>
<line x1="313.0" y1="468.5" x2="236.8" y2="409.0" stroke="#fff2c8" stroke-opacity="0.19" stroke-width="1.3"/>
<line x1="457.4" y1="292.5" x2="465.1" y2="217.4" stroke="#9a7035" stroke-opacity="0.09" stroke-width="1.2"/>
<line x1="536.7" y1="415.5" x2="590.9" y2="342.2" stroke="#9a7035" stroke-opacity="0.11" stroke-width="1.2"/>
<line x1="676.4" y1="278.8" x2="719.4" y2="229.6" stroke="#fff2c8" stroke-opacity="0.14" stroke-width="1.9"/>
<line x1="337.2" y1="496.6" x2="281.4" y2="458.5" stroke="#9a7035" stroke-opacity="0.11" stroke-width="1.2"/>
<line x1="595.0" y1="512.7" x2="686.9" y2="486.4" stroke="#fff2c8" stroke-opacity="0.06" stroke-width="1.0"/>
<line x1="204.9" y1="462.1" x2="135.6" y2="432.0" stroke="#fff2c8" stroke-opacity="0.21" stroke-width="1.2"/>
<line x1="303.9" y1="465.0" x2="228.9" y2="408.6" stroke="#9a7035" stroke-opacity="0.05" stroke-width="0.8"/>
<line x1="547.5" y1="429.7" x2="626.7" y2="341.9" stroke="#fff2c8" stroke-opacity="0.16" stroke-width="1.2"/>
<line x1="596.9" y1="395.7" x2="634.2" y2="358.9" stroke="#9a7035" stroke-opacity="0.05" stroke-width="1.7"/>
<line x1="170.9" y1="443.0" x2="116.0" y2="418.3" stroke="#9a7035" stroke-opacity="0.05" stroke-width="1.5"/>
<line x1="345.7" y1="211.9" x2="318.7" y2="100.6" stroke="#9a7035" stroke-opacity="0.06" stroke-width="1.1"/>
<line x1="296.7" y1="376.1" x2="271.4" y2="341.2" stroke="#fff2c8" stroke-opacity="0.18" stroke-width="1.6"/>
<line x1="238.1" y1="233.8" x2="216.9" y2="197.9" stroke="#9a7035" stroke-opacity="0.05" stroke-width="1.8"/>
<line x1="580.7" y1="457.7" x2="659.5" y2="404.3" stroke="#9a7035" stroke-opacity="0.07" stroke-width="1.2"/>
<line x1="416.6" y1="209.7" x2="415.3" y2="173.6" stroke="#9a7035" stroke-opacity="0.09" stroke-width="1.3"/>
<line x1="502.3" y1="219.2" x2="510.8" y2="179.1" stroke="#9a7035" stroke-opacity="0.07" stroke-width="1.7"/>
<line x1="560.3" y1="468.5" x2="647.4" y2="407.4" stroke="#9a7035" stroke-opacity="0.07" stroke-width="0.8"/>
<line x1="111.1" y1="366.4" x2="93.2" y2="355.5" stroke="#9a7035" stroke-opacity="0.05" stroke-width="1.7"/>
<line x1="294.1" y1="484.2" x2="217.0" y2="441.2" stroke="#fff2c8" stroke-opacity="0.11" stroke-width="1.9"/>
<line x1="618.1" y1="267.1" x2="681.9" y2="167.8" stroke="#fff2c8" stroke-opacity="0.10" stroke-width="1.8"/>
<line x1="487.6" y1="454.5" x2="521.4" y2="392.6" stroke="#fff2c8" stroke-opacity="0.13" stroke-width="0.9"/>
<line x1="69.8" y1="447.0" x2="20.5" y2="431.6" stroke="#9a7035" stroke-opacity="0.05" stroke-width="1.4"/>
<line x1="245.0" y1="430.8" x2="213.9" y2="409.1" stroke="#9a7035" stroke-opacity="0.05" stroke-width="1.7"/>
<line x1="430.3" y1="419.7" x2="430.4" y2="364.3" stroke="#fff2c8" stroke-opacity="0.21" stroke-width="1.2"/>
<line x1="176.5" y1="288.8" x2="102.5" y2="209.7" stroke="#9a7035" stroke-opacity="0.06" stroke-width="1.0"/>
<line x1="355.2" y1="455.4" x2="341.0" y2="435.6" stroke="#fff2c8" stroke-opacity="0.13" stroke-width="1.5"/>
<line x1="390.0" y1="454.5" x2="358.5" y2="371.4" stroke="#9a7035" stroke-opacity="0.09" stroke-width="1.5"/>
<line x1="610.6" y1="231.1" x2="662.3" y2="136.9" stroke="#9a7035" stroke-opacity="0.08" stroke-width="1.2"/>
<line x1="351.1" y1="195.8" x2="338.7" y2="138.4" stroke="#fff2c8" stroke-opacity="0.13" stroke-width="1.0"/>
<line x1="537.8" y1="531.8" x2="616.0" y2="511.4" stroke="#9a7035" stroke-opacity="0.06" stroke-width="1.5"/>
<line x1="374.2" y1="394.1" x2="361.5" y2="356.4" stroke="#fff2c8" stroke-opacity="0.19" stroke-width="1.7"/>
<line x1="538.7" y1="501.6" x2="617.5" y2="459.3" stroke="#fff2c8" stroke-opacity="0.16" stroke-width="1.5"/>
<line x1="255.9" y1="230.9" x2="246.5" y2="213.1" stroke="#9a7035" stroke-opacity="0.12" stroke-width="1.4"/>
<line x1="521.3" y1="192.6" x2="531.8" y2="150.4" stroke="#9a7035" stroke-opacity="0.11" stroke-width="1.3"/>
<line x1="544.9" y1="376.8" x2="583.4" y2="315.2" stroke="#9a7035" stroke-opacity="0.10" stroke-width="1.2"/>
<line x1="515.6" y1="318.1" x2="529.7" y2="278.2" stroke="#9a7035" stroke-opacity="0.06" stroke-width="1.9"/>
<line x1="408.5" y1="255.9" x2="403.4" y2="183.9" stroke="#fff2c8" stroke-opacity="0.10" stroke-width="1.0"/>
<line x1="658.4" y1="451.6" x2="723.8" y2="420.6" stroke="#fff2c8" stroke-opacity="0.19" stroke-width="1.1"/>
<line x1="177.5" y1="344.6" x2="127.2" y2="301.8" stroke="#9a7035" stroke-opacity="0.11" stroke-width="1.9"/>
<line x1="530.4" y1="491.3" x2="578.4" y2="458.4" stroke="#9a7035" stroke-opacity="0.11" stroke-width="0.9"/>
<line x1="289.2" y1="451.3" x2="265.2" y2="432.8" stroke="#fff2c8" stroke-opacity="0.19" stroke-width="1.4"/>
<line x1="413.4" y1="427.3" x2="406.0" y2="368.2" stroke="#9a7035" stroke-opacity="0.10" stroke-width="1.3"/>
<line x1="411.4" y1="235.0" x2="405.9" y2="139.3" stroke="#fff2c8" stroke-opacity="0.17" stroke-width="1.2"/>
<line x1="439.5" y1="386.1" x2="442.6" y2="329.1" stroke="#fff2c8" stroke-opacity="0.12" stroke-width="0.8"/>
<line x1="242.5" y1="374.0" x2="224.2" y2="355.9" stroke="#fff2c8" stroke-opacity="0.17" stroke-width="1.1"/>
<line x1="351.5" y1="403.3" x2="305.2" y2="310.8" stroke="#fff2c8" stroke-opacity="0.16" stroke-width="1.8"/>
<line x1="271.1" y1="401.7" x2="200.8" y2="331.7" stroke="#9a7035" stroke-opacity="0.07" stroke-width="0.9"/>
<line x1="398.4" y1="353.3" x2="384.6" y2="263.1" stroke="#fff2c8" stroke-opacity="0.13" stroke-width="1.6"/>
<line x1="580.0" y1="420.1" x2="622.8" y2="380.2" stroke="#9a7035" stroke-opacity="0.12" stroke-width="1.0"/>
<line x1="716.2" y1="463.0" x2="770.4" y2="444.6" stroke="#9a7035" stroke-opacity="0.07" stroke-width="0.9"/>
<line x1="562.9" y1="394.2" x2="608.3" y2="337.6" stroke="#fff2c8" stroke-opacity="0.20" stroke-width="1.7"/>
<line x1="173.6" y1="475.3" x2="110.6" y2="454.6" stroke="#fff2c8" stroke-opacity="0.19" stroke-width="1.3"/>
<line x1="405.6" y1="210.5" x2="401.2" y2="146.6" stroke="#fff2c8" stroke-opacity="0.14" stroke-width="1.8"/>
<line x1="564.7" y1="280.9" x2="590.9" y2="226.7" stroke="#fff2c8" stroke-opacity="0.17" stroke-width="1.5"/>
<line x1="637.3" y1="319.0" x2="658.1" y2="294.9" stroke="#fff2c8" stroke-opacity="0.07" stroke-width="1.8"/>
<line x1="313.8" y1="493.5" x2="231.1" y2="446.2" stroke="#9a7035" stroke-opacity="0.04" stroke-width="1.6"/>
<line x1="557.1" y1="356.0" x2="570.5" y2="334.3" stroke="#9a7035" stroke-opacity="0.08" stroke-width="1.5"/>
<line x1="749.7" y1="476.2" x2="853.4" y2="449.0" stroke="#fff2c8" stroke-opacity="0.11" stroke-width="1.4"/>
<line x1="66.4" y1="460.5" x2="20.7" y2="447.9" stroke="#fff2c8" stroke-opacity="0.11" stroke-width="1.1"/>
<line x1="641.1" y1="408.1" x2="698.8" y2="366.6" stroke="#fff2c8" stroke-opacity="0.07" stroke-width="1.2"/>
<line x1="699.0" y1="374.8" x2="786.0" y2="314.9" stroke="#fff2c8" stroke-opacity="0.09" stroke-width="0.9"/>
<line x1="450.5" y1="350.1" x2="456.9" y2="284.0" stroke="#fff2c8" stroke-opacity="0.15" stroke-width="1.2"/>
<line x1="547.2" y1="445.2" x2="627.1" y2="366.8" stroke="#9a7035" stroke-opacity="0.04" stroke-width="1.2"/>
<line x1="449.2" y1="340.4" x2="455.9" y2="264.2" stroke="#fff2c8" stroke-opacity="0.10" stroke-width="1.8"/>
<line x1="272.2" y1="302.7" x2="219.8" y2="217.2" stroke="#9a7035" stroke-opacity="0.08" stroke-width="1.9"/>
<line x1="379.7" y1="216.6" x2="376.0" y2="191.1" stroke="#fff2c8" stroke-opacity="0.16" stroke-width="0.9"/>
<line x1="535.8" y1="485.5" x2="600.9" y2="439.6" stroke="#fff2c8" stroke-opacity="0.21" stroke-width="1.5"/>
<line x1="604.3" y1="388.5" x2="666.6" y2="327.2" stroke="#9a7035" stroke-opacity="0.07" stroke-width="1.1"/>
<line x1="546.3" y1="466.3" x2="633.4" y2="396.2" stroke="#fff2c8" stroke-opacity="0.08" stroke-width="0.9"/>
<line x1="680.0" y1="291.7" x2="721.9" y2="246.7" stroke="#9a7035" stroke-opacity="0.06" stroke-width="1.9"/>
<line x1="501.5" y1="426.1" x2="513.6" y2="403.5" stroke="#9a7035" stroke-opacity="0.04" stroke-width="1.8"/>
<line x1="340.5" y1="412.2" x2="300.0" y2="345.3" stroke="#fff2c8" stroke-opacity="0.15" stroke-width="1.0"/>
<line x1="604.9" y1="468.1" x2="697.1" y2="419.7" stroke="#fff2c8" stroke-opacity="0.19" stroke-width="2.0"/>
<line x1="396.4" y1="445.9" x2="380.0" y2="390.3" stroke="#9a7035" stroke-opacity="0.06" stroke-width="1.5"/>
<line x1="223.2" y1="447.5" x2="141.7" y2="403.1" stroke="#fff2c8" stroke-opacity="0.17" stroke-width="0.9"/>
<line x1="539.0" y1="467.5" x2="624.6" y2="394.8" stroke="#9a7035" stroke-opacity="0.12" stroke-width="1.4"/>
<line x1="323.0" y1="386.4" x2="273.2" y2="305.5" stroke="#fff2c8" stroke-opacity="0.21" stroke-width="0.9"/>
<line x1="416.2" y1="217.0" x2="413.0" y2="137.3" stroke="#fff2c8" stroke-opacity="0.07" stroke-width="1.0"/>
<line x1="230.6" y1="271.0" x2="171.3" y2="184.9" stroke="#fff2c8" stroke-opacity="0.21" stroke-width="0.8"/>
<line x1="525.7" y1="201.4" x2="539.7" y2="148.8" stroke="#9a7035" stroke-opacity="0.10" stroke-width="0.9"/>
<line x1="331.4" y1="350.7" x2="312.3" y2="310.2" stroke="#9a7035" stroke-opacity="0.06" stroke-width="1.7"/>
<line x1="364.6" y1="449.1" x2="326.1" y2="383.7" stroke="#fff2c8" stroke-opacity="0.15" stroke-width="1.7"/>
<line x1="488.6" y1="332.8" x2="494.4" y2="310.2" stroke="#fff2c8" stroke-opacity="0.08" stroke-width="1.6"/>
<line x1="210.4" y1="409.9" x2="164.7" y2="378.7" stroke="#fff2c8" stroke-opacity="0.17" stroke-width="1.0"/>
<line x1="151.2" y1="325.6" x2="110.5" y2="291.4" stroke="#9a7035" stroke-opacity="0.12" stroke-width="1.4"/>
<line x1="321.8" y1="478.6" x2="235.5" y2="413.8" stroke="#fff2c8" stroke-opacity="0.14" stroke-width="1.4"/>
<line x1="230.0" y1="434.2" x2="199.2" y2="414.8" stroke="#fff2c8" stroke-opacity="0.14" stroke-width="1.2"/>
<line x1="273.2" y1="407.1" x2="244.4" y2="378.9" stroke="#fff2c8" stroke-opacity="0.10" stroke-width="1.8"/>
<line x1="431.7" y1="209.5" x2="431.8" y2="188.0" stroke="#9a7035" stroke-opacity="0.08" stroke-width="1.7"/>
<line x1="484.7" y1="269.1" x2="492.6" y2="226.9" stroke="#9a7035" stroke-opacity="0.05" stroke-width="1.1"/>
<line x1="225.7" y1="489.4" x2="157.8" y2="465.9" stroke="#fff2c8" stroke-opacity="0.20" stroke-width="0.9"/>
<line x1="465.6" y1="390.5" x2="482.0" y2="312.7" stroke="#9a7035" stroke-opacity="0.10" stroke-width="0.9"/>
<line x1="261.0" y1="347.1" x2="187.5" y2="254.5" stroke="#fff2c8" stroke-opacity="0.16" stroke-width="1.6"/>
<line x1="579.4" y1="423.5" x2="654.0" y2="355.3" stroke="#fff2c8" stroke-opacity="0.21" stroke-width="0.8"/>
<line x1="633.0" y1="472.0" x2="688.7" y2="447.9" stroke="#fff2c8" stroke-opacity="0.10" stroke-width="1.7"/>
<line x1="498.6" y1="425.6" x2="523.3" y2="377.2" stroke="#fff2c8" stroke-opacity="0.09" stroke-width="1.1"/>
<line x1="268.9" y1="223.0" x2="217.3" y2="115.0" stroke="#9a7035" stroke-opacity="0.08" stroke-width="1.4"/>
<line x1="668.7" y1="297.0" x2="732.6" y2="226.5" stroke="#9a7035" stroke-opacity="0.06" stroke-width="1.6"/>
<line x1="685.0" y1="362.7" x2="708.1" y2="344.8" stroke="#9a7035" stroke-opacity="0.07" stroke-width="1.0"/>
<line x1="704.8" y1="462.3" x2="793.9" y2="430.6" stroke="#fff2c8" stroke-opacity="0.19" stroke-width="1.9"/>
<line x1="702.7" y1="410.1" x2="793.1" y2="360.4" stroke="#9a7035" stroke-opacity="0.09" stroke-width="1.3"/>
<line x1="673.5" y1="349.6" x2="754.5" y2="279.6" stroke="#fff2c8" stroke-opacity="0.21" stroke-width="1.4"/>
<line x1="560.5" y1="505.8" x2="668.3" y2="460.9" stroke="#9a7035" stroke-opacity="0.06" stroke-width="1.8"/>
<line x1="323.8" y1="435.7" x2="281.1" y2="385.7" stroke="#fff2c8" stroke-opacity="0.14" stroke-width="1.9"/>
<line x1="571.8" y1="293.6" x2="599.6" y2="241.3" stroke="#9a7035" stroke-opacity="0.11" stroke-width="1.6"/>
<line x1="736.0" y1="428.8" x2="791.7" y2="404.9" stroke="#fff2c8" stroke-opacity="0.16" stroke-width="1.8"/>
<line x1="318.8" y1="313.3" x2="276.3" y2="218.8" stroke="#9a7035" stroke-opacity="0.04" stroke-width="1.4"/>
<line x1="296.2" y1="519.4" x2="199.3" y2="490.0" stroke="#fff2c8" stroke-opacity="0.16" stroke-width="1.3"/>
<line x1="359.4" y1="407.9" x2="336.1" y2="357.7" stroke="#9a7035" stroke-opacity="0.10" stroke-width="1.2"/>
<line x1="267.8" y1="474.8" x2="188.0" y2="433.0" stroke="#fff2c8" stroke-opacity="0.17" stroke-width="1.8"/>
<line x1="182.1" y1="401.2" x2="161.8" y2="388.1" stroke="#9a7035" stroke-opacity="0.06" stroke-width="1.1"/>
<line x1="624.3" y1="486.2" x2="664.0" y2="471.2" stroke="#9a7035" stroke-opacity="0.09" stroke-width="1.9"/>
<line x1="362.6" y1="324.5" x2="330.8" y2="213.4" stroke="#fff2c8" stroke-opacity="0.22" stroke-width="1.0"/>
<line x1="547.8" y1="461.1" x2="603.5" y2="414.4" stroke="#fff2c8" stroke-opacity="0.09" stroke-width="1.9"/>
<line x1="390.7" y1="233.8" x2="385.3" y2="189.1" stroke="#fff2c8" stroke-opacity="0.08" stroke-width="1.5"/>
<line x1="633.2" y1="416.5" x2="680.3" y2="383.3" stroke="#9a7035" stroke-opacity="0.12" stroke-width="1.6"/>
<line x1="179.4" y1="438.5" x2="121.5" y2="410.3" stroke="#9a7035" stroke-opacity="0.07" stroke-width="1.6"/>
<line x1="502.1" y1="361.2" x2="526.8" y2="293.3" stroke="#9a7035" stroke-opacity="0.12" stroke-width="1.4"/>
<line x1="298.5" y1="210.3" x2="289.5" y2="186.3" stroke="#9a7035" stroke-opacity="0.10" stroke-width="1.5"/>
<line x1="387.0" y1="250.2" x2="372.0" y2="142.1" stroke="#9a7035" stroke-opacity="0.11" stroke-width="0.8"/>
<line x1="364.6" y1="428.4" x2="313.3" y2="325.1" stroke="#9a7035" stroke-opacity="0.05" stroke-width="1.5"/>
<line x1="454.7" y1="439.9" x2="466.6" y2="381.9" stroke="#9a7035" stroke-opacity="0.10" stroke-width="1.1"/>
<line x1="550.4" y1="414.8" x2="598.0" y2="357.6" stroke="#fff2c8" stroke-opacity="0.22" stroke-width="1.6"/>
<line x1="640.9" y1="357.1" x2="682.7" y2="316.8" stroke="#9a7035" stroke-opacity="0.10" stroke-width="1.6"/>
<line x1="344.8" y1="432.0" x2="301.9" y2="367.5" stroke="#9a7035" stroke-opacity="0.11" stroke-width="1.2"/>
<line x1="227.2" y1="415.0" x2="139.5" y2="352.4" stroke="#fff2c8" stroke-opacity="0.18" stroke-width="1.0"/>
<line x1="370.8" y1="450.6" x2="347.1" y2="406.8" stroke="#fff2c8" stroke-opacity="0.21" stroke-width="2.0"/>
<line x1="287.8" y1="428.8" x2="203.7" y2="351.2" stroke="#fff2c8" stroke-opacity="0.11" stroke-width="1.3"/>
<line x1="275.2" y1="467.7" x2="224.1" y2="437.3" stroke="#fff2c8" stroke-opacity="0.21" stroke-width="1.1"/>
<line x1="179.8" y1="307.7" x2="134.0" y2="261.5" stroke="#9a7035" stroke-opacity="0.10" stroke-width="1.7"/>
<line x1="359.1" y1="426.6" x2="314.1" y2="342.1" stroke="#fff2c8" stroke-opacity="0.15" stroke-width="1.6"/>
<line x1="544.0" y1="415.1" x2="578.8" y2="370.9" stroke="#9a7035" stroke-opacity="0.09" stroke-width="1.1"/>
<line x1="490.7" y1="390.4" x2="523.4" y2="298.9" stroke="#fff2c8" stroke-opacity="0.19" stroke-width="1.5"/>
<line x1="293.0" y1="223.0" x2="275.4" y2="179.9" stroke="#fff2c8" stroke-opacity="0.07" stroke-width="1.5"/>
<line x1="611.9" y1="330.2" x2="649.9" y2="282.2" stroke="#9a7035" stroke-opacity="0.05" stroke-width="1.2"/>
<line x1="568.4" y1="215.6" x2="599.5" y2="138.2" stroke="#9a7035" stroke-opacity="0.11" stroke-width="1.3"/>
<line x1="714.9" y1="436.6" x2="764.6" y2="415.1" stroke="#fff2c8" stroke-opacity="0.19" stroke-width="1.2"/>
<line x1="175.3" y1="326.8" x2="121.4" y2="277.3" stroke="#fff2c8" stroke-opacity="0.17" stroke-width="1.9"/>
<line x1="264.2" y1="445.6" x2="242.3" y2="430.5" stroke="#fff2c8" stroke-opacity="0.14" stroke-width="1.8"/>
<line x1="544.0" y1="319.6" x2="569.9" y2="265.1" stroke="#9a7035" stroke-opacity="0.06" stroke-width="1.8"/>
<line x1="662.0" y1="316.5" x2="686.3" y2="291.1" stroke="#9a7035" stroke-opacity="0.11" stroke-width="1.4"/>
<line x1="736.1" y1="384.9" x2="818.0" y2="338.1" stroke="#9a7035" stroke-opacity="0.10" stroke-width="1.9"/>
<line x1="181.9" y1="391.1" x2="107.2" y2="340.2" stroke="#9a7035" stroke-opacity="0.06" stroke-width="0.9"/>
<line x1="519.6" y1="239.7" x2="532.3" y2="194.2" stroke="#fff2c8" stroke-opacity="0.10" stroke-width="0.9"/>
<line x1="597.2" y1="226.3" x2="642.1" y2="136.7" stroke="#fff2c8" stroke-opacity="0.17" stroke-width="0.9"/>
<line x1="584.1" y1="436.1" x2="600.0" y2="423.3" stroke="#9a7035" stroke-opacity="0.05" stroke-width="1.1"/>
<line x1="218.5" y1="468.8" x2="149.2" y2="438.9" stroke="#9a7035" stroke-opacity="0.04" stroke-width="1.8"/>
<line x1="283.9" y1="471.8" x2="212.9" y2="429.0" stroke="#fff2c8" stroke-opacity="0.11" stroke-width="1.5"/>
<line x1="210.3" y1="321.6" x2="182.6" y2="291.5" stroke="#9a7035" stroke-opacity="0.11" stroke-width="1.4"/>
<line x1="127.4" y1="455.7" x2="105.8" y2="448.3" stroke="#fff2c8" stroke-opacity="0.13" stroke-width="0.9"/>
<line x1="532.8" y1="272.2" x2="559.2" y2="198.3" stroke="#fff2c8" stroke-opacity="0.14" stroke-width="1.5"/>
<line x1="202.4" y1="301.7" x2="123.3" y2="212.0" stroke="#9a7035" stroke-opacity="0.13" stroke-width="1.2"/>
<line x1="554.0" y1="523.3" x2="619.0" y2="504.1" stroke="#fff2c8" stroke-opacity="0.13" stroke-width="1.6"/>
<line x1="551.7" y1="361.6" x2="580.0" y2="315.4" stroke="#fff2c8" stroke-opacity="0.12" stroke-width="1.1"/>
<line x1="207.0" y1="346.5" x2="155.3" y2="296.9" stroke="#fff2c8" stroke-opacity="0.09" stroke-width="1.6"/>
<line x1="299.6" y1="433.4" x2="245.1" y2="380.5" stroke="#9a7035" stroke-opacity="0.13" stroke-width="1.7"/>
<line x1="761.8" y1="424.5" x2="847.2" y2="389.6" stroke="#9a7035" stroke-opacity="0.05" stroke-width="1.0"/>
<line x1="100.7" y1="463.3" x2="12.3" y2="437.3" stroke="#9a7035" stroke-opacity="0.06" stroke-width="1.2"/>
<line x1="212.3" y1="382.8" x2="119.9" y2="307.6" stroke="#fff2c8" stroke-opacity="0.07" stroke-width="1.0"/>
<line x1="298.5" y1="232.7" x2="261.1" y2="139.5" stroke="#fff2c8" stroke-opacity="0.08" stroke-width="0.9"/>
<line x1="176.8" y1="364.5" x2="123.6" y2="323.5" stroke="#9a7035" stroke-opacity="0.12" stroke-width="1.8"/>
<line x1="409.2" y1="228.7" x2="407.1" y2="196.0" stroke="#fff2c8" stroke-opacity="0.15" stroke-width="1.4"/>
<line x1="306.4" y1="431.8" x2="291.1" y2="415.9" stroke="#9a7035" stroke-opacity="0.10" stroke-width="1.9"/>
<line x1="647.6" y1="492.1" x2="736.6" y2="464.3" stroke="#fff2c8" stroke-opacity="0.19" stroke-width="1.8"/>
<line x1="336.6" y1="495.5" x2="302.6" y2="472.0" stroke="#9a7035" stroke-opacity="0.07" stroke-width="0.8"/>
<line x1="676.6" y1="352.6" x2="727.4" y2="309.9" stroke="#fff2c8" stroke-opacity="0.20" stroke-width="1.4"/>
<line x1="251.4" y1="476.2" x2="176.7" y2="441.2" stroke="#9a7035" stroke-opacity="0.08" stroke-width="1.6"/>
<line x1="306.8" y1="434.7" x2="229.3" y2="355.8" stroke="#fff2c8" stroke-opacity="0.08" stroke-width="1.5"/>
<line x1="293.2" y1="469.5" x2="238.5" y2="433.3" stroke="#9a7035" stroke-opacity="0.10" stroke-width="1.6"/>
<line x1="409.7" y1="433.4" x2="395.0" y2="342.1" stroke="#fff2c8" stroke-opacity="0.14" stroke-width="1.3"/>
<line x1="563.4" y1="288.3" x2="582.7" y2="248.8" stroke="#9a7035" stroke-opacity="0.10" stroke-width="1.4"/>
<line x1="141.9" y1="351.9" x2="77.1" y2="305.1" stroke="#fff2c8" stroke-opacity="0.10" stroke-width="2.0"/>
<line x1="288.3" y1="397.1" x2="223.4" y2="322.5" stroke="#9a7035" stroke-opacity="0.10" stroke-width="1.7"/>
<line x1="303.0" y1="513.3" x2="192.6" y2="472.7" stroke="#9a7035" stroke-opacity="0.04" stroke-width="0.9"/>
<line x1="201.4" y1="280.2" x2="174.9" y2="247.7" stroke="#9a7035" stroke-opacity="0.12" stroke-width="1.6"/>
<line x1="591.8" y1="478.9" x2="623.4" y2="463.1" stroke="#fff2c8" stroke-opacity="0.18" stroke-width="0.9"/>
<line x1="716.2" y1="464.5" x2="752.9" y2="452.2" stroke="#9a7035" stroke-opacity="0.05" stroke-width="1.4"/>
<line x1="151.8" y1="396.8" x2="57.9" y2="341.7" stroke="#9a7035" stroke-opacity="0.04" stroke-width="1.8"/>
<line x1="478.8" y1="231.8" x2="489.1" y2="162.4" stroke="#9a7035" stroke-opacity="0.09" stroke-width="1.8"/>
<line x1="318.1" y1="505.1" x2="251.2" y2="472.3" stroke="#fff2c8" stroke-opacity="0.12" stroke-width="0.8"/>
<line x1="500.2" y1="467.0" x2="562.2" y2="384.8" stroke="#9a7035" stroke-opacity="0.08" stroke-width="0.9"/>
<line x1="494.0" y1="406.9" x2="518.3" y2="348.9" stroke="#fff2c8" stroke-opacity="0.22" stroke-width="1.5"/>
<line x1="378.6" y1="434.7" x2="343.3" y2="348.7" stroke="#9a7035" stroke-opacity="0.12" stroke-width="0.9"/>
<line x1="364.4" y1="379.9" x2="331.4" y2="289.4" stroke="#fff2c8" stroke-opacity="0.16" stroke-width="2.0"/>
<line x1="502.9" y1="475.1" x2="520.8" y2="454.2" stroke="#fff2c8" stroke-opacity="0.17" stroke-width="1.5"/>
<line x1="442.4" y1="327.3" x2="445.6" y2="266.7" stroke="#9a7035" stroke-opacity="0.10" stroke-width="1.9"/>
<line x1="617.3" y1="294.3" x2="681.4" y2="203.4" stroke="#9a7035" stroke-opacity="0.10" stroke-width="0.8"/>
<line x1="586.0" y1="258.4" x2="614.9" y2="202.4" stroke="#9a7035" stroke-opacity="0.06" stroke-width="1.9"/>
<line x1="383.9" y1="262.8" x2="377.0" y2="218.1" stroke="#fff2c8" stroke-opacity="0.12" stroke-width="1.2"/>
<line x1="228.7" y1="449.7" x2="125.1" y2="392.9" stroke="#9a7035" stroke-opacity="0.12" stroke-width="1.7"/>
<line x1="723.8" y1="321.5" x2="797.8" y2="261.4" stroke="#fff2c8" stroke-opacity="0.10" stroke-width="1.3"/>
<line x1="265.7" y1="508.0" x2="162.2" y2="475.2" stroke="#9a7035" stroke-opacity="0.07" stroke-width="1.7"/>
<line x1="662.4" y1="298.0" x2="728.4" y2="223.6" stroke="#fff2c8" stroke-opacity="0.08" stroke-width="1.8"/>
<line x1="298.1" y1="313.8" x2="271.4" y2="263.8" stroke="#fff2c8" stroke-opacity="0.21" stroke-width="1.0"/>
<line x1="453.3" y1="275.5" x2="459.3" y2="201.9" stroke="#9a7035" stroke-opacity="0.08" stroke-width="1.9"/>
<line x1="608.2" y1="234.4" x2="622.2" y2="209.0" stroke="#fff2c8" stroke-opacity="0.11" stroke-width="1.9"/>
<line x1="257.1" y1="508.9" x2="169.3" y2="483.0" stroke="#9a7035" stroke-opacity="0.06" stroke-width="1.3"/>
<line x1="570.4" y1="298.9" x2="615.1" y2="215.5" stroke="#9a7035" stroke-opacity="0.06" stroke-width="1.1"/>
<line x1="148.9" y1="465.5" x2="110.1" y2="452.4" stroke="#fff2c8" stroke-opacity="0.21" stroke-width="1.6"/>
<line x1="498.4" y1="281.1" x2="517.4" y2="203.6" stroke="#9a7035" stroke-opacity="0.07" stroke-width="0.9"/>
<line x1="326.3" y1="512.7" x2="275.3" y2="489.4" stroke="#fff2c8" stroke-opacity="0.08" stroke-width="1.4"/>
<line x1="709.5" y1="463.7" x2="754.3" y2="448.3" stroke="#9a7035" stroke-opacity="0.06" stroke-width="0.9"/>
<line x1="320.6" y1="368.7" x2="276.4" y2="291.4" stroke="#fff2c8" stroke-opacity="0.18" stroke-width="0.9"/>
<line x1="614.0" y1="475.6" x2="707.8" y2="432.6" stroke="#fff2c8" stroke-opacity="0.19" stroke-width="1.1"/>
<line x1="693.3" y1="366.4" x2="763.4" y2="314.9" stroke="#fff2c8" stroke-opacity="0.06" stroke-width="1.0"/>
<line x1="563.8" y1="486.5" x2="639.1" y2="445.1" stroke="#9a7035" stroke-opacity="0.10" stroke-width="1.0"/>
<line x1="320.0" y1="479.7" x2="224.4" y2="410.0" stroke="#fff2c8" stroke-opacity="0.16" stroke-width="1.5"/>
<line x1="344.9" y1="465.0" x2="330.6" y2="449.0" stroke="#9a7035" stroke-opacity="0.05" stroke-width="2.0"/>
<line x1="322.6" y1="274.4" x2="310.6" y2="242.8" stroke="#9a7035" stroke-opacity="0.06" stroke-width="1.2"/>
<line x1="438.5" y1="420.2" x2="441.2" y2="375.4" stroke="#9a7035" stroke-opacity="0.07" stroke-width="1.3"/>
<line x1="539.7" y1="429.5" x2="565.0" y2="399.3" stroke="#fff2c8" stroke-opacity="0.12" stroke-width="1.2"/>
<line x1="516.6" y1="339.0" x2="555.6" y2="239.4" stroke="#fff2c8" stroke-opacity="0.17" stroke-width="1.8"/>
<line x1="354.0" y1="469.8" x2="312.9" y2="421.0" stroke="#fff2c8" stroke-opacity="0.13" stroke-width="1.7"/>
<line x1="305.5" y1="492.2" x2="245.8" y2="459.7" stroke="#fff2c8" stroke-opacity="0.10" stroke-width="1.3"/>
<line x1="321.5" y1="491.4" x2="274.1" y2="461.5" stroke="#fff2c8" stroke-opacity="0.21" stroke-width="1.5"/>
<line x1="276.2" y1="487.6" x2="190.7" y2="447.3" stroke="#9a7035" stroke-opacity="0.12" stroke-width="2.0"/>
<line x1="543.2" y1="478.1" x2="635.9" y2="411.1" stroke="#fff2c8" stroke-opacity="0.10" stroke-width="1.0"/>
<line x1="567.3" y1="464.3" x2="590.5" y2="448.2" stroke="#fff2c8" stroke-opacity="0.21" stroke-width="1.4"/>
<line x1="504.6" y1="453.4" x2="542.0" y2="399.9" stroke="#fff2c8" stroke-opacity="0.09" stroke-width="1.6"/>
<line x1="379.0" y1="427.1" x2="336.6" y2="316.5" stroke="#fff2c8" stroke-opacity="0.09" stroke-width="0.8"/>
<line x1="527.8" y1="331.1" x2="536.6" y2="310.4" stroke="#fff2c8" stroke-opacity="0.18" stroke-width="1.4"/>
<line x1="272.0" y1="373.1" x2="220.1" y2="311.6" stroke="#9a7035" stroke-opacity="0.05" stroke-width="1.8"/>
<line x1="716.0" y1="440.8" x2="813.6" y2="400.1" stroke="#fff2c8" stroke-opacity="0.20" stroke-width="1.0"/>
<line x1="250.9" y1="356.1" x2="178.2" y2="273.3" stroke="#fff2c8" stroke-opacity="0.09" stroke-width="0.8"/>
<line x1="406.3" y1="414.0" x2="400.0" y2="375.3" stroke="#9a7035" stroke-opacity="0.09" stroke-width="1.9"/>
<line x1="355.0" y1="276.4" x2="349.5" y2="255.8" stroke="#9a7035" stroke-opacity="0.06" stroke-width="1.4"/>
<line x1="441.3" y1="194.1" x2="443.4" y2="125.0" stroke="#9a7035" stroke-opacity="0.10" stroke-width="1.1"/>
<line x1="556.9" y1="455.3" x2="649.5" y2="379.0" stroke="#fff2c8" stroke-opacity="0.10" stroke-width="2.0"/>
<line x1="330.4" y1="364.0" x2="305.7" y2="315.6" stroke="#9a7035" stroke-opacity="0.04" stroke-width="1.2"/>
<line x1="170.4" y1="350.5" x2="154.8" y2="337.9" stroke="#9a7035" stroke-opacity="0.06" stroke-width="1.3"/>
<line x1="479.1" y1="261.9" x2="484.6" y2="228.5" stroke="#fff2c8" stroke-opacity="0.08" stroke-width="2.0"/>
<line x1="312.5" y1="471.6" x2="254.8" y2="428.2" stroke="#9a7035" stroke-opacity="0.12" stroke-width="0.9"/>
<line x1="329.9" y1="441.4" x2="279.2" y2="381.4" stroke="#fff2c8" stroke-opacity="0.13" stroke-width="1.9"/>
<line x1="571.7" y1="248.4" x2="619.5" y2="143.1" stroke="#fff2c8" stroke-opacity="0.21" stroke-width="1.3"/>
<line x1="99.5" y1="425.1" x2="71.3" y2="413.6" stroke="#fff2c8" stroke-opacity="0.11" stroke-width="1.1"/>
<line x1="755.4" y1="445.4" x2="813.9" y2="424.8" stroke="#fff2c8" stroke-opacity="0.20" stroke-width="1.8"/>
<line x1="527.9" y1="331.6" x2="540.3" y2="302.5" stroke="#fff2c8" stroke-opacity="0.17" stroke-width="1.5"/>
<line x1="681.6" y1="312.9" x2="764.6" y2="231.5" stroke="#fff2c8" stroke-opacity="0.07" stroke-width="1.9"/>
<line x1="459.3" y1="403.7" x2="475.8" y2="316.0" stroke="#fff2c8" stroke-opacity="0.10" stroke-width="1.2"/>
<line x1="448.4" y1="267.7" x2="450.2" y2="240.4" stroke="#9a7035" stroke-opacity="0.10" stroke-width="1.4"/>
<line x1="573.0" y1="267.1" x2="582.2" y2="248.3" stroke="#fff2c8" stroke-opacity="0.17" stroke-width="1.7"/>
<line x1="490.2" y1="413.2" x2="534.2" y2="306.0" stroke="#9a7035" stroke-opacity="0.06" stroke-width="1.3"/>
<line x1="585.2" y1="501.2" x2="642.1" y2="479.6" stroke="#9a7035" stroke-opacity="0.12" stroke-width="1.1"/>
<line x1="550.5" y1="391.5" x2="600.7" y2="321.3" stroke="#9a7035" stroke-opacity="0.05" stroke-width="1.1"/>
<line x1="305.8" y1="427.2" x2="289.7" y2="410.0" stroke="#fff2c8" stroke-opacity="0.12" stroke-width="1.3"/>
<line x1="190.1" y1="442.2" x2="87.6" y2="391.8" stroke="#9a7035" stroke-opacity="0.07" stroke-width="1.6"/>
<line x1="404.0" y1="404.8" x2="392.8" y2="337.6" stroke="#fff2c8" stroke-opacity="0.17" stroke-width="1.0"/>
<line x1="305.3" y1="211.8" x2="272.7" y2="120.8" stroke="#9a7035" stroke-opacity="0.10" stroke-width="1.6"/>
<line x1="620.9" y1="242.0" x2="641.3" y2="208.0" stroke="#9a7035" stroke-opacity="0.07" stroke-width="1.1"/>
<line x1="634.3" y1="380.0" x2="713.1" y2="310.6" stroke="#9a7035" stroke-opacity="0.09" stroke-width="1.0"/>
<line x1="186.3" y1="487.0" x2="97.6" y2="460.5" stroke="#fff2c8" stroke-opacity="0.07" stroke-width="0.8"/>
<line x1="203.8" y1="366.2" x2="188.3" y2="352.9" stroke="#fff2c8" stroke-opacity="0.10" stroke-width="1.7"/>
<line x1="540.6" y1="527.6" x2="570.7" y2="518.8" stroke="#9a7035" stroke-opacity="0.13" stroke-width="1.0"/>
<line x1="324.3" y1="332.3" x2="302.4" y2="285.1" stroke="#fff2c8" stroke-opacity="0.14" stroke-width="1.1"/>
<line x1="307.6" y1="508.8" x2="274.2" y2="494.8" stroke="#fff2c8" stroke-opacity="0.16" stroke-width="1.6"/>
<line x1="240.4" y1="297.5" x2="186.0" y2="222.3" stroke="#fff2c8" stroke-opacity="0.14" stroke-width="1.0"/>
<line x1="666.5" y1="449.0" x2="689.3" y2="438.3" stroke="#fff2c8" stroke-opacity="0.17" stroke-width="1.3"/>
<line x1="523.2" y1="415.5" x2="577.2" y2="331.7" stroke="#9a7035" stroke-opacity="0.05" stroke-width="1.5"/>
<line x1="211.0" y1="353.4" x2="137.9" y2="284.5" stroke="#9a7035" stroke-opacity="0.06" stroke-width="0.9"/>
<line x1="539.8" y1="321.5" x2="553.9" y2="290.8" stroke="#fff2c8" stroke-opacity="0.15" stroke-width="0.9"/>
<line x1="490.6" y1="395.8" x2="506.5" y2="352.8" stroke="#fff2c8" stroke-opacity="0.15" stroke-width="1.7"/>
<line x1="141.2" y1="460.1" x2="101.4" y2="446.4" stroke="#fff2c8" stroke-opacity="0.16" stroke-width="1.6"/>
<line x1="535.4" y1="222.6" x2="547.5" y2="184.0" stroke="#fff2c8" stroke-opacity="0.17" stroke-width="1.1"/>
<line x1="295.5" y1="454.2" x2="219.2" y2="394.2" stroke="#9a7035" stroke-opacity="0.10" stroke-width="2.0"/>
<line x1="565.7" y1="421.9" x2="601.9" y2="385.2" stroke="#9a7035" stroke-opacity="0.05" stroke-width="1.5"/>
<line x1="321.1" y1="502.4" x2="258.0" y2="469.0" stroke="#fff2c8" stroke-opacity="0.21" stroke-width="1.9"/>
<line x1="413.5" y1="397.5" x2="410.3" y2="365.7" stroke="#fff2c8" stroke-opacity="0.14" stroke-width="1.2"/>
<line x1="566.7" y1="347.2" x2="619.4" y2="265.1" stroke="#fff2c8" stroke-opacity="0.07" stroke-width="1.3"/>
<line x1="422.3" y1="382.0" x2="418.5" y2="295.2" stroke="#fff2c8" stroke-opacity="0.11" stroke-width="1.4"/>
<line x1="599.0" y1="290.6" x2="629.4" y2="242.2" stroke="#fff2c8" stroke-opacity="0.21" stroke-width="1.9"/>
<line x1="472.6" y1="428.4" x2="492.9" y2="366.0" stroke="#9a7035" stroke-opacity="0.07" stroke-width="0.8"/>
<line x1="769.6" y1="454.6" x2="801.0" y2="444.8" stroke="#fff2c8" stroke-opacity="0.16" stroke-width="1.2"/>
<line x1="146.1" y1="429.0" x2="57.9" y2="388.4" stroke="#fff2c8" stroke-opacity="0.07" stroke-width="1.3"/>
<line x1="105.1" y1="382.7" x2="83.0" y2="370.7" stroke="#fff2c8" stroke-opacity="0.18" stroke-width="1.0"/>
<line x1="318.8" y1="494.5" x2="287.4" y2="476.0" stroke="#fff2c8" stroke-opacity="0.19" stroke-width="1.0"/>
<line x1="189.9" y1="353.7" x2="142.4" y2="313.0" stroke="#fff2c8" stroke-opacity="0.08" stroke-width="1.1"/>
<line x1="564.1" y1="514.7" x2="607.7" y2="500.0" stroke="#9a7035" stroke-opacity="0.12" stroke-width="1.9"/>
<line x1="403.6" y1="192.7" x2="397.8" y2="112.5" stroke="#fff2c8" stroke-opacity="0.13" stroke-width="1.7"/>
<line x1="514.0" y1="441.8" x2="536.7" y2="409.7" stroke="#9a7035" stroke-opacity="0.05" stroke-width="1.8"/>
<line x1="357.0" y1="398.8" x2="338.2" y2="357.4" stroke="#fff2c8" stroke-opacity="0.22" stroke-width="1.0"/>
  </g>
  <g stroke-linecap="round" filter="url(#fBlur2)" mask="url(#mWave)">
<polyline points="328.5,819.2 333.0,818.3 337.6,817.3 342.1,816.1 346.6,815.1 351.1,815.7 355.7,816.3 360.2,817.7 364.7,819.0" fill="none" stroke="#fff4d8" stroke-opacity="0.27" stroke-width="2.0"/>
<polyline points="346.3,565.3 352.5,564.4 358.7,563.2 364.8,563.1 371.0,564.1 377.2,565.2 383.3,565.3 389.5,566.3 395.7,565.3" fill="none" stroke="#b09058" stroke-opacity="0.12" stroke-width="1.9"/>
<polyline points="301.3,798.4 309.7,799.7 318.2,801.2 326.7,800.4 335.1,799.5 343.6,798.7 352.0,799.7 360.5,799.6 368.9,802.2" fill="none" stroke="#b09058" stroke-opacity="0.11" stroke-width="1.8"/>
<polyline points="548.1,472.0 555.6,471.4 563.2,470.2 570.8,469.4 578.4,468.8 585.9,468.6 593.5,469.5 601.1,469.7 608.7,472.3" fill="none" stroke="#fff4d8" stroke-opacity="0.13" stroke-width="1.1"/>
<polyline points="279.4,767.3 286.3,767.7 293.1,768.5 300.0,769.0 306.9,770.1 313.8,770.4 320.7,769.8 327.5,770.6 334.4,769.5" fill="none" stroke="#fff4d8" stroke-opacity="0.23" stroke-width="2.0"/>
<polyline points="393.6,671.0 400.1,670.7 406.6,672.1 413.1,673.9 419.6,674.7 426.2,675.6 432.7,673.1 439.2,672.2 445.7,670.7" fill="none" stroke="#b09058" stroke-opacity="0.09" stroke-width="1.1"/>
<polyline points="528.2,676.6 537.7,676.2 547.2,675.7 556.8,675.0 566.3,673.7 575.8,673.8 585.4,675.3 594.9,677.1 604.4,675.6" fill="none" stroke="#fff4d8" stroke-opacity="0.18" stroke-width="1.9"/>
<polyline points="418.7,531.8 425.9,532.3 433.1,532.3 440.3,531.3 447.5,531.2 454.7,529.8 461.9,529.3 469.1,529.2 476.3,528.2" fill="none" stroke="#b09058" stroke-opacity="0.08" stroke-width="1.0"/>
<polyline points="559.5,665.9 569.9,664.1 580.3,663.7 590.8,664.7 601.2,665.8 611.7,667.8 622.1,667.8 632.6,667.3 643.0,666.2" fill="none" stroke="#b09058" stroke-opacity="0.10" stroke-width="1.1"/>
<polyline points="336.1,454.5 345.0,453.5 354.0,451.6 362.9,450.8 371.9,451.0 380.8,453.6 389.8,455.0 398.7,454.0 407.7,451.9" fill="none" stroke="#b09058" stroke-opacity="0.08" stroke-width="2.0"/>
<polyline points="221.0,848.6 231.8,849.2 242.6,846.7 253.4,846.4 264.2,848.8 275.0,850.2 285.8,846.7 296.6,847.2 307.4,847.6" fill="none" stroke="#fff4d8" stroke-opacity="0.15" stroke-width="1.5"/>
<polyline points="321.3,716.4 325.7,716.9 330.2,716.9 334.6,716.8 339.0,716.2 343.5,716.0 347.9,715.0 352.4,715.2 356.8,714.7" fill="none" stroke="#fff4d8" stroke-opacity="0.23" stroke-width="1.2"/>
<polyline points="229.3,524.1 238.1,521.9 247.0,520.5 255.8,520.8 264.6,522.5 273.4,525.5 282.3,525.1 291.1,521.9 299.9,522.0" fill="none" stroke="#b09058" stroke-opacity="0.09" stroke-width="1.8"/>
<polyline points="360.7,845.3 367.3,844.8 373.9,844.2 380.6,844.4 387.2,845.4 393.9,846.1 400.5,846.6 407.1,847.2 413.8,846.6" fill="none" stroke="#b09058" stroke-opacity="0.10" stroke-width="1.5"/>
<polyline points="246.2,528.8 256.6,530.5 267.0,529.6 277.4,527.9 287.8,526.0 298.3,527.9 308.7,531.2 319.1,530.8 329.5,528.2" fill="none" stroke="#fff4d8" stroke-opacity="0.19" stroke-width="1.7"/>
<polyline points="304.2,789.1 310.4,788.5 316.5,787.8 322.6,787.5 328.8,786.5 334.9,786.8 341.1,785.9 347.2,786.3 353.3,786.5" fill="none" stroke="#b09058" stroke-opacity="0.07" stroke-width="1.3"/>
<polyline points="305.5,473.7 314.6,475.1 323.7,475.8 332.8,477.2 341.9,476.5 351.0,475.1 360.0,474.9 369.1,474.1 378.2,472.4" fill="none" stroke="#fff4d8" stroke-opacity="0.28" stroke-width="1.9"/>
<polyline points="590.7,707.3 594.2,707.6 597.6,707.5 601.0,707.2 604.5,706.8 607.9,706.5 611.3,706.2 614.8,706.3 618.2,705.7" fill="none" stroke="#b09058" stroke-opacity="0.09" stroke-width="1.5"/>
<polyline points="293.1,556.5 304.1,557.7 315.1,560.9 326.2,560.9 337.2,556.5 348.3,556.9 359.3,560.4 370.4,559.9 381.4,558.5" fill="none" stroke="#b09058" stroke-opacity="0.11" stroke-width="1.5"/>
<polyline points="440.4,828.5 446.3,829.1 452.1,829.6 458.0,830.0 463.9,830.3 469.7,830.6 475.6,829.4 481.4,830.1 487.3,829.5" fill="none" stroke="#b09058" stroke-opacity="0.06" stroke-width="2.0"/>
<polyline points="467.7,629.2 475.5,628.2 483.2,627.1 491.0,626.1 498.7,625.9 506.5,626.0 514.3,628.0 522.0,629.0 529.8,630.1" fill="none" stroke="#b09058" stroke-opacity="0.14" stroke-width="1.8"/>
<polyline points="503.0,588.4 508.3,588.6 513.5,588.8 518.8,588.1 524.0,588.2 529.3,587.4 534.6,586.0 539.8,586.1 545.1,585.4" fill="none" stroke="#b09058" stroke-opacity="0.11" stroke-width="1.5"/>
<polyline points="234.9,852.3 244.3,851.4 253.8,850.6 263.2,850.5 272.7,852.3 282.1,852.5 291.5,850.3 301.0,850.4 310.4,851.6" fill="none" stroke="#fff4d8" stroke-opacity="0.24" stroke-width="1.3"/>
<polyline points="568.0,610.4 578.8,608.2 589.6,606.8 600.3,608.3 611.1,610.0 621.9,612.7 632.7,611.1 643.5,607.7 654.3,607.9" fill="none" stroke="#fff4d8" stroke-opacity="0.24" stroke-width="1.1"/>
<polyline points="416.4,874.2 425.5,874.1 434.7,874.3 443.8,875.6 452.9,875.4 462.1,876.1 471.2,875.4 480.4,872.8 489.5,874.2" fill="none" stroke="#fff4d8" stroke-opacity="0.25" stroke-width="1.9"/>
<polyline points="573.1,596.6 577.7,597.1 582.4,597.6 587.0,598.1 591.6,598.9 596.3,598.5 600.9,598.4 605.5,597.1 610.2,597.5" fill="none" stroke="#fff4d8" stroke-opacity="0.28" stroke-width="1.7"/>
<polyline points="508.5,866.2 516.7,867.6 525.0,868.9 533.2,869.4 541.5,869.0 549.7,866.9 558.0,866.1 566.2,866.6 574.5,867.9" fill="none" stroke="#b09058" stroke-opacity="0.07" stroke-width="1.8"/>
<polyline points="362.1,688.5 366.5,688.0 371.0,687.6 375.5,687.5 380.0,687.3 384.5,687.0 389.0,688.0 393.5,687.8 398.0,689.1" fill="none" stroke="#b09058" stroke-opacity="0.07" stroke-width="1.7"/>
<polyline points="354.0,866.0 361.6,866.9 369.2,867.0 376.7,865.9 384.3,865.3 391.9,864.7 399.5,864.9 407.0,867.4 414.6,867.4" fill="none" stroke="#b09058" stroke-opacity="0.13" stroke-width="1.8"/>
<polyline points="441.9,607.4 447.5,607.1 453.1,606.8 458.6,605.8 464.2,605.0 469.7,603.7 475.3,603.7 480.9,603.0 486.4,602.8" fill="none" stroke="#b09058" stroke-opacity="0.14" stroke-width="1.8"/>
<polyline points="200.7,756.4 204.2,756.9 207.8,757.5 211.3,758.1 214.8,758.2 218.3,758.4 221.9,757.5 225.4,757.2 228.9,756.5" fill="none" stroke="#b09058" stroke-opacity="0.07" stroke-width="2.1"/>
<polyline points="552.2,564.7 559.5,565.6 566.8,566.5 574.1,566.6 581.4,565.0 588.8,564.8 596.1,563.3 603.4,563.0 610.7,564.2" fill="none" stroke="#b09058" stroke-opacity="0.14" stroke-width="2.2"/>
<polyline points="449.3,876.2 457.7,876.5 466.2,876.9 474.6,877.5 483.1,877.8 491.5,877.5 499.9,877.6 508.4,877.3 516.8,875.3" fill="none" stroke="#b09058" stroke-opacity="0.11" stroke-width="1.7"/>
<polyline points="417.4,627.9 420.7,627.5 423.9,627.3 427.2,626.8 430.4,626.5 433.7,626.6 436.9,626.5 440.2,626.6 443.4,627.3" fill="none" stroke="#fff4d8" stroke-opacity="0.24" stroke-width="2.0"/>
<polyline points="401.2,646.3 411.9,645.4 422.5,642.7 433.1,643.9 443.8,646.0 454.4,645.3 465.0,643.2 475.6,644.8 486.3,645.1" fill="none" stroke="#fff4d8" stroke-opacity="0.17" stroke-width="1.4"/>
<polyline points="482.5,841.6 489.1,842.3 495.7,842.0 502.3,841.5 508.9,840.1 515.5,840.2 522.1,840.4 528.7,840.8 535.4,842.8" fill="none" stroke="#b09058" stroke-opacity="0.10" stroke-width="1.2"/>
<polyline points="373.3,737.4 381.8,738.5 390.3,738.6 398.8,737.3 407.3,737.2 415.8,738.5 424.3,738.4 432.8,738.0 441.3,737.9" fill="none" stroke="#fff4d8" stroke-opacity="0.19" stroke-width="1.8"/>
<polyline points="262.3,635.1 266.0,635.6 269.7,636.0 273.4,636.2 277.1,636.8 280.8,636.9 284.5,637.2 288.2,636.7 291.9,637.2" fill="none" stroke="#b09058" stroke-opacity="0.10" stroke-width="1.2"/>
<polyline points="250.8,657.0 259.5,656.3 268.2,656.2 276.9,656.1 285.6,657.4 294.3,658.0 303.0,659.9 311.7,660.5 320.4,659.1" fill="none" stroke="#b09058" stroke-opacity="0.09" stroke-width="1.9"/>
<polyline points="591.3,569.5 597.9,569.8 604.6,569.7 611.3,570.0 618.0,569.6 624.7,568.4 631.4,568.3 638.0,568.6 644.7,567.2" fill="none" stroke="#fff4d8" stroke-opacity="0.18" stroke-width="2.0"/>
<polyline points="327.3,876.8 337.8,878.7 348.3,880.7 358.9,880.5 369.4,878.3 379.9,877.0 390.4,876.3 400.9,877.0 411.4,879.0" fill="none" stroke="#b09058" stroke-opacity="0.11" stroke-width="1.3"/>
<polyline points="401.2,568.0 408.4,567.8 415.6,569.0 422.8,570.4 430.0,571.1 437.3,570.2 444.5,568.5 451.7,568.7 458.9,568.0" fill="none" stroke="#fff4d8" stroke-opacity="0.17" stroke-width="1.5"/>
<polyline points="527.4,756.7 534.5,756.5 541.5,755.4 548.6,754.3 555.6,753.3 562.7,752.3 569.7,753.0 576.7,755.3 583.8,756.4" fill="none" stroke="#b09058" stroke-opacity="0.11" stroke-width="1.8"/>
<polyline points="224.3,567.1 230.4,567.7 236.5,568.1 242.5,568.0 248.6,567.9 254.6,567.2 260.7,567.7 266.7,567.2 272.8,566.5" fill="none" stroke="#fff4d8" stroke-opacity="0.17" stroke-width="1.6"/>
<polyline points="558.2,757.0 568.2,755.0 578.2,753.7 588.2,754.8 598.2,757.1 608.3,759.3 618.3,758.1 628.3,754.5 638.3,755.0" fill="none" stroke="#b09058" stroke-opacity="0.09" stroke-width="1.2"/>
<polyline points="349.9,783.1 354.0,782.1 358.0,781.0 362.1,780.4 366.2,779.9 370.3,779.6 374.4,780.3 378.5,781.4 382.6,781.9" fill="none" stroke="#b09058" stroke-opacity="0.11" stroke-width="1.2"/>
<polyline points="469.7,460.0 477.8,459.9 485.9,459.6 494.0,458.9 502.1,457.8 510.2,456.8 518.3,457.2 526.4,458.2 534.5,458.9" fill="none" stroke="#b09058" stroke-opacity="0.07" stroke-width="1.3"/>
<polyline points="366.6,585.4 372.7,586.1 378.7,586.1 384.8,586.0 390.9,585.3 397.0,583.9 403.0,584.0 409.1,583.1 415.2,581.5" fill="none" stroke="#b09058" stroke-opacity="0.10" stroke-width="2.2"/>
<polyline points="352.1,471.5 357.1,471.8 362.1,472.4 367.1,472.7 372.0,473.4 377.0,474.5 382.0,474.8 387.0,475.8 391.9,474.6" fill="none" stroke="#fff4d8" stroke-opacity="0.16" stroke-width="1.0"/>
<polyline points="236.4,490.1 242.5,489.2 248.6,488.9 254.8,488.7 260.9,489.8 267.0,490.8 273.1,491.4 279.2,492.3 285.4,490.5" fill="none" stroke="#b09058" stroke-opacity="0.09" stroke-width="1.4"/>
<polyline points="425.3,714.1 430.8,714.7 436.2,715.1 441.6,715.2 447.1,715.1 452.5,715.2 457.9,714.1 463.4,713.7 468.8,714.3" fill="none" stroke="#fff4d8" stroke-opacity="0.19" stroke-width="1.2"/>
<polyline points="465.9,736.3 472.7,736.3 479.4,735.7 486.2,735.2 492.9,733.7 499.7,733.2 506.4,734.1 513.2,733.9 519.9,734.5" fill="none" stroke="#fff4d8" stroke-opacity="0.21" stroke-width="1.2"/>
<polyline points="458.1,523.4 466.9,523.2 475.6,524.5 484.4,525.4 493.1,525.2 501.9,523.1 510.7,523.1 519.4,524.3 528.2,524.3" fill="none" stroke="#fff4d8" stroke-opacity="0.24" stroke-width="1.7"/>
<polyline points="512.0,715.6 519.7,715.0 527.5,714.2 535.3,714.0 543.0,714.7 550.8,715.1 558.6,715.6 566.3,715.1 574.1,716.6" fill="none" stroke="#fff4d8" stroke-opacity="0.29" stroke-width="2.2"/>
<polyline points="307.0,762.1 317.0,763.1 327.0,763.8 337.0,764.6 347.0,763.8 357.0,762.6 367.0,762.9 377.0,761.5 387.0,764.6" fill="none" stroke="#fff4d8" stroke-opacity="0.12" stroke-width="1.4"/>
<polyline points="228.9,479.3 237.1,479.5 245.2,478.9 253.4,478.1 261.6,478.1 269.8,477.8 278.0,479.4 286.2,478.9 294.4,480.3" fill="none" stroke="#b09058" stroke-opacity="0.12" stroke-width="1.3"/>
<polyline points="570.0,487.9 577.6,489.6 585.2,491.2 592.9,490.8 600.5,488.9 608.1,488.4 615.7,487.3 623.3,489.7 630.9,491.6" fill="none" stroke="#fff4d8" stroke-opacity="0.25" stroke-width="1.5"/>
<polyline points="286.9,546.3 297.8,545.2 308.7,545.4 319.5,546.9 330.4,547.4 341.3,546.9 352.2,545.8 363.0,545.8 373.9,545.7" fill="none" stroke="#fff4d8" stroke-opacity="0.21" stroke-width="1.2"/>
<polyline points="388.7,847.0 396.0,847.1 403.2,846.1 410.5,845.0 417.7,844.1 424.9,843.1 432.2,842.6 439.4,843.5 446.7,843.8" fill="none" stroke="#fff4d8" stroke-opacity="0.12" stroke-width="2.0"/>
<polyline points="532.3,557.9 539.9,557.4 547.5,558.9 555.1,560.7 562.7,561.2 570.3,560.3 578.0,557.9 585.6,557.8 593.2,559.6" fill="none" stroke="#fff4d8" stroke-opacity="0.14" stroke-width="1.5"/>
<polyline points="259.6,670.6 264.6,669.2 269.5,667.7 274.4,666.9 279.3,667.0 284.3,667.8 289.2,669.3 294.1,671.1 299.0,670.6" fill="none" stroke="#b09058" stroke-opacity="0.08" stroke-width="1.0"/>
<polyline points="428.0,778.9 435.5,779.4 443.0,780.5 450.5,781.3 458.0,780.9 465.5,780.3 473.0,778.6 480.4,779.2 487.9,779.6" fill="none" stroke="#fff4d8" stroke-opacity="0.22" stroke-width="1.9"/>
<polyline points="535.6,494.4 545.8,493.4 556.0,492.6 566.2,492.8 576.4,493.9 586.6,493.9 596.7,492.5 606.9,493.6 617.1,494.7" fill="none" stroke="#fff4d8" stroke-opacity="0.16" stroke-width="1.0"/>
<polyline points="243.3,591.5 252.0,593.5 260.8,593.3 269.6,591.8 278.4,589.5 287.2,589.7 296.0,591.2 304.8,594.8 313.6,593.0" fill="none" stroke="#fff4d8" stroke-opacity="0.20" stroke-width="1.9"/>
<polyline points="390.4,806.3 395.0,807.0 399.5,807.6 404.1,808.3 408.7,808.5 413.3,808.8 417.8,808.9 422.4,807.4 427.0,807.1" fill="none" stroke="#b09058" stroke-opacity="0.14" stroke-width="1.0"/>
<polyline points="452.8,720.8 462.8,721.2 472.8,719.5 482.7,718.4 492.7,718.6 502.7,720.3 512.7,720.0 522.6,720.4 532.6,718.3" fill="none" stroke="#b09058" stroke-opacity="0.09" stroke-width="1.2"/>
<polyline points="314.8,737.9 324.3,737.2 333.9,736.6 343.4,738.0 353.0,737.7 362.5,739.7 372.1,739.3 381.6,738.3 391.2,738.0" fill="none" stroke="#b09058" stroke-opacity="0.09" stroke-width="1.1"/>
<polyline points="320.0,675.4 331.0,673.5 342.0,673.8 353.0,675.9 364.0,676.0 375.0,675.3 385.9,672.8 396.9,673.0 407.9,674.3" fill="none" stroke="#fff4d8" stroke-opacity="0.28" stroke-width="1.2"/>
<polyline points="505.1,639.3 510.5,638.8 515.9,638.3 521.2,638.4 526.6,638.6 532.0,638.6 537.3,639.6 542.7,640.8 548.1,640.1" fill="none" stroke="#b09058" stroke-opacity="0.12" stroke-width="1.1"/>
<polyline points="243.7,847.6 249.2,848.7 254.8,849.1 260.4,849.0 266.0,848.3 271.5,847.0 277.1,845.8 282.7,845.1 288.3,845.4" fill="none" stroke="#fff4d8" stroke-opacity="0.27" stroke-width="1.5"/>
<polyline points="296.4,557.4 306.3,558.1 316.3,559.2 326.2,559.2 336.2,557.0 346.1,556.7 356.1,559.1 366.0,559.4 376.0,558.9" fill="none" stroke="#fff4d8" stroke-opacity="0.21" stroke-width="1.2"/>
<polyline points="312.7,639.2 320.5,638.9 328.4,638.0 336.3,636.9 344.2,636.2 352.1,636.8 360.0,637.4 367.8,638.8 375.7,638.7" fill="none" stroke="#fff4d8" stroke-opacity="0.28" stroke-width="1.3"/>
<polyline points="557.0,874.3 568.2,873.2 579.4,871.8 590.5,869.9 601.7,870.2 612.9,871.2 624.0,872.0 635.2,875.4 646.4,872.5" fill="none" stroke="#fff4d8" stroke-opacity="0.23" stroke-width="1.2"/>
<polyline points="485.4,650.1 489.3,650.6 493.2,650.7 497.1,650.6 501.1,650.7 505.0,649.8 508.9,649.2 512.8,648.4 516.7,648.1" fill="none" stroke="#b09058" stroke-opacity="0.11" stroke-width="1.5"/>
<polyline points="406.2,694.4 410.8,695.2 415.5,696.2 420.1,696.6 424.8,697.4 429.4,697.5 434.1,697.6 438.7,697.0 443.4,696.4" fill="none" stroke="#fff4d8" stroke-opacity="0.26" stroke-width="1.6"/>
<polyline points="347.4,582.5 357.0,583.9 366.6,585.8 376.2,586.3 385.8,585.8 395.5,583.6 405.1,582.0 414.7,582.7 424.3,582.1" fill="none" stroke="#b09058" stroke-opacity="0.09" stroke-width="2.0"/>
<polyline points="307.0,580.5 313.3,580.0 319.7,579.4 326.0,578.9 332.3,580.0 338.7,579.6 345.0,580.1 351.3,580.0 357.7,580.1" fill="none" stroke="#b09058" stroke-opacity="0.11" stroke-width="1.6"/>
<polyline points="314.7,555.8 325.7,557.0 336.7,556.9 347.7,557.1 358.7,556.3 369.7,555.2 380.7,554.6 391.7,556.0 402.8,554.9" fill="none" stroke="#b09058" stroke-opacity="0.08" stroke-width="1.5"/>
<polyline points="483.3,530.7 491.1,530.2 498.9,530.6 506.7,531.6 514.4,533.7 522.2,534.0 530.0,533.5 537.8,533.1 545.6,532.5" fill="none" stroke="#b09058" stroke-opacity="0.11" stroke-width="1.8"/>
<polyline points="511.2,851.5 517.9,852.0 524.6,853.2 531.4,853.9 538.1,854.8 544.9,854.8 551.6,852.6 558.4,851.4 565.1,851.5" fill="none" stroke="#fff4d8" stroke-opacity="0.29" stroke-width="2.2"/>
<polyline points="517.2,641.4 525.5,642.4 533.8,642.3 542.0,641.7 550.3,640.6 558.5,641.4 566.8,641.4 575.0,643.3 583.3,643.3" fill="none" stroke="#b09058" stroke-opacity="0.08" stroke-width="1.4"/>
<polyline points="358.0,662.8 366.4,661.8 374.8,660.6 383.1,659.3 391.5,659.2 399.9,659.8 408.3,661.6 416.6,663.5 425.0,663.5" fill="none" stroke="#b09058" stroke-opacity="0.13" stroke-width="1.7"/>
<polyline points="205.0,698.7 211.3,698.3 217.5,698.9 223.7,699.9 230.0,700.4 236.2,700.9 242.5,700.1 248.7,698.8 254.9,697.6" fill="none" stroke="#b09058" stroke-opacity="0.13" stroke-width="2.2"/>
<polyline points="218.3,778.1 228.6,777.5 238.8,775.8 249.1,774.8 259.4,774.0 269.6,774.4 279.9,776.7 290.1,777.7 300.4,777.5" fill="none" stroke="#b09058" stroke-opacity="0.13" stroke-width="1.7"/>
<polyline points="426.4,843.0 437.6,842.4 448.8,842.1 460.0,842.5 471.2,843.6 482.3,843.7 493.5,843.6 504.7,843.6 515.9,840.2" fill="none" stroke="#fff4d8" stroke-opacity="0.28" stroke-width="1.1"/>
<polyline points="212.4,792.0 220.7,791.4 229.1,789.5 237.5,788.1 245.9,787.6 254.3,789.3 262.7,791.9 271.1,792.6 279.5,792.6" fill="none" stroke="#fff4d8" stroke-opacity="0.21" stroke-width="1.5"/>
<polyline points="521.4,597.1 525.9,597.2 530.5,597.6 535.0,598.3 539.6,598.4 544.1,599.5 548.6,599.6 553.2,600.2 557.7,601.1" fill="none" stroke="#fff4d8" stroke-opacity="0.18" stroke-width="1.2"/>
<polyline points="321.4,508.8 330.3,509.2 339.1,509.3 347.9,508.4 356.7,506.5 365.5,506.7 374.4,506.4 383.2,505.7 392.0,506.2" fill="none" stroke="#b09058" stroke-opacity="0.13" stroke-width="1.1"/>
<polyline points="509.3,779.4 517.5,781.3 525.8,781.6 534.1,780.8 542.4,778.9 550.6,778.0 558.9,778.0 567.2,779.2 575.5,780.8" fill="none" stroke="#b09058" stroke-opacity="0.07" stroke-width="2.0"/>
<polyline points="296.9,833.7 305.7,834.2 314.5,833.7 323.3,832.7 332.1,831.9 340.9,830.5 349.7,831.1 358.4,830.4 367.2,831.4" fill="none" stroke="#fff4d8" stroke-opacity="0.28" stroke-width="1.2"/>
<polyline points="501.1,482.5 505.0,483.2 508.9,483.5 512.7,483.4 516.6,482.6 520.5,482.0 524.4,481.0 528.2,480.7 532.1,480.1" fill="none" stroke="#b09058" stroke-opacity="0.10" stroke-width="1.8"/>
<polyline points="354.0,503.4 359.5,503.6 365.0,504.5 370.5,505.3 376.0,505.8 381.6,505.8 387.1,506.1 392.6,505.4 398.1,503.8" fill="none" stroke="#b09058" stroke-opacity="0.13" stroke-width="1.3"/>
<polyline points="241.2,563.0 248.5,563.3 255.7,562.5 262.9,561.4 270.1,560.2 277.3,558.9 284.5,558.9 291.7,561.1 298.9,562.9" fill="none" stroke="#b09058" stroke-opacity="0.11" stroke-width="1.4"/>
<polyline points="315.1,670.6 321.9,671.3 328.6,672.4 335.4,672.4 342.1,673.5 348.9,673.1 355.6,673.1 362.3,671.6 369.1,672.1" fill="none" stroke="#fff4d8" stroke-opacity="0.27" stroke-width="2.0"/>
<polyline points="531.5,611.3 536.3,610.4 541.2,609.5 546.1,608.7 550.9,609.3 555.8,609.1 560.6,610.1 565.5,611.2 570.4,612.4" fill="none" stroke="#b09058" stroke-opacity="0.14" stroke-width="1.8"/>
<polyline points="243.0,606.4 246.7,605.9 250.3,605.5 254.0,605.5 257.7,605.5 261.4,606.4 265.1,606.6 268.8,607.2 272.4,607.7" fill="none" stroke="#fff4d8" stroke-opacity="0.18" stroke-width="1.6"/>
<polyline points="591.7,642.3 599.4,643.1 607.1,643.0 614.8,641.4 622.5,641.2 630.2,640.9 637.9,642.1 645.6,643.0 653.3,641.8" fill="none" stroke="#fff4d8" stroke-opacity="0.24" stroke-width="1.8"/>
<polyline points="567.6,614.1 577.4,614.7 587.2,614.2 597.0,613.5 606.8,611.8 616.6,612.7 626.3,613.3 636.1,613.6 645.9,614.7" fill="none" stroke="#fff4d8" stroke-opacity="0.15" stroke-width="1.2"/>
<polyline points="381.3,799.4 390.3,800.1 399.2,801.3 408.1,801.7 417.1,802.7 426.0,801.5 435.0,800.2 443.9,799.8 452.8,798.4" fill="none" stroke="#fff4d8" stroke-opacity="0.16" stroke-width="2.0"/>
<polyline points="377.9,453.5 388.0,454.4 398.2,456.5 408.4,457.9 418.6,455.9 428.8,454.4 438.9,453.8 449.1,456.6 459.3,459.1" fill="none" stroke="#fff4d8" stroke-opacity="0.30" stroke-width="1.0"/>
<polyline points="211.9,825.8 219.5,826.5 227.0,827.6 234.6,828.8 242.1,828.6 249.7,827.0 257.2,827.0 264.8,825.2 272.4,826.0" fill="none" stroke="#fff4d8" stroke-opacity="0.17" stroke-width="1.8"/>
<polyline points="454.6,776.8 461.3,776.7 468.0,777.9 474.8,779.2 481.5,780.3 488.2,780.1 494.9,778.3 501.7,777.1 508.4,777.1" fill="none" stroke="#b09058" stroke-opacity="0.07" stroke-width="1.9"/>
<polyline points="500.5,501.2 504.8,501.2 509.1,501.0 513.5,500.4 517.8,500.3 522.1,499.9 526.4,499.5 530.8,499.0 535.1,499.9" fill="none" stroke="#b09058" stroke-opacity="0.06" stroke-width="1.4"/>
<polyline points="279.4,588.4 286.0,589.3 292.6,590.4 299.2,590.2 305.9,589.6 312.5,588.5 319.1,587.7 325.7,586.1 332.4,585.3" fill="none" stroke="#fff4d8" stroke-opacity="0.22" stroke-width="1.5"/>
<polyline points="410.4,582.9 419.8,581.8 429.2,580.4 438.6,579.2 448.0,578.6 457.4,580.6 466.9,581.4 476.3,581.4 485.7,584.4" fill="none" stroke="#b09058" stroke-opacity="0.06" stroke-width="1.8"/>
<polyline points="414.2,552.4 424.1,551.4 434.0,551.0 444.0,552.2 453.9,552.3 463.8,554.1 473.7,552.6 483.6,552.3 493.5,550.6" fill="none" stroke="#fff4d8" stroke-opacity="0.22" stroke-width="1.2"/>
<polyline points="238.5,793.4 246.7,793.9 254.9,792.8 263.1,790.2 271.3,789.4 279.5,791.5 287.6,792.7 295.8,795.1 304.0,794.0" fill="none" stroke="#fff4d8" stroke-opacity="0.22" stroke-width="2.1"/>
<polyline points="539.5,499.2 548.9,498.4 558.3,500.9 567.8,502.8 577.2,501.0 586.6,499.2 596.0,498.6 605.4,501.9 614.8,501.1" fill="none" stroke="#b09058" stroke-opacity="0.09" stroke-width="2.0"/>
<polyline points="524.9,653.1 530.5,654.0 536.1,654.5 541.7,654.4 547.2,654.5 552.8,653.7 558.4,652.9 563.9,650.9 569.5,651.5" fill="none" stroke="#b09058" stroke-opacity="0.11" stroke-width="1.0"/>
<polyline points="375.4,849.4 383.4,847.6 391.3,845.1 399.3,845.2 407.3,848.5 415.2,849.8 423.2,847.7 431.1,845.0 439.1,846.2" fill="none" stroke="#b09058" stroke-opacity="0.11" stroke-width="1.2"/>
<polyline points="578.6,628.3 581.8,628.6 584.9,628.9 588.1,629.1 591.2,628.9 594.4,629.4 597.5,629.2 600.7,629.1 603.8,628.7" fill="none" stroke="#b09058" stroke-opacity="0.12" stroke-width="1.2"/>
<polyline points="368.0,827.0 373.3,826.6 378.6,826.0 383.8,825.7 389.1,825.9 394.4,825.4 399.7,825.4 405.0,826.3 410.3,826.7" fill="none" stroke="#fff4d8" stroke-opacity="0.20" stroke-width="1.0"/>
<polyline points="393.7,844.0 404.0,844.5 414.3,845.6 424.5,847.4 434.8,848.1 445.1,847.8 455.3,844.9 465.6,843.9 475.9,845.1" fill="none" stroke="#b09058" stroke-opacity="0.14" stroke-width="1.1"/>
<polyline points="242.7,538.7 251.7,538.3 260.7,539.2 269.7,540.4 278.7,541.8 287.7,542.6 296.7,542.2 305.7,541.7 314.7,539.8" fill="none" stroke="#fff4d8" stroke-opacity="0.20" stroke-width="1.5"/>
<polyline points="424.4,636.5 430.5,635.5 436.5,634.6 442.6,634.6 448.6,634.5 454.7,635.3 460.8,636.4 466.8,636.8 472.9,636.8" fill="none" stroke="#fff4d8" stroke-opacity="0.28" stroke-width="2.1"/>
<polyline points="386.1,572.4 391.8,572.7 397.6,573.2 403.4,573.7 409.1,573.7 414.9,573.7 420.6,573.4 426.4,574.0 432.1,573.9" fill="none" stroke="#b09058" stroke-opacity="0.07" stroke-width="1.7"/>
<polyline points="486.1,874.0 492.9,874.6 499.8,874.8 506.6,874.5 513.5,874.6 520.4,874.2 527.2,873.2 534.1,871.9 540.9,872.8" fill="none" stroke="#fff4d8" stroke-opacity="0.16" stroke-width="2.1"/>
<polyline points="248.7,763.4 253.7,762.9 258.7,762.5 263.7,763.0 268.6,763.3 273.6,764.6 278.6,765.4 283.6,765.1 288.6,765.5" fill="none" stroke="#fff4d8" stroke-opacity="0.19" stroke-width="1.7"/>
<polyline points="337.0,724.0 340.4,723.7 343.8,723.6 347.2,723.4 350.6,723.4 354.0,723.9 357.4,724.1 360.8,725.0 364.2,724.7" fill="none" stroke="#fff4d8" stroke-opacity="0.20" stroke-width="2.1"/>
<polyline points="276.9,522.1 281.1,521.8 285.3,521.3 289.5,520.8 293.7,520.6 297.9,520.4 302.1,519.9 306.3,520.6 310.5,520.1" fill="none" stroke="#b09058" stroke-opacity="0.10" stroke-width="1.8"/>
<polyline points="308.6,615.8 312.8,615.1 317.1,614.3 321.3,613.4 325.5,612.7 329.7,612.3 334.0,611.8 338.2,611.1 342.4,612.1" fill="none" stroke="#fff4d8" stroke-opacity="0.13" stroke-width="1.3"/>
<polyline points="529.1,542.4 536.7,541.8 544.3,540.9 551.9,540.1 559.5,540.0 567.1,541.1 574.7,542.0 582.3,541.5 589.9,540.9" fill="none" stroke="#fff4d8" stroke-opacity="0.17" stroke-width="1.6"/>
<polyline points="434.3,803.3 440.9,803.9 447.5,804.7 454.1,804.5 460.8,804.9 467.4,803.6 474.0,803.8 480.6,802.7 487.2,803.3" fill="none" stroke="#fff4d8" stroke-opacity="0.14" stroke-width="1.2"/>
<polyline points="591.4,798.4 599.8,797.4 608.1,795.1 616.5,794.6 624.8,795.1 633.2,796.7 641.5,798.2 649.9,798.9 658.2,795.4" fill="none" stroke="#fff4d8" stroke-opacity="0.23" stroke-width="1.8"/>
<polyline points="271.8,670.5 282.1,670.3 292.3,669.2 302.5,668.9 312.8,670.0 323.0,670.3 333.2,669.2 343.4,670.2 353.7,667.0" fill="none" stroke="#fff4d8" stroke-opacity="0.15" stroke-width="1.7"/>
<polyline points="251.5,784.1 257.0,784.2 262.6,785.2 268.1,786.7 273.6,788.4 279.1,788.2 284.6,786.9 290.1,785.2 295.7,784.2" fill="none" stroke="#fff4d8" stroke-opacity="0.19" stroke-width="1.7"/>
<polyline points="361.5,688.2 371.1,687.9 380.8,687.3 390.4,686.6 400.0,686.9 409.6,686.9 419.3,686.5 428.9,687.3 438.5,687.1" fill="none" stroke="#b09058" stroke-opacity="0.09" stroke-width="1.5"/>
<polyline points="240.4,679.4 249.2,680.1 258.1,681.7 266.9,683.0 275.8,683.4 284.7,683.1 293.5,681.6 302.4,681.8 311.2,679.7" fill="none" stroke="#b09058" stroke-opacity="0.09" stroke-width="1.4"/>
<polyline points="498.2,669.4 508.5,669.7 518.8,671.0 529.1,671.9 539.4,671.3 549.7,671.1 560.0,670.1 570.3,669.2 580.6,669.9" fill="none" stroke="#fff4d8" stroke-opacity="0.29" stroke-width="1.0"/>
<polyline points="411.6,799.2 419.2,798.2 426.8,796.8 434.4,796.2 442.1,797.2 449.7,798.2 457.3,799.7 465.0,800.3 472.6,800.9" fill="none" stroke="#fff4d8" stroke-opacity="0.12" stroke-width="1.3"/>
<polyline points="261.1,786.7 268.5,787.1 275.9,786.3 283.4,785.0 290.8,783.4 298.3,783.6 305.7,783.6 313.2,784.5 320.6,785.1" fill="none" stroke="#b09058" stroke-opacity="0.10" stroke-width="2.0"/>
<polyline points="552.6,605.9 561.3,605.2 570.0,604.6 578.7,605.8 587.4,606.7 596.1,607.4 604.8,608.7 613.4,607.0 622.1,606.7" fill="none" stroke="#b09058" stroke-opacity="0.13" stroke-width="1.4"/>
<polyline points="459.4,877.9 462.9,878.2 466.4,878.4 469.9,878.3 473.4,878.7 476.9,878.6 480.4,878.2 483.9,877.8 487.4,877.4" fill="none" stroke="#b09058" stroke-opacity="0.09" stroke-width="2.2"/>
<polyline points="490.7,861.8 500.5,862.0 510.4,861.7 520.2,860.8 530.0,861.0 539.9,860.5 549.7,861.2 559.5,860.7 569.4,860.4" fill="none" stroke="#fff4d8" stroke-opacity="0.22" stroke-width="1.4"/>
<polyline points="424.4,738.4 432.4,738.6 440.4,739.3 448.4,740.0 456.3,740.3 464.3,741.0 472.3,740.9 480.3,739.1 488.3,739.9" fill="none" stroke="#b09058" stroke-opacity="0.13" stroke-width="2.0"/>
<polyline points="270.3,659.8 275.6,661.2 281.0,661.9 286.3,661.8 291.6,660.3 296.9,659.5 302.3,657.9 307.6,658.7 312.9,658.7" fill="none" stroke="#fff4d8" stroke-opacity="0.15" stroke-width="2.2"/>
<polyline points="530.2,701.8 533.9,701.7 537.5,701.8 541.2,702.3 544.8,702.4 548.4,703.1 552.1,703.0 555.7,703.2 559.3,704.6" fill="none" stroke="#fff4d8" stroke-opacity="0.22" stroke-width="1.4"/>
<polyline points="573.5,700.6 584.3,699.8 595.2,698.4 606.0,696.1 616.8,695.9 627.6,697.5 638.4,698.5 649.3,701.1 660.1,700.9" fill="none" stroke="#fff4d8" stroke-opacity="0.29" stroke-width="1.1"/>
<polyline points="339.4,749.5 343.6,749.9 347.9,750.2 352.2,750.5 356.5,750.4 360.8,750.2 365.1,750.4 369.4,750.8 373.7,750.2" fill="none" stroke="#b09058" stroke-opacity="0.13" stroke-width="1.5"/>
<polyline points="539.5,690.7 544.2,691.5 549.0,692.4 553.7,692.6 558.5,692.2 563.2,691.8 568.0,691.1 572.7,689.9 577.4,688.3" fill="none" stroke="#fff4d8" stroke-opacity="0.25" stroke-width="1.2"/>
<polyline points="523.0,561.9 533.1,560.9 543.3,557.7 553.4,558.3 563.5,561.8 573.6,560.3 583.8,558.0 593.9,560.3 604.0,561.0" fill="none" stroke="#fff4d8" stroke-opacity="0.25" stroke-width="1.1"/>
<polyline points="375.7,547.1 386.8,545.9 398.0,544.9 409.1,544.5 420.2,546.5 431.4,546.4 442.5,545.8 453.6,545.9 464.8,544.4" fill="none" stroke="#b09058" stroke-opacity="0.07" stroke-width="1.9"/>
<polyline points="348.1,736.2 352.3,736.4 356.5,736.9 360.6,737.5 364.8,738.0 369.0,738.9 373.2,739.6 377.3,740.3 381.5,740.5" fill="none" stroke="#b09058" stroke-opacity="0.09" stroke-width="1.3"/>
<polyline points="495.4,721.1 500.5,722.1 505.7,722.9 510.8,723.3 515.9,722.5 521.1,721.8 526.2,721.5 531.3,719.3 536.5,719.0" fill="none" stroke="#fff4d8" stroke-opacity="0.25" stroke-width="1.8"/>
<polyline points="467.9,850.0 471.0,850.3 474.1,850.6 477.3,850.6 480.4,850.9 483.5,850.7 486.7,850.9 489.8,850.3 493.0,850.3" fill="none" stroke="#b09058" stroke-opacity="0.08" stroke-width="1.9"/>
<polyline points="299.8,451.7 305.6,450.0 311.3,449.6 317.0,450.2 322.8,452.7 328.5,453.7 334.2,453.8 339.9,452.2 345.7,450.3" fill="none" stroke="#b09058" stroke-opacity="0.13" stroke-width="2.1"/>
<polyline points="480.1,765.6 484.3,765.8 488.6,766.0 492.9,766.6 497.2,766.7 501.4,766.5 505.7,767.0 510.0,767.0 514.3,766.6" fill="none" stroke="#b09058" stroke-opacity="0.13" stroke-width="2.0"/>
<polyline points="367.0,449.9 371.0,450.2 375.1,450.6 379.1,451.1 383.1,452.2 387.2,452.9 391.2,453.2 395.2,453.3 399.3,454.3" fill="none" stroke="#fff4d8" stroke-opacity="0.18" stroke-width="1.0"/>
<polyline points="366.0,871.6 375.4,870.8 384.8,870.9 394.2,870.8 403.6,873.0 413.0,873.5 422.3,874.3 431.7,874.2 441.1,875.1" fill="none" stroke="#fff4d8" stroke-opacity="0.20" stroke-width="1.2"/>
<polyline points="398.5,877.2 407.3,878.2 416.1,879.8 424.9,881.0 433.8,879.7 442.6,879.1 451.4,877.8 460.2,877.7 469.1,878.7" fill="none" stroke="#b09058" stroke-opacity="0.07" stroke-width="1.1"/>
<polyline points="249.3,581.9 252.8,581.9 256.4,582.2 259.9,582.5 263.4,582.9 266.9,583.7 270.5,584.2 274.0,584.6 277.5,584.9" fill="none" stroke="#b09058" stroke-opacity="0.11" stroke-width="2.1"/>
<polyline points="305.7,524.8 312.9,524.6 320.2,523.9 327.5,523.5 334.7,523.2 342.0,523.7 349.3,523.5 356.5,523.3 363.8,525.9" fill="none" stroke="#b09058" stroke-opacity="0.07" stroke-width="1.1"/>
<polyline points="463.2,545.6 467.4,545.1 471.6,544.7 475.8,544.5 480.0,545.0 484.2,545.4 488.4,546.0 492.5,546.3 496.7,546.1" fill="none" stroke="#fff4d8" stroke-opacity="0.12" stroke-width="2.0"/>
<polyline points="397.2,766.7 400.3,767.1 403.5,767.5 406.6,767.7 409.8,768.2 412.9,768.5 416.0,768.3 419.2,768.5 422.3,768.7" fill="none" stroke="#b09058" stroke-opacity="0.11" stroke-width="1.7"/>
<polyline points="227.5,610.8 230.8,611.3 234.0,611.6 237.3,612.2 240.6,612.6 243.8,613.5 247.1,614.0 250.3,614.5 253.6,614.3" fill="none" stroke="#b09058" stroke-opacity="0.08" stroke-width="1.7"/>
<polyline points="293.5,738.6 299.7,739.0 305.9,739.9 312.1,740.5 318.4,740.5 324.6,740.4 330.8,739.6 337.1,738.2 343.3,738.7" fill="none" stroke="#fff4d8" stroke-opacity="0.16" stroke-width="1.2"/>
<polyline points="340.1,484.1 350.4,485.0 360.8,482.8 371.1,480.8 381.4,482.1 391.7,484.4 402.1,483.9 412.4,483.8 422.7,480.4" fill="none" stroke="#b09058" stroke-opacity="0.10" stroke-width="1.4"/>
<polyline points="358.2,855.5 364.8,856.0 371.4,856.9 377.9,857.7 384.5,858.7 391.1,859.2 397.6,859.0 404.2,857.8 410.7,857.8" fill="none" stroke="#fff4d8" stroke-opacity="0.16" stroke-width="1.9"/>
<polyline points="483.9,543.6 491.0,543.8 498.1,544.3 505.2,544.8 512.3,546.0 519.4,546.4 526.5,547.4 533.6,546.2 540.7,545.2" fill="none" stroke="#fff4d8" stroke-opacity="0.20" stroke-width="1.6"/>
<polyline points="242.1,583.4 249.2,583.5 256.2,583.1 263.3,582.4 270.3,581.5 277.4,581.0 284.4,581.9 291.5,583.3 298.6,582.5" fill="none" stroke="#fff4d8" stroke-opacity="0.18" stroke-width="1.9"/>
<polyline points="518.4,663.1 521.5,663.1 524.7,663.1 527.9,662.8 531.0,662.6 534.2,662.5 537.4,662.0 540.5,661.6 543.7,661.6" fill="none" stroke="#fff4d8" stroke-opacity="0.13" stroke-width="2.1"/>
<polyline points="432.8,681.2 436.5,680.8 440.2,680.1 443.8,679.3 447.5,679.0 451.2,678.1 454.8,677.7 458.5,677.7 462.2,678.3" fill="none" stroke="#fff4d8" stroke-opacity="0.16" stroke-width="2.0"/>
<polyline points="365.7,480.4 375.2,482.3 384.7,484.5 394.2,483.3 403.7,481.5 413.2,480.5 422.7,482.2 432.1,483.4 441.6,483.0" fill="none" stroke="#fff4d8" stroke-opacity="0.15" stroke-width="2.0"/>
<polyline points="545.3,697.1 549.6,696.2 554.0,695.5 558.3,695.1 562.7,695.5 567.0,696.5 571.4,697.6 575.7,698.1 580.1,697.7" fill="none" stroke="#b09058" stroke-opacity="0.07" stroke-width="1.3"/>
<polyline points="404.9,509.2 412.7,507.7 420.6,507.3 428.4,508.9 436.3,510.7 444.2,511.1 452.0,510.1 459.9,506.8 467.7,507.2" fill="none" stroke="#fff4d8" stroke-opacity="0.17" stroke-width="1.9"/>
<polyline points="255.4,837.6 262.7,839.2 269.9,840.8 277.1,841.8 284.4,840.8 291.6,839.3 298.9,838.8 306.1,835.8 313.3,837.1" fill="none" stroke="#fff4d8" stroke-opacity="0.26" stroke-width="1.5"/>
<polyline points="289.3,848.3 299.6,849.1 309.8,848.2 320.1,846.6 330.4,848.1 340.6,848.1 350.9,848.4 361.1,847.0 371.4,845.9" fill="none" stroke="#b09058" stroke-opacity="0.10" stroke-width="1.4"/>
<polyline points="476.5,807.4 480.6,807.9 484.7,808.2 488.9,808.2 493.0,807.6 497.1,807.7 501.2,807.2 505.3,806.5 509.4,806.9" fill="none" stroke="#b09058" stroke-opacity="0.07" stroke-width="1.3"/>
<polyline points="444.2,505.9 452.4,507.9 460.6,506.8 468.8,504.6 477.0,503.2 485.2,506.5 493.4,508.8 501.6,506.9 509.8,504.4" fill="none" stroke="#fff4d8" stroke-opacity="0.23" stroke-width="1.7"/>
<polyline points="406.9,780.6 410.9,780.3 415.0,780.6 419.0,781.0 423.1,781.6 427.1,782.7 431.2,782.7 435.2,782.4 439.3,782.4" fill="none" stroke="#b09058" stroke-opacity="0.09" stroke-width="1.5"/>
<polyline points="594.9,697.7 603.2,697.3 611.5,697.2 619.8,698.5 628.1,699.0 636.4,699.4 644.8,699.1 653.1,697.4 661.4,697.5" fill="none" stroke="#fff4d8" stroke-opacity="0.17" stroke-width="1.6"/>
<polyline points="289.3,680.3 298.7,678.8 308.0,677.7 317.4,677.6 326.7,679.0 336.0,680.9 345.4,678.7 354.7,679.0 364.1,677.9" fill="none" stroke="#fff4d8" stroke-opacity="0.20" stroke-width="1.8"/>
<polyline points="346.0,517.9 355.5,516.9 365.0,518.6 374.6,521.0 384.1,519.9 393.6,518.2 403.1,517.4 412.6,520.7 422.1,520.7" fill="none" stroke="#b09058" stroke-opacity="0.08" stroke-width="1.6"/>
<polyline points="395.1,854.2 398.2,854.2 401.4,854.3 404.5,854.2 407.7,853.6 410.8,853.2 413.9,853.3 417.1,852.9 420.2,852.5" fill="none" stroke="#b09058" stroke-opacity="0.06" stroke-width="1.5"/>
<polyline points="440.8,808.7 444.2,809.0 447.7,809.4 451.2,809.8 454.7,810.0 458.2,810.3 461.7,809.9 465.1,810.2 468.6,810.5" fill="none" stroke="#fff4d8" stroke-opacity="0.15" stroke-width="2.0"/>
<polyline points="203.0,752.5 206.6,753.0 210.3,753.6 213.9,753.9 217.6,754.3 221.2,754.4 224.8,754.7 228.5,754.1 232.1,754.5" fill="none" stroke="#b09058" stroke-opacity="0.13" stroke-width="1.9"/>
<polyline points="547.6,482.6 555.1,480.3 562.6,480.7 570.2,482.6 577.7,485.1 585.2,484.4 592.8,481.9 600.3,480.6 607.8,481.1" fill="none" stroke="#fff4d8" stroke-opacity="0.17" stroke-width="1.5"/>
<polyline points="291.4,756.0 295.8,755.8 300.2,756.0 304.6,757.1 309.0,757.8 313.4,758.4 317.8,758.9 322.2,759.0 326.6,758.0" fill="none" stroke="#fff4d8" stroke-opacity="0.25" stroke-width="1.7"/>
<polyline points="465.9,656.4 473.3,656.6 480.6,657.5 488.0,658.4 495.4,658.6 502.7,657.5 510.1,656.3 517.4,656.5 524.8,656.0" fill="none" stroke="#fff4d8" stroke-opacity="0.13" stroke-width="2.2"/>
<polyline points="461.5,842.6 465.9,842.3 470.3,841.9 474.7,841.0 479.2,840.6 483.6,839.6 488.0,839.2 492.4,838.9 496.8,837.8" fill="none" stroke="#fff4d8" stroke-opacity="0.19" stroke-width="1.1"/>
<polyline points="474.2,825.3 481.4,827.0 488.5,828.2 495.6,827.8 502.7,825.9 509.8,824.5 516.9,825.5 524.0,826.4 531.1,829.1" fill="none" stroke="#b09058" stroke-opacity="0.14" stroke-width="1.3"/>
<polyline points="241.7,671.2 247.8,670.8 253.8,670.4 259.9,670.6 265.9,669.9 272.0,670.9 278.0,671.3 284.0,670.4 290.1,672.4" fill="none" stroke="#b09058" stroke-opacity="0.09" stroke-width="1.5"/>
<polyline points="410.8,713.7 420.9,710.6 431.1,709.7 441.3,712.3 451.5,713.0 461.6,711.3 471.8,709.3 482.0,712.8 492.2,715.2" fill="none" stroke="#fff4d8" stroke-opacity="0.23" stroke-width="1.1"/>
<polyline points="495.5,690.9 499.9,691.7 504.3,692.3 508.7,692.9 513.1,693.4 517.5,693.7 521.9,693.5 526.3,693.2 530.7,692.1" fill="none" stroke="#fff4d8" stroke-opacity="0.18" stroke-width="2.0"/>
<polyline points="316.3,786.4 327.5,787.1 338.7,786.1 349.9,785.1 361.1,786.0 372.3,786.4 383.5,787.3 394.7,786.1 405.9,785.2" fill="none" stroke="#b09058" stroke-opacity="0.08" stroke-width="1.6"/>
<polyline points="256.4,654.2 260.8,654.6 265.1,655.0 269.4,656.1 273.7,656.3 278.0,657.2 282.3,657.0 286.6,657.1 291.0,657.0" fill="none" stroke="#b09058" stroke-opacity="0.09" stroke-width="1.5"/>
<polyline points="408.3,625.3 413.7,625.3 419.1,624.3 424.5,622.2 429.9,621.2 435.3,620.5 440.7,622.0 446.1,622.7 451.5,624.5" fill="none" stroke="#fff4d8" stroke-opacity="0.22" stroke-width="1.3"/>
<polyline points="364.6,738.3 373.5,737.3 382.4,736.6 391.3,736.5 400.2,737.2 409.0,738.1 417.9,738.6 426.8,738.1 435.7,738.4" fill="none" stroke="#fff4d8" stroke-opacity="0.28" stroke-width="1.3"/>
<polyline points="273.2,554.7 277.5,554.0 281.8,553.7 286.1,554.0 290.4,554.7 294.7,555.5 299.0,556.1 303.3,557.1 307.6,558.2" fill="none" stroke="#fff4d8" stroke-opacity="0.24" stroke-width="1.1"/>
<polyline points="545.7,782.7 551.8,781.7 558.0,781.5 564.2,781.7 570.3,783.1 576.5,784.2 582.6,784.8 588.8,784.8 594.9,783.9" fill="none" stroke="#fff4d8" stroke-opacity="0.14" stroke-width="2.2"/>
<polyline points="446.3,826.4 454.5,824.8 462.6,823.9 470.8,825.5 479.0,826.8 487.1,827.8 495.3,825.7 503.4,824.8 511.6,823.7" fill="none" stroke="#b09058" stroke-opacity="0.08" stroke-width="1.8"/>
<polyline points="330.3,688.4 334.0,687.9 337.8,687.5 341.6,687.4 345.4,686.9 349.1,687.1 352.9,686.6 356.7,686.8 360.5,687.9" fill="none" stroke="#fff4d8" stroke-opacity="0.14" stroke-width="1.6"/>
<polyline points="356.5,854.4 364.1,853.0 371.8,853.2 379.4,854.7 387.1,855.5 394.7,855.9 402.4,854.2 410.0,852.7 417.7,854.3" fill="none" stroke="#b09058" stroke-opacity="0.08" stroke-width="1.0"/>
<polyline points="265.1,766.3 272.8,767.0 280.5,767.2 288.2,766.3 295.9,765.5 303.7,764.7 311.4,767.0 319.1,766.8 326.8,767.9" fill="none" stroke="#fff4d8" stroke-opacity="0.27" stroke-width="1.6"/>
<polyline points="362.4,545.0 366.2,545.0 369.9,544.9 373.6,544.6 377.4,544.4 381.1,543.4 384.8,543.2 388.6,542.4 392.3,542.5" fill="none" stroke="#b09058" stroke-opacity="0.12" stroke-width="1.7"/>
<polyline points="563.2,564.5 574.2,563.0 585.1,561.2 596.1,560.0 607.1,560.6 618.1,563.3 629.1,564.8 640.1,564.9 651.1,564.9" fill="none" stroke="#fff4d8" stroke-opacity="0.12" stroke-width="1.6"/>
<polyline points="536.9,494.1 540.7,494.0 544.6,493.3 548.4,492.3 552.2,491.1 556.1,490.5 559.9,489.6 563.8,489.7 567.6,490.3" fill="none" stroke="#fff4d8" stroke-opacity="0.24" stroke-width="1.1"/>
<polyline points="571.4,749.1 580.8,747.1 590.1,746.3 599.4,747.8 608.7,748.8 618.0,749.3 627.3,747.4 636.6,746.0 645.9,748.9" fill="none" stroke="#fff4d8" stroke-opacity="0.18" stroke-width="1.6"/>
<polyline points="379.5,763.9 385.1,762.7 390.7,761.6 396.3,760.4 401.8,760.4 407.4,760.6 413.0,761.0 418.6,763.7 424.2,763.7" fill="none" stroke="#b09058" stroke-opacity="0.14" stroke-width="1.2"/>
<polyline points="282.2,477.3 286.5,475.9 290.9,475.2 295.3,475.4 299.6,476.8 304.0,477.9 308.4,478.9 312.7,479.9 317.1,478.8" fill="none" stroke="#b09058" stroke-opacity="0.11" stroke-width="1.1"/>
<polyline points="323.8,684.9 333.0,686.2 342.1,687.6 351.3,688.0 360.5,686.0 369.7,685.0 378.8,683.7 388.0,684.1 397.2,686.4" fill="none" stroke="#b09058" stroke-opacity="0.12" stroke-width="1.9"/>
<polyline points="447.5,569.1 453.7,568.4 459.8,567.7 466.0,567.7 472.2,568.5 478.4,569.5 484.5,569.6 490.7,571.3 496.9,570.0" fill="none" stroke="#b09058" stroke-opacity="0.08" stroke-width="1.0"/>
<polyline points="264.6,778.2 273.8,778.4 283.0,777.8 292.3,777.4 301.5,776.8 310.7,778.1 320.0,778.8 329.2,777.6 338.5,779.4" fill="none" stroke="#b09058" stroke-opacity="0.11" stroke-width="1.6"/>
<polyline points="328.4,522.3 333.3,522.0 338.2,522.1 343.1,522.0 348.0,523.1 353.0,523.4 357.9,524.1 362.8,523.8 367.7,524.4" fill="none" stroke="#fff4d8" stroke-opacity="0.25" stroke-width="1.7"/>
<polyline points="320.3,509.7 329.5,509.4 338.7,509.8 348.0,510.5 357.2,511.4 366.4,510.2 375.7,510.5 384.9,509.2 394.2,509.7" fill="none" stroke="#fff4d8" stroke-opacity="0.16" stroke-width="1.3"/>
<polyline points="345.4,836.8 355.7,835.9 366.0,834.0 376.3,832.3 386.5,833.4 396.8,835.1 407.1,837.0 417.4,836.0 427.6,836.3" fill="none" stroke="#b09058" stroke-opacity="0.07" stroke-width="2.0"/>
<polyline points="321.7,828.8 330.6,831.4 339.6,832.8 348.5,830.6 357.4,828.2 366.3,829.8 375.2,832.4 384.1,833.7 393.0,831.4" fill="none" stroke="#b09058" stroke-opacity="0.12" stroke-width="1.8"/>
<polyline points="399.5,623.3 406.8,623.1 414.0,622.7 421.3,621.9 428.5,621.4 435.8,621.2 443.0,620.1 450.3,621.2 457.5,622.9" fill="none" stroke="#fff4d8" stroke-opacity="0.20" stroke-width="1.1"/>
<polyline points="529.6,557.6 533.0,557.9 536.4,558.1 539.8,558.6 543.2,559.4 546.6,559.7 550.0,560.4 553.4,560.3 556.8,560.6" fill="none" stroke="#fff4d8" stroke-opacity="0.14" stroke-width="2.0"/>
<polyline points="583.0,556.3 591.7,556.4 600.3,557.7 608.9,558.7 617.6,558.5 626.2,557.8 634.9,556.2 643.5,555.4 652.1,556.5" fill="none" stroke="#b09058" stroke-opacity="0.11" stroke-width="1.2"/>
<polyline points="390.0,553.8 393.3,553.4 396.5,553.1 399.7,552.9 403.0,552.6 406.2,552.7 409.5,553.3 412.7,553.3 416.0,553.4" fill="none" stroke="#b09058" stroke-opacity="0.08" stroke-width="2.1"/>
<polyline points="368.6,582.0 374.3,582.9 380.0,583.8 385.7,584.5 391.4,585.4 397.1,584.7 402.7,585.0 408.4,584.7 414.1,583.9" fill="none" stroke="#b09058" stroke-opacity="0.07" stroke-width="1.6"/>
<polyline points="443.2,565.2 449.5,564.4 455.9,563.9 462.2,563.9 468.6,564.3 474.9,566.0 481.3,567.0 487.6,566.3 494.0,566.9" fill="none" stroke="#b09058" stroke-opacity="0.13" stroke-width="2.2"/>
<polyline points="321.5,876.8 325.1,876.1 328.8,875.7 332.5,875.4 336.1,875.6 339.8,876.3 343.5,876.7 347.1,877.3 350.8,877.5" fill="none" stroke="#b09058" stroke-opacity="0.13" stroke-width="1.1"/>
<polyline points="537.4,794.7 545.8,796.1 554.2,797.0 562.7,797.1 571.1,795.6 579.5,793.8 587.9,794.8 596.3,797.3 604.7,796.0" fill="none" stroke="#b09058" stroke-opacity="0.11" stroke-width="1.3"/>
<polyline points="284.8,653.2 295.0,653.5 305.2,654.9 315.4,656.2 325.6,656.9 335.8,655.9 346.0,655.0 356.2,653.3 366.4,652.6" fill="none" stroke="#b09058" stroke-opacity="0.08" stroke-width="1.0"/>
<polyline points="548.2,673.9 557.2,673.1 566.1,672.8 575.1,673.5 584.1,674.7 593.0,674.9 602.0,675.7 611.0,675.0 619.9,672.5" fill="none" stroke="#fff4d8" stroke-opacity="0.18" stroke-width="1.4"/>
<polyline points="317.8,662.7 329.0,660.8 340.3,659.5 351.5,660.0 362.7,660.6 374.0,663.4 385.2,664.0 396.4,661.6 407.7,659.1" fill="none" stroke="#b09058" stroke-opacity="0.09" stroke-width="1.4"/>
<polyline points="491.3,647.1 501.7,648.9 512.1,651.4 522.4,650.6 532.8,647.3 543.2,647.3 553.6,649.1 564.0,652.2 574.4,649.6" fill="none" stroke="#fff4d8" stroke-opacity="0.24" stroke-width="1.4"/>
<polyline points="535.3,462.5 544.6,460.6 553.8,458.8 563.1,458.3 572.3,460.2 581.6,461.4 590.9,461.7 600.1,459.9 609.4,459.6" fill="none" stroke="#fff4d8" stroke-opacity="0.23" stroke-width="1.1"/>
<polyline points="498.9,869.5 508.6,869.2 518.3,866.6 528.1,865.2 537.8,866.2 547.5,869.8 557.2,870.3 567.0,867.2 576.7,867.3" fill="none" stroke="#fff4d8" stroke-opacity="0.15" stroke-width="1.5"/>
<polyline points="239.4,794.7 249.0,795.9 258.5,797.8 268.1,798.0 277.6,797.1 287.1,794.5 296.7,794.3 306.2,795.3 315.7,798.8" fill="none" stroke="#b09058" stroke-opacity="0.07" stroke-width="1.9"/>
<polyline points="386.6,464.6 391.8,464.5 397.0,465.1 402.2,465.9 407.4,466.2 412.7,467.9 417.9,468.8 423.1,468.5 428.3,468.8" fill="none" stroke="#b09058" stroke-opacity="0.13" stroke-width="1.8"/>
<polyline points="507.5,671.5 514.6,671.0 521.7,670.7 528.8,671.1 536.0,672.1 543.1,672.9 550.2,672.5 557.3,673.1 564.4,671.0" fill="none" stroke="#b09058" stroke-opacity="0.12" stroke-width="1.9"/>
<polyline points="267.2,615.0 278.1,615.0 289.0,616.8 300.0,618.8 310.9,617.7 321.8,615.9 332.8,614.9 343.7,617.1 354.6,616.9" fill="none" stroke="#b09058" stroke-opacity="0.11" stroke-width="1.7"/>
<polyline points="236.4,529.8 245.3,529.9 254.2,531.7 263.0,533.8 271.9,532.7 280.7,532.0 289.6,528.7 298.4,530.2 307.3,531.8" fill="none" stroke="#fff4d8" stroke-opacity="0.20" stroke-width="1.8"/>
<polyline points="230.9,824.4 238.1,825.0 245.4,824.9 252.7,824.2 259.9,823.2 267.2,822.2 274.5,821.7 281.7,821.7 289.0,821.1" fill="none" stroke="#b09058" stroke-opacity="0.09" stroke-width="1.8"/>
<polyline points="367.5,449.1 370.8,449.4 374.1,449.8 377.4,450.0 380.7,450.4 384.0,451.1 387.3,451.0 390.6,450.6 393.9,450.7" fill="none" stroke="#fff4d8" stroke-opacity="0.30" stroke-width="1.1"/>
<polyline points="229.9,525.1 237.5,526.6 245.1,529.3 252.7,530.1 260.3,528.5 267.9,525.6 275.5,525.0 283.1,526.7 290.7,528.7" fill="none" stroke="#b09058" stroke-opacity="0.07" stroke-width="1.5"/>
<polyline points="359.7,872.4 366.9,873.3 374.1,874.2 381.4,875.6 388.6,875.7 395.8,875.9 403.1,875.2 410.3,874.4 417.5,874.1" fill="none" stroke="#fff4d8" stroke-opacity="0.28" stroke-width="1.1"/>
<polyline points="579.6,857.9 587.7,859.5 595.8,861.0 604.0,860.8 612.1,859.6 620.2,856.9 628.3,855.7 636.4,856.9 644.5,858.7" fill="none" stroke="#b09058" stroke-opacity="0.07" stroke-width="1.7"/>
<polyline points="301.2,864.4 311.0,864.4 320.8,866.1 330.6,868.0 340.4,868.5 350.1,866.5 359.9,865.9 369.7,863.8 379.5,866.8" fill="none" stroke="#b09058" stroke-opacity="0.13" stroke-width="2.1"/>
<polyline points="379.4,757.5 384.5,757.1 389.6,756.4 394.7,755.8 399.8,755.2 404.9,755.1 410.0,754.8 415.1,753.9 420.2,755.0" fill="none" stroke="#b09058" stroke-opacity="0.10" stroke-width="1.7"/>
<polyline points="515.7,533.9 522.8,535.2 529.8,536.2 536.9,536.9 544.0,536.3 551.0,535.5 558.1,535.5 565.2,533.3 572.2,532.1" fill="none" stroke="#fff4d8" stroke-opacity="0.13" stroke-width="1.7"/>
<polyline points="287.0,548.4 295.3,549.8 303.6,550.5 311.9,549.7 320.2,548.7 328.5,547.3 336.8,545.8 345.1,547.0 353.4,546.2" fill="none" stroke="#b09058" stroke-opacity="0.12" stroke-width="2.0"/>
<polyline points="399.8,662.5 409.7,661.7 419.7,660.9 429.7,661.8 439.7,662.3 449.7,661.8 459.6,659.6 469.6,661.9 479.6,662.5" fill="none" stroke="#fff4d8" stroke-opacity="0.28" stroke-width="1.1"/>
<polyline points="390.9,533.8 402.1,533.6 413.3,532.1 424.6,531.5 435.8,531.5 447.0,533.4 458.2,532.4 469.5,534.4 480.7,534.8" fill="none" stroke="#b09058" stroke-opacity="0.12" stroke-width="1.1"/>
<polyline points="287.3,656.5 291.4,656.5 295.5,656.6 299.6,657.3 303.7,657.7 307.9,658.0 312.0,658.9 316.1,659.3 320.2,658.5" fill="none" stroke="#fff4d8" stroke-opacity="0.15" stroke-width="1.8"/>
<polyline points="407.3,707.4 416.8,706.3 426.2,705.1 435.6,703.8 445.0,704.7 454.4,705.2 463.8,707.5 473.2,707.9 482.6,708.7" fill="none" stroke="#b09058" stroke-opacity="0.11" stroke-width="2.2"/>
<polyline points="335.2,796.2 339.1,796.9 343.1,797.4 347.1,797.6 351.0,797.8 355.0,797.7 359.0,797.1 362.9,796.4 366.9,796.6" fill="none" stroke="#fff4d8" stroke-opacity="0.14" stroke-width="1.7"/>
<polyline points="304.9,562.1 315.2,562.6 325.4,563.9 335.7,565.1 345.9,566.2 356.1,566.0 366.4,563.3 376.6,563.2 386.9,561.2" fill="none" stroke="#fff4d8" stroke-opacity="0.24" stroke-width="1.9"/>
<polyline points="598.0,590.5 607.0,591.0 615.9,591.6 624.9,592.3 633.9,592.9 642.8,593.1 651.8,592.6 660.8,591.1 669.7,589.6" fill="none" stroke="#b09058" stroke-opacity="0.12" stroke-width="1.8"/>
<polyline points="543.1,620.6 546.4,620.9 549.6,621.2 552.9,621.2 556.2,621.3 559.4,621.8 562.7,621.8 566.0,620.9 569.2,621.2" fill="none" stroke="#b09058" stroke-opacity="0.10" stroke-width="2.0"/>
<polyline points="576.4,727.3 585.0,728.2 593.7,728.0 602.4,727.1 611.0,725.5 619.7,723.6 628.4,723.4 637.0,724.6 645.7,724.1" fill="none" stroke="#b09058" stroke-opacity="0.11" stroke-width="1.9"/>
<polyline points="442.5,595.8 451.6,595.7 460.7,596.2 469.8,597.5 478.9,597.7 488.0,598.1 497.1,598.2 506.2,598.1 515.3,595.8" fill="none" stroke="#b09058" stroke-opacity="0.10" stroke-width="1.9"/>
<polyline points="210.9,628.3 217.2,628.8 223.4,628.8 229.7,628.8 235.9,628.4 242.2,628.1 248.5,626.7 254.7,626.4 261.0,625.4" fill="none" stroke="#b09058" stroke-opacity="0.12" stroke-width="1.6"/>
<polyline points="449.1,772.8 452.9,772.2 456.7,771.7 460.5,771.1 464.3,770.9 468.1,770.3 471.9,771.0 475.7,770.8 479.5,771.2" fill="none" stroke="#fff4d8" stroke-opacity="0.19" stroke-width="1.3"/>
<polyline points="450.8,747.1 454.4,747.6 458.0,748.1 461.5,748.8 465.1,749.1 468.7,748.6 472.2,748.5 475.8,748.1 479.4,747.9" fill="none" stroke="#fff4d8" stroke-opacity="0.24" stroke-width="2.1"/>
<polyline points="210.5,481.7 214.5,482.0 218.5,482.2 222.6,482.1 226.6,481.5 230.6,481.1 234.7,480.1 238.7,480.1 242.8,480.1" fill="none" stroke="#b09058" stroke-opacity="0.07" stroke-width="1.2"/>
<polyline points="478.9,837.2 488.3,837.1 497.6,838.1 506.9,838.1 516.2,838.0 525.5,837.8 534.9,837.9 544.2,838.3 553.5,837.7" fill="none" stroke="#b09058" stroke-opacity="0.14" stroke-width="1.4"/>
<polyline points="598.6,546.5 605.2,546.0 611.8,545.4 618.4,544.3 625.0,543.6 631.6,543.9 638.2,544.4 644.8,544.7 651.4,545.5" fill="none" stroke="#b09058" stroke-opacity="0.13" stroke-width="2.1"/>
<polyline points="355.1,679.9 358.3,679.2 361.5,678.5 364.6,677.5 367.8,677.0 371.0,677.1 374.2,677.2 377.4,677.8 380.6,678.5" fill="none" stroke="#fff4d8" stroke-opacity="0.27" stroke-width="1.9"/>
<polyline points="424.8,655.7 434.5,654.4 444.1,653.7 453.8,655.0 463.4,656.0 473.1,657.4 482.7,656.3 492.4,656.2 502.1,655.3" fill="none" stroke="#b09058" stroke-opacity="0.09" stroke-width="1.4"/>
<polyline points="441.9,635.6 445.3,636.4 448.7,637.4 452.1,637.9 455.5,638.2 458.9,638.1 462.3,637.3 465.7,636.2 469.1,636.1" fill="none" stroke="#b09058" stroke-opacity="0.12" stroke-width="1.3"/>
<polyline points="405.8,665.2 411.9,664.6 418.0,664.0 424.0,663.1 430.1,663.4 436.2,663.0 442.3,663.7 448.4,664.2 454.5,665.2" fill="none" stroke="#fff4d8" stroke-opacity="0.24" stroke-width="1.4"/>
<polyline points="397.4,788.9 405.8,786.6 414.1,784.2 422.5,785.3 430.8,788.5 439.2,788.5 447.5,787.0 455.9,783.7 464.3,786.1" fill="none" stroke="#b09058" stroke-opacity="0.09" stroke-width="1.5"/>
<polyline points="336.8,608.4 343.3,609.3 349.8,609.8 356.3,609.6 362.7,609.7 369.2,609.1 375.7,607.5 382.1,606.7 388.6,605.3" fill="none" stroke="#fff4d8" stroke-opacity="0.27" stroke-width="1.8"/>
<polyline points="456.1,642.9 460.7,642.7 465.4,642.3 470.0,641.9 474.6,641.9 479.3,641.4 483.9,641.7 488.5,641.9 493.1,641.6" fill="none" stroke="#fff4d8" stroke-opacity="0.27" stroke-width="1.7"/>
<polyline points="474.2,699.6 481.8,700.7 489.4,701.8 496.9,702.1 504.5,701.4 512.1,699.6 519.7,699.3 527.3,697.8 534.9,697.4" fill="none" stroke="#b09058" stroke-opacity="0.07" stroke-width="2.0"/>
<polyline points="300.5,584.5 303.9,584.4 307.4,584.2 310.8,584.0 314.2,583.8 317.7,583.3 321.1,583.2 324.5,582.5 327.9,582.2" fill="none" stroke="#b09058" stroke-opacity="0.12" stroke-width="1.2"/>
  </g>
</g>
<path d="M420.00,483.50 C414.17,491.00 407.61,497.89 402.50,506.00 C397.24,514.35 392.71,523.48 389.00,533.00 C385.14,542.90 383.02,552.18 380.00,564.40 C375.86,581.15 371.23,604.23 367.50,624.50 C363.71,645.09 360.30,664.77 357.50,687.00 C354.32,712.20 353.18,742.80 350.00,768.00 C347.20,790.23 343.53,810.86 340.00,830.50 C336.83,848.13 333.86,862.94 330.00,880.50 C325.67,900.21 321.40,924.14 315.00,943.00 C309.40,959.51 302.88,976.53 295.00,988.00 C289.03,996.69 280.88,1004.12 275.00,1008.00 C271.37,1010.39 268.93,1011.87 265.00,1012.00 C259.50,1012.18 250.84,1009.82 245.00,1005.50 C237.97,1000.29 230.92,990.22 227.50,980.50 C223.70,969.71 224.45,956.37 225.00,943.00 C225.64,927.50 230.05,908.46 232.50,893.00 C234.62,879.59 239.15,867.96 238.75,855.50 C238.35,842.96 232.41,831.47 230.00,818.00 C227.25,802.60 225.40,785.16 223.75,768.00 C222.01,749.89 220.15,730.14 220.00,712.00 C219.86,694.87 221.74,680.35 222.50,662.00 C223.44,639.53 224.48,612.00 225.00,587.00 C225.52,562.00 225.54,536.30 225.60,512.00 C225.66,489.04 225.57,463.13 225.40,445.00 C225.28,432.62 225.27,425.21 224.90,413.75 C224.44,399.71 223.76,382.51 222.60,366.90 C221.43,351.26 219.04,331.79 217.90,320.00 C217.21,312.86 216.48,308.98 216.30,302.80 C216.09,295.61 216.58,287.19 217.10,279.40 C217.62,271.59 218.37,263.79 219.40,256.00 C220.43,248.16 221.74,240.31 223.30,232.50 C224.87,224.64 226.44,216.30 228.80,209.00 C230.96,202.32 233.91,196.06 236.60,190.30 C239.00,185.16 241.31,179.95 244.00,176.00 C246.19,172.79 248.46,170.36 251.00,168.00 C253.47,165.71 256.14,163.33 259.00,162.00 C261.67,160.75 264.22,159.71 267.50,160.00 C272.35,160.42 278.69,164.58 285.00,167.50 C292.64,171.04 301.75,175.47 310.00,180.00 C318.42,184.62 327.26,189.79 335.00,195.00 C342.17,199.82 348.21,206.91 355.00,210.00 C360.75,212.62 365.52,213.03 372.50,213.75 C382.60,214.79 397.31,214.02 410.00,213.50 C423.13,212.96 435.93,211.63 450.00,210.50 C465.74,209.24 486.54,208.60 500.00,206.25 C509.35,204.62 515.71,202.80 523.40,200.00 C531.36,197.10 539.02,192.40 546.90,189.00 C554.66,185.65 562.42,182.31 570.30,179.70 C578.04,177.13 587.11,174.47 593.75,173.40 C598.52,172.63 602.11,172.31 606.25,172.70 C610.45,173.09 615.04,174.04 618.75,175.80 C622.28,177.48 625.58,179.65 628.10,182.80 C630.99,186.42 632.74,191.77 634.40,196.90 C636.25,202.60 637.29,209.29 638.30,215.60 C639.33,221.98 639.88,228.65 640.50,235.00 C641.10,241.11 641.66,246.00 642.00,253.00 C642.47,262.74 642.65,276.13 642.50,288.00 C642.34,300.29 641.78,312.58 641.00,325.50 C640.16,339.35 639.39,355.33 637.50,368.50 C635.87,379.87 633.01,389.02 631.00,400.00 C628.82,411.93 627.25,425.02 625.00,437.50 C622.75,450.02 619.17,463.05 617.50,475.00 C615.99,485.78 615.17,496.55 615.00,506.00 C614.86,513.96 615.34,519.88 616.00,528.00 C616.82,538.12 618.96,549.56 620.00,562.00 C621.26,577.05 622.50,595.33 622.50,612.00 C622.50,628.67 621.66,645.37 620.00,662.00 C618.33,678.71 615.31,694.88 612.50,712.00 C609.52,730.16 605.75,748.81 602.50,768.00 C599.07,788.25 596.97,810.97 592.50,830.50 C588.44,848.24 583.27,862.99 577.50,880.50 C570.99,900.26 564.38,924.38 555.00,943.00 C546.53,959.80 535.96,975.81 525.00,988.00 C515.69,998.36 505.06,1007.79 495.00,1013.00 C486.91,1017.19 477.71,1019.93 470.60,1019.50 C464.87,1019.15 458.80,1017.39 455.40,1013.40 C451.37,1008.68 450.62,999.60 450.30,991.00 C449.87,979.52 454.21,963.02 456.40,950.50 C458.31,939.59 460.16,929.82 462.50,920.00 C464.72,910.68 467.61,903.94 470.00,893.00 C473.59,876.55 477.08,851.36 480.00,830.50 C482.91,809.70 485.82,789.31 487.50,768.00 C489.25,745.85 490.00,719.54 490.10,700.00 C490.17,685.21 489.81,673.51 489.00,661.00 C488.25,649.34 486.94,638.33 485.60,627.30 C484.30,616.61 483.12,605.60 481.10,595.80 C479.29,587.01 476.99,579.28 474.40,571.10 C471.77,562.81 469.06,554.50 465.40,546.40 C461.61,538.02 456.80,529.61 451.90,521.70 C447.06,513.89 441.81,505.79 436.20,499.20 C431.11,493.22 425.40,488.73 420.00,483.50 Z" fill="none" stroke="url(#gStroke)" stroke-width="1.8"/>
<path d="M337.50,279.40 C342.18,278.59 347.06,279.56 352.50,280.60 C359.31,281.90 367.33,284.98 375.00,287.50 C383.14,290.17 392.09,293.75 400.00,296.25 C407.00,298.46 414.16,299.91 420.00,301.90 C424.70,303.50 428.18,305.56 432.50,306.90 C436.92,308.27 441.90,309.99 446.25,310.00 C450.19,310.01 453.36,308.91 457.50,307.50 C463.05,305.61 470.00,301.67 476.25,298.75 C482.50,295.83 488.66,292.41 495.00,290.00 C501.17,287.66 508.63,284.97 513.75,284.40 C517.17,284.02 519.96,284.01 522.50,285.00 C524.93,285.95 527.00,287.73 528.75,290.00 C530.92,292.82 532.43,297.15 533.75,301.25 C535.23,305.82 536.27,311.01 536.90,316.25 C537.58,321.89 537.54,327.95 537.50,334.00 C537.46,340.32 536.81,346.85 536.60,353.40 C536.39,360.10 536.02,366.85 536.25,373.75 C536.49,380.91 537.13,387.88 538.10,395.60 C539.21,404.41 540.81,414.16 542.80,423.75 C544.92,433.94 547.83,444.30 550.60,455.00 C553.54,466.35 557.21,479.68 560.00,490.00 C562.21,498.18 563.78,503.16 566.00,512.00 C569.33,525.27 575.00,545.23 577.50,562.00 C579.97,578.57 581.00,595.33 581.00,612.00 C581.00,628.67 579.33,645.37 577.50,662.00 C575.67,678.70 573.18,694.92 570.00,712.00 C566.61,730.20 561.18,748.76 557.50,768.00 C553.63,788.20 551.24,809.70 547.50,830.50 C543.74,851.37 539.41,873.38 535.00,893.00 C531.03,910.65 526.18,927.45 522.50,943.00 C519.30,956.51 518.41,970.37 514.00,981.00 C510.39,989.70 505.40,1001.86 500.00,1003.00 C495.51,1003.95 487.57,998.81 485.00,993.00 C480.69,983.27 490.00,959.67 492.50,943.00 C495.00,926.33 497.27,910.59 500.00,893.00 C503.05,873.32 506.87,851.35 510.00,830.50 C513.12,809.68 515.75,788.25 518.75,768.00 C521.59,748.81 525.17,730.17 527.50,712.00 C529.69,694.89 531.67,678.69 532.50,662.00 C533.33,645.35 533.33,628.65 532.50,612.00 C531.67,595.31 529.39,577.92 527.50,562.00 C525.76,547.37 523.65,530.33 521.70,520.00 C520.54,513.87 520.02,511.12 518.20,505.50 C515.52,497.23 510.64,484.49 505.90,475.60 C501.70,467.72 497.03,461.19 491.80,454.50 C486.50,447.72 480.66,441.05 474.25,435.20 C467.80,429.31 460.45,422.65 453.20,419.30 C446.91,416.40 440.41,415.06 433.80,415.00 C426.92,414.94 419.02,416.10 412.70,419.30 C406.08,422.66 400.85,429.32 395.20,435.20 C389.12,441.54 383.40,449.04 377.60,456.25 C371.66,463.63 365.52,470.45 360.00,479.00 C353.71,488.74 348.49,499.75 342.50,512.00 C335.24,526.84 325.44,545.02 320.00,562.00 C314.75,578.38 312.08,595.26 310.00,612.00 C307.94,628.59 308.17,645.33 307.50,662.00 C306.83,678.66 306.41,694.86 306.00,712.00 C305.57,730.14 305.55,748.82 305.00,768.00 C304.41,788.26 304.36,810.88 302.50,830.50 C300.83,848.14 297.91,863.87 295.00,880.50 C292.08,897.20 288.33,913.83 285.00,930.50 C281.67,947.17 278.22,966.34 275.00,980.50 C272.60,991.06 272.29,1004.67 268.00,1008.00 C265.55,1009.90 260.96,1010.08 258.75,1008.00 C254.14,1003.67 256.34,982.08 256.25,968.00 C256.15,952.26 257.30,934.64 258.75,918.00 C260.21,901.31 263.26,883.48 265.00,868.00 C266.51,854.61 268.19,844.61 268.75,830.50 C269.47,812.33 268.23,786.94 267.50,768.00 C266.89,752.18 265.81,739.51 265.00,724.50 C264.14,708.41 262.09,691.15 262.50,674.50 C262.91,657.82 264.54,641.99 267.50,624.50 C270.85,604.72 276.75,581.54 282.50,562.00 C287.72,544.26 295.49,525.31 300.00,512.00 C302.98,503.20 305.05,497.77 307.20,490.00 C309.56,481.47 311.44,471.02 313.40,462.80 C315.04,455.95 317.05,450.43 318.10,444.00 C319.17,437.42 319.60,431.23 319.70,423.75 C319.83,414.46 318.88,402.91 318.10,392.50 C317.32,382.07 315.78,371.68 315.00,361.25 C314.22,350.84 313.53,338.73 313.40,330.00 C313.31,323.71 313.08,319.13 313.75,313.75 C314.43,308.30 315.51,302.42 317.50,297.50 C319.36,292.90 321.59,288.03 325.00,285.00 C328.31,282.06 333.04,280.17 337.50,279.40 Z" fill="url(#gPulp)" stroke="url(#gStroke)" stroke-width="1.8"/>
<path d="M181.80,113.00 C184.12,107.00 185.73,100.93 188.75,95.00 C192.01,88.58 196.72,81.96 201.00,76.00 C205.07,70.33 208.61,65.48 213.75,60.00 C220.10,53.23 228.27,45.42 236.90,39.00 C246.20,32.09 257.34,25.29 268.00,20.30 C278.20,15.53 289.56,11.58 299.40,9.40 C307.71,7.56 315.14,6.59 323.00,7.00 C330.97,7.42 339.19,9.13 346.90,12.00 C354.98,15.01 362.53,20.52 370.30,25.00 C378.15,29.52 385.80,34.92 393.75,39.00 C401.44,42.95 410.04,47.32 417.20,49.20 C422.80,50.67 427.67,51.41 432.80,50.80 C438.07,50.17 443.38,47.71 448.40,45.30 C453.59,42.81 457.92,39.70 463.40,36.00 C470.44,31.24 478.89,23.79 486.90,18.75 C494.54,13.94 502.25,8.85 510.30,6.25 C517.90,3.80 525.93,3.10 533.75,3.10 C541.57,3.10 549.47,4.47 557.20,6.25 C565.09,8.07 573.26,11.02 580.60,14.00 C587.47,16.79 593.06,19.64 600.00,23.40 C608.47,27.99 619.01,33.91 627.50,40.00 C635.62,45.83 643.40,51.88 650.00,59.00 C656.55,66.06 661.33,74.67 667.00,82.50 C664.67,80.33 662.46,77.94 660.00,76.00 C657.62,74.12 655.68,72.32 652.50,71.00 C648.02,69.14 640.01,67.38 635.00,67.50 C631.19,67.59 628.24,68.07 625.00,70.00 C620.66,72.60 616.57,78.89 612.50,83.75 C608.23,88.86 604.46,95.46 600.00,100.00 C596.06,104.01 592.06,107.30 587.50,110.00 C582.90,112.72 578.11,114.64 572.50,116.25 C565.85,118.16 557.69,118.59 550.00,120.00 C541.87,121.49 533.31,123.13 525.00,125.00 C516.64,126.88 508.17,128.23 500.00,131.25 C491.49,134.40 482.61,139.33 475.00,143.75 C468.17,147.72 461.67,153.48 456.25,156.25 C452.52,158.16 449.34,160.36 446.25,160.00 C443.27,159.66 440.81,156.83 438.00,154.50 C434.49,151.60 431.20,147.36 427.20,143.50 C422.49,138.94 417.38,133.09 411.40,129.00 C405.12,124.71 397.73,121.32 390.20,118.60 C382.31,115.75 373.35,114.76 365.00,112.50 C356.62,110.23 348.33,107.50 340.00,105.00 C331.67,102.50 323.35,99.90 315.00,97.50 C306.68,95.10 297.08,92.98 290.00,90.60 C284.60,88.78 281.04,86.68 276.00,85.00 C270.31,83.10 263.71,81.17 257.50,80.00 C251.38,78.85 245.20,77.85 239.00,78.00 C232.70,78.15 225.81,79.05 220.00,81.00 C214.54,82.83 209.64,85.94 205.00,89.00 C200.50,91.97 195.79,96.19 192.50,99.00 C190.26,100.91 188.66,101.93 187.00,104.00 C185.03,106.44 183.53,110.00 181.80,113.00 Z" fill="url(#gGrey)"/>
<g fill="none" stroke="#000" stroke-linecap="round" stroke-linejoin="round">
  <path d="M223.30,416.90 C220.45,410.60 217.52,404.89 214.75,398.00 C211.53,390.00 207.85,378.62 205.40,371.60 C203.78,366.95 202.96,364.93 201.40,360.00 C198.70,351.50 194.59,336.33 191.25,325.00 C188.09,314.28 184.52,304.23 181.90,293.75 C179.31,283.39 177.30,272.97 175.60,262.50 C173.90,252.05 172.60,241.47 171.70,231.00 C170.81,220.64 170.24,209.21 170.20,200.00 C170.17,192.61 170.62,186.66 171.00,180.00 C171.38,173.33 171.75,167.03 172.50,160.00 C173.35,152.12 174.50,142.94 176.00,135.00 C177.38,127.66 178.84,120.74 181.00,114.00 C183.11,107.42 185.53,101.19 188.75,95.00 C192.13,88.51 196.72,81.96 201.00,76.00 C205.07,70.33 208.61,65.48 213.75,60.00 C220.10,53.23 228.27,45.42 236.90,39.00 C246.20,32.09 257.34,25.29 268.00,20.30 C278.20,15.53 289.56,11.58 299.40,9.40 C307.71,7.56 315.14,6.59 323.00,7.00 C330.97,7.42 339.19,9.13 346.90,12.00 C354.98,15.01 362.53,20.52 370.30,25.00 C378.15,29.52 385.80,34.92 393.75,39.00 C401.44,42.95 410.04,47.32 417.20,49.20 C422.80,50.67 427.67,51.41 432.80,50.80 C438.07,50.17 443.38,47.71 448.40,45.30 C453.59,42.81 457.92,39.70 463.40,36.00 C470.44,31.24 478.89,23.79 486.90,18.75 C494.54,13.94 502.25,8.85 510.30,6.25 C517.90,3.80 525.93,3.10 533.75,3.10 C541.57,3.10 549.47,4.47 557.20,6.25 C565.09,8.07 573.26,11.02 580.60,14.00 C587.47,16.79 593.06,19.64 600.00,23.40 C608.47,27.99 619.01,33.91 627.50,40.00 C635.62,45.83 643.17,51.81 650.00,59.00 C657.05,66.42 663.74,75.39 669.00,84.00 C673.95,92.09 677.89,100.51 681.00,109.00 C684.00,117.19 685.88,125.27 687.50,134.00 C689.23,143.34 689.99,154.14 690.80,163.40 C691.53,171.66 692.05,179.07 692.30,186.90 C692.55,194.70 692.55,202.50 692.30,210.30 C692.05,218.12 691.51,226.38 690.80,233.75 C690.17,240.36 689.29,246.13 688.40,252.50 C687.47,259.14 686.48,265.55 685.30,272.80 C683.93,281.21 682.15,292.23 680.60,300.00 C679.43,305.88 678.54,309.64 677.10,315.40 C675.25,322.83 672.93,333.04 670.20,340.80 C667.77,347.69 664.74,353.72 661.90,359.80 C659.23,365.53 656.68,370.98 653.70,376.30 C650.75,381.57 647.41,386.21 644.10,391.60 C640.43,397.57 636.50,404.27 632.70,410.60" stroke-width="5.5"/>
  <path d="M181.80,113.00 C183.53,110.00 185.03,106.44 187.00,104.00 C188.66,101.93 190.26,100.91 192.50,99.00 C195.79,96.19 200.50,91.97 205.00,89.00 C209.64,85.94 214.54,82.83 220.00,81.00 C225.81,79.05 232.70,78.15 239.00,78.00 C245.20,77.85 251.38,78.85 257.50,80.00 C263.71,81.17 270.31,83.10 276.00,85.00 C281.04,86.68 284.60,88.78 290.00,90.60 C297.08,92.98 306.68,95.10 315.00,97.50 C323.35,99.90 331.67,102.50 340.00,105.00 C348.33,107.50 356.62,110.23 365.00,112.50 C373.35,114.76 382.31,115.75 390.20,118.60 C397.73,121.32 405.12,124.71 411.40,129.00 C417.38,133.09 422.49,138.94 427.20,143.50 C431.20,147.36 434.49,151.60 438.00,154.50 C440.81,156.83 443.27,159.66 446.25,160.00 C449.34,160.36 452.52,158.16 456.25,156.25 C461.67,153.48 468.17,147.72 475.00,143.75 C482.61,139.33 491.49,134.40 500.00,131.25 C508.17,128.23 516.64,126.88 525.00,125.00 C533.31,123.13 541.87,121.49 550.00,120.00 C557.69,118.59 565.85,118.16 572.50,116.25 C578.11,114.64 582.90,112.72 587.50,110.00 C592.06,107.30 596.06,104.01 600.00,100.00 C604.46,95.46 608.23,88.86 612.50,83.75 C616.57,78.89 620.66,72.60 625.00,70.00 C628.24,68.07 631.19,67.59 635.00,67.50 C640.01,67.38 648.02,69.14 652.50,71.00 C655.68,72.32 657.62,74.12 660.00,76.00 C662.46,77.94 664.67,80.33 667.00,82.50" stroke-width="4.9"/>
  <path d="M318.75,55.60 C325.83,58.32 332.75,60.38 340.00,63.75 C348.12,67.52 357.64,72.40 365.00,77.50 C371.62,82.08 378.16,87.37 382.50,92.50 C385.95,96.58 388.43,100.82 390.00,105.00 C391.38,108.66 391.33,112.33 392.00,116.00" stroke-width="5.0"/>
  <path d="M528.90,43.30 C523.67,45.73 518.30,48.05 513.20,50.60 C508.21,53.09 503.40,55.52 498.60,58.40 C493.66,61.37 488.49,64.69 484.00,68.20 C479.73,71.54 475.81,75.11 472.20,78.90 C468.66,82.62 465.36,86.78 462.50,90.70 C459.89,94.28 457.35,97.81 455.60,101.40 C454.02,104.64 452.94,107.74 452.20,111.20 C451.42,114.88 451.53,119.00 451.20,122.90" stroke-width="5.0"/>
</g>
<g fill="#000">
  <path d="M176.90,23.50 C175.38,24.36 173.85,25.03 172.34,26.07 C170.66,27.23 168.91,28.62 167.31,30.25 C165.54,32.06 163.82,34.21 162.31,36.54 C160.65,39.10 159.18,41.98 157.87,45.05 C156.45,48.41 155.32,52.13 154.22,55.97 C153.03,60.13 151.97,64.57 151.08,69.16 C150.12,74.08 149.33,79.20 148.74,84.61 C148.10,90.52 147.73,96.78 147.52,103.25 C147.29,110.27 147.38,117.87 147.55,125.21 C147.71,132.62 148.18,140.42 148.52,147.50 C148.83,153.94 149.24,160.21 149.49,165.94 C149.71,170.94 150.21,175.78 150.00,180.00 C149.83,183.48 149.43,186.34 148.70,189.50 C147.94,192.78 146.96,196.13 145.45,199.30 C143.85,202.65 141.06,206.32 139.20,209.00 C137.83,210.97 136.61,212.33 135.45,214.00 C134.35,215.60 133.42,217.20 132.40,218.80 L132.40,224.20 C133.08,225.67 133.47,226.89 134.45,228.60 C135.98,231.27 139.10,235.11 141.20,238.40 C143.23,241.58 145.42,244.68 146.85,248.00 C148.22,251.19 149.17,254.31 149.70,257.90 C150.30,262.00 149.89,266.76 149.85,271.32 C149.81,276.06 149.63,280.93 149.43,285.84 C149.22,290.90 148.90,296.09 148.61,301.25 C148.31,306.44 147.92,311.66 147.67,316.88 C147.42,322.12 147.16,327.34 147.11,332.62 C147.07,337.95 147.10,343.32 147.42,348.70 C147.74,354.13 148.26,359.66 149.07,365.03 C149.87,370.31 150.95,375.69 152.22,380.64 C153.40,385.26 154.72,389.82 156.32,393.86 C157.75,397.47 159.33,400.78 161.14,403.81 C162.82,406.61 164.73,409.16 166.70,411.46 C168.54,413.61 170.58,415.60 172.52,417.27 C174.24,418.76 175.97,419.82 177.70,421.10 L176.90,412.50 C174.93,409.74 172.75,407.20 170.98,404.21 C169.12,401.05 167.43,397.67 166.09,393.96 C164.61,389.87 163.53,385.29 162.68,380.64 C161.77,375.68 161.29,370.30 160.92,365.03 C160.54,359.65 160.45,354.12 160.47,348.70 C160.50,343.32 160.81,337.95 161.06,332.62 C161.30,327.34 161.71,322.12 161.95,316.88 C162.19,311.66 162.45,306.44 162.47,301.25 C162.50,296.09 162.44,290.89 162.13,285.84 C161.82,280.92 161.26,276.05 160.66,271.32 C160.08,266.75 159.71,261.98 158.60,257.90 C157.62,254.29 156.14,251.24 154.65,248.00 C153.14,244.74 151.66,241.52 149.60,238.40 C147.38,235.04 143.33,231.83 141.65,228.60 C140.32,226.04 140.22,223.53 139.50,221.00 L139.50,221.00 C140.55,218.67 141.38,216.07 142.65,214.00 C143.81,212.11 145.24,210.98 146.70,209.00 C148.66,206.34 151.38,202.63 153.15,199.30 C154.84,196.12 156.16,192.86 157.20,189.50 C158.24,186.14 158.76,182.81 159.40,179.12 C160.11,174.99 160.74,170.65 161.17,165.86 C161.68,160.24 161.90,153.91 162.04,147.49 C162.20,140.42 162.13,132.59 161.99,125.19 C161.85,117.84 161.46,110.22 161.22,103.25 C161.00,96.90 160.61,90.76 160.60,85.06 C160.59,80.01 160.65,75.28 161.04,70.75 C161.40,66.63 161.97,62.69 162.72,59.00 C163.41,55.64 164.29,52.38 165.25,49.48 C166.09,46.94 166.96,44.56 168.04,42.49 C168.98,40.69 170.06,39.12 171.19,37.69 C172.22,36.38 173.37,35.28 174.47,34.21 C175.51,33.20 176.56,32.34 177.60,31.40 Z"/>
  <path d="M172.60,498.50 C170.78,499.67 168.93,500.60 167.14,502.00 C165.15,503.56 163.10,505.38 161.28,507.55 C159.21,510.00 157.26,512.97 155.56,516.15 C153.67,519.68 152.04,523.74 150.64,527.91 C149.14,532.40 148.00,537.32 146.97,542.24 C145.90,547.37 145.07,552.76 144.40,558.09 C143.73,563.48 143.25,568.98 142.96,574.41 C142.68,579.79 142.59,585.17 142.66,590.50 C142.73,595.78 143.05,601.02 143.36,606.25 C143.66,611.46 144.16,616.65 144.49,621.81 C144.82,626.93 145.12,632.02 145.35,637.08 C145.57,642.08 145.92,646.97 145.85,652.00 C145.78,657.14 145.85,663.20 144.90,667.60 C144.16,671.02 143.05,673.56 141.55,676.40 C139.96,679.41 137.43,682.75 135.50,685.10 C134.03,686.88 132.43,687.95 131.25,689.50 C130.16,690.93 129.48,692.50 128.60,694.00 L128.60,699.50 C129.48,701.17 130.06,702.76 131.25,704.50 C132.77,706.72 135.60,708.91 137.30,711.50 C139.05,714.16 140.27,717.34 141.55,720.30 C142.80,723.21 144.23,725.94 144.90,729.10 C145.63,732.53 145.41,736.41 145.51,740.20 C145.62,744.19 145.59,748.24 145.49,752.47 C145.40,757.01 145.15,761.76 144.91,766.56 C144.65,771.59 144.25,776.80 143.96,782.00 C143.66,787.31 143.30,792.71 143.14,798.09 C142.97,803.51 142.83,808.99 142.96,814.41 C143.10,819.79 143.35,825.18 143.95,830.50 C144.55,835.79 145.40,841.08 146.56,846.25 C147.71,851.38 149.15,856.57 150.86,861.39 C152.50,866.01 154.47,870.59 156.55,874.62 C158.43,878.25 160.50,881.74 162.63,884.58 C164.43,886.97 166.35,889.10 168.24,890.73 C169.81,892.07 171.41,892.84 173.00,893.90 L173.00,888.40 C171.87,886.62 170.80,885.08 169.62,883.05 C168.13,880.51 166.36,877.54 164.88,874.28 C163.13,870.45 161.33,865.92 160.06,861.39 C158.72,856.60 157.82,851.37 157.19,846.25 C156.55,841.07 156.37,835.78 156.27,830.50 C156.17,825.17 156.42,819.79 156.62,814.41 C156.82,808.99 157.20,803.51 157.47,798.09 C157.74,792.71 158.09,787.31 158.24,782.00 C158.38,776.80 158.48,771.59 158.34,766.56 C158.22,761.76 157.96,757.00 157.49,752.47 C157.06,748.23 156.39,744.18 155.73,740.20 C155.09,736.40 154.56,732.55 153.60,729.10 C152.73,725.96 151.86,723.13 150.35,720.30 C148.73,717.25 146.04,714.25 144.00,711.50 C142.16,709.02 140.07,707.08 138.65,704.50 C137.18,701.83 136.48,698.63 135.40,695.70 L135.40,695.70 C136.75,693.63 137.95,691.32 139.45,689.50 C140.84,687.82 142.52,686.92 144.00,685.10 C145.88,682.78 147.92,679.37 149.45,676.40 C150.93,673.54 152.14,671.00 153.10,667.60 C154.32,663.27 154.78,657.43 155.48,652.34 C156.18,647.28 156.88,642.24 157.31,637.15 C157.74,632.06 157.97,626.95 158.06,621.81 C158.16,616.65 158.03,611.47 157.86,606.25 C157.69,600.95 157.32,595.67 157.04,590.26 C156.76,584.66 156.36,578.92 156.19,573.19 C156.03,567.39 155.89,561.32 156.07,555.65 C156.24,550.30 156.53,544.89 157.17,540.05 C157.72,535.79 158.45,531.71 159.46,528.11 C160.32,525.01 161.31,522.14 162.59,519.65 C163.73,517.44 165.16,515.51 166.54,513.78 C167.77,512.25 169.16,510.97 170.37,509.73 C171.43,508.63 172.39,507.71 173.40,506.70 Z"/>
</g>
<g stroke="#000" stroke-width="2.6" stroke-linecap="butt">
  <line x1="586" y1="147.5" x2="751" y2="147.5"/>
  <line x1="571" y1="253" x2="749" y2="253"/>
  <line x1="451" y1="374.6" x2="749.3" y2="372.8"/>
  <line x1="614.8" y1="507.5" x2="749" y2="507.5"/>
  <line x1="487.6" y1="1012.6" x2="751.7" y2="806.4"/>
</g>
<text x="832.25" y="157.00" textLength="110.15" lengthAdjust="spacingAndGlyphs" letter-spacing="1.2"><tspan font-size="30.5">E</tspan><tspan font-size="26">NAMEL</tspan></text>
<text x="757.98" y="247.00" textLength="255.36" lengthAdjust="spacingAndGlyphs" letter-spacing="1.2"><tspan font-size="30.5">D</tspan><tspan font-size="26">ENTIN &amp; DENTIN</tspan></text>
<text x="827.26" y="278.60" textLength="117.90" lengthAdjust="spacingAndGlyphs" letter-spacing="1.2"><tspan font-size="26">TUBULES</tspan></text>
<text x="796.98" y="350.40" textLength="183.18" lengthAdjust="spacingAndGlyphs" letter-spacing="1.2"><tspan font-size="30.5">D</tspan><tspan font-size="26">ENTAL PULP</tspan></text>
<text x="802.02" y="375.70" textLength="172.36" lengthAdjust="spacingAndGlyphs" letter-spacing="1.2"><tspan font-size="20.4">BLOOD VESSELS,</tspan></text>
<text x="788.28" y="400.80" textLength="200.06" lengthAdjust="spacingAndGlyphs" letter-spacing="1.2"><tspan font-size="20.4">NERVES &amp; STROMA</tspan></text>
<text x="809.48" y="516.70" textLength="159.16" lengthAdjust="spacingAndGlyphs" letter-spacing="1.2"><tspan font-size="30.5">C</tspan><tspan font-size="26">EMENTUM</tspan></text>
<text x="816.25" y="808.50" textLength="151.11" lengthAdjust="spacingAndGlyphs" letter-spacing="1.2"><tspan font-size="26">ROOT APEX</tspan></text>
<text x="19.26" y="230.20" textLength="104.12" lengthAdjust="spacingAndGlyphs" letter-spacing="1.2"><tspan font-size="26">CROWN</tspan></text>
<text x="31.02" y="704.90" textLength="78.32" lengthAdjust="spacingAndGlyphs" letter-spacing="1.2"><tspan font-size="30.5">R</tspan><tspan font-size="26">OOT</tspan></text>
</svg>
</body></html>
